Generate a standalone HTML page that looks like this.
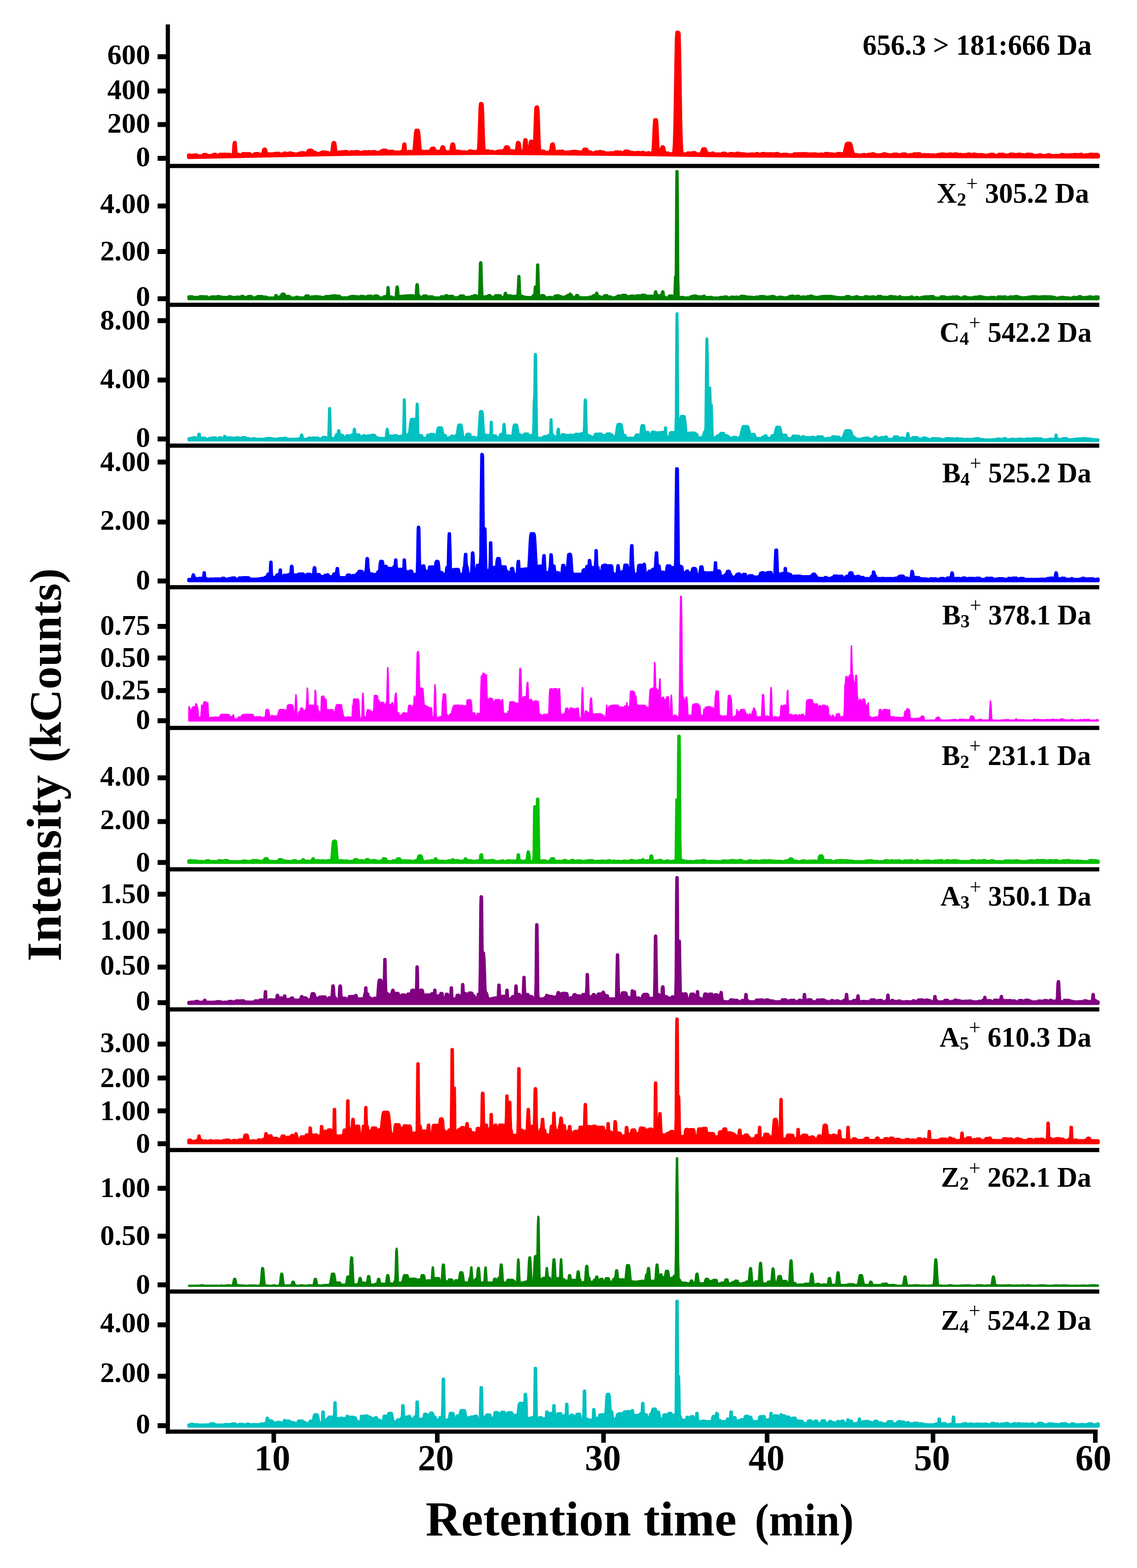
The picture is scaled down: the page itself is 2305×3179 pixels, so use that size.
<!DOCTYPE html><html><head><meta charset="utf-8"><title>Chromatograms</title>
<style>html,body{margin:0;padding:0;background:#fff;overflow:hidden;}svg{display:block;}svg{font-family:"Liberation Serif","Times New Roman",serif;font-weight:bold;}text{fill:#000;}</style></head><body>
<svg width="2305" height="3179" viewBox="0 0 2305 3179">
<rect x="0" y="0" width="2305" height="3179" fill="#fff"/>
<path d="M383.0,318.5L383,315.1L385,315.1L386,315.3L387,316.4L388,317L389,316.2L390,315.7L391,315.6L392,315.6L393,315.2L394,315.1L395,315.1L396,314.9L397,314.9L398,315L399,315L400,316.1L401,317.1L404,317.1L405,317L409,317L410,316.9L411,316.4L412,315.1L413,314.1L416,314.1L417,314L418,314L419,315.2L420,316L421,316L422,315.9L423,316.4L424,316.7L425,316.6L426,316.6L427,316.4L428,315.7L429,315.3L432,315.3L433,314.5L434,313.5L435,313.5L436,313.4L437,313.6L438,314.9L439,316.2L440,316L442,316L443,316.1L444,315.5L445,314.3L446,313.5L447,313.4L451,313.4L452,313.5L453,313.8L454,313.5L457,313.5L458,313.4L459,313.7L460,314.6L461,314.4L462,313.7L463,313.7L464,313.6L465,313.6L466,314.5L467,314.6L468,314.6L469,314.7L470,315.4L471,315.3L472,315.2L473,315.2L474,309.9L475,294.6L475.8,289.6L476,289.6L477,301L478,313.4L480,313.4L481,313.9L482,313.8L483,313.6L484,313.6L485,314.1L486,315L487,315.4L488,315.3L489,314.8L490,314.7L491,313.6L492,312.3L497,312.3L498,312.7L500,312.7L501,312.3L502,312.3L503,312.2L506,312.2L507,313.3L508,314.6L509,314.8L510,314.8L511,314.9L512,314.9L513,314.8L514,314.8L515,314L516,312.8L517,312.2L519,312.2L520,312.1L523,312.1L524,312.7L525,313.5L528,313.5L529,313.4L530,314L531,314.5L532,314.4L533,313.3L534,309.4L535,304.5L536,302.9L537,302.9L538,304.6L539,309.5L540,313.3L541,313.3L542,312.7L546,312.7L547,312.8L548,313.6L549,313.4L550,312.7L553,312.7L554,313.5L555,313L556,311.9L557,311.7L561,311.7L562,311.6L563,311.4L565,311.4L566,311.6L567,312.7L568,313.7L570,313.7L571,313.6L572,313.3L573,313.2L574,312.9L575,312L576,311L577,311L578,311.1L579,311.6L581,311.6L582,312.5L585,312.5L586,311.6L587,310.7L589,310.7L590,311.4L591,312L592,311.8L594,311.8L595,312.1L596,312.9L597,313.1L600,313.1L601,313L604,313L605,312.2L606,311.7L607,311.7L608,311.5L609,310.7L610,310.7L611,310.6L615,310.6L616,310.5L617,310.9L618,312L619,312.4L620,312.4L621,312.3L622,311.9L623,310.6L624,308.8L625,307L626,305.6L627,305.2L631,305.2L632,305.6L633,307L634,308.8L635,310.3L636,309.6L637,309.5L639,309.5L640,310.2L641,311.4L642,312.2L643,312.2L644,312.1L647,312.1L648,311.9L649,311.1L650,310.7L651,310.7L652,309.5L653,309.1L654,309L658,309L659,308.9L660,309.6L661,310.6L662,310.1L663,310.1L664,310L665,310.2L666,311.1L667,311.7L668,311.7L669,311.6L670,311.3L671,310.6L672,310.6L673,310.4L674,305L675,296L676,289.8L676.9,289.6L677,289.6L678,290.3L679,297.9L680,306.4L681,308.8L682,308.9L683,310.1L684,311L685,310.9L686,309.8L687,308.9L690,308.9L691,308.8L692,308.8L693,309L694,308.6L696,308.6L697,308.5L698,309.1L699,308.1L701,308.1L702,308L703,308L704,308.3L705,309.6L706,311L707,311L708,310.9L709,310.5L710,309.3L711,308.6L712,308.6L713,308.5L716,308.5L717,309.3L718,310.4L719,310.4L720,309.1L721,308L726,308L727,308.7L728,309.6L730,309.6L731,310.2L732,310.8L734,310.8L735,309.7L736,308.6L737,308.4L742,308.4L743,308.5L744,308.6L745,308.6L746,308.3L747,308.1L749,308.1L750,308.4L751,309.6L752,309.8L753,309.8L754,308.7L755,308.3L761,308.3L762,309.3L763,309.9L768,309.9L769,309.7L770,308.5L771,307.9L773,307.9L774,306.8L775,305.8L776,305.3L777,305.2L782,305.2L783,305.5L784,306.4L785,307.5L786,308.6L787,309.6L788,309.7L789,308.4L790,307.5L797,307.5L798,308.5L799,309.8L800,310.3L801,309.6L802,309.1L809,309.1L810,309.4L811,310.2L812,310.2L813,308.9L814,307.6L815,307.3L817,307.3L818,305.1L819,294.4L819.6,292.5L820,292.8L821,302.4L822,308.6L824,308.6L825,309.2L826,309.9L827,309.8L828,308.6L829,307.8L830,307.7L832,307.7L833,308.1L834,309.2L835,309.9L836,309.8L837,309.7L838,309.7L839,308.3L840,303.7L841,294.9L842,282.7L843,270.7L844,264.8L845,264.7L847,264.7L848,268.3L849,279.2L850,291.8L851,301.7L852,307.3L853,308.5L854,307.5L858,307.5L859,307.7L860,307.8L861,307.7L862,308.1L863,309.1L864,308.6L865,307.6L872,307.6L873,307L874,304.3L875,302L876,301.2L877.4,301.2L878,301.1L879,301.1L880,302.3L881,304.7L882,307.3L883,307.6L885,307.6L886,307.5L888,307.5L889,307.7L894,307.7L895,305.5L896,300.5L897,298.3L898,298.3L899,299.4L900,304.1L901,306.8L902,307L903,308.3L904,309.3L905,308.8L906,308.5L907,308.5L908,308.4L910,308.4L911,308.6L912,309L913,309L914,308.8L915,304.5L916,297.3L917,292.6L917.9,292.5L918,292.5L919,293.2L920,299.2L921,305.9L922,308.2L924,308.2L925,307.9L926,307.2L929,307.2L930,308L934,308L935,308.5L936,309.2L937,308.8L938,308.7L939,308.7L940,308.6L943,308.6L944,309.1L945,309.4L947,309.4L948,309.3L949,309.3L950,308.2L951,307L952,306.7L956,306.7L957,307.1L958,307.7L961,307.7L962,308.1L963,308.5L964,309.2L965,308.7L966,307.6L967,307.2L968,307.1L969,307.1L970,307.7L971,300.5L972,281L973,248.5L974,217.8L975,210.4L976,210.4L977,212.6L978,237.6L979,272L980,295.9L981,306.4L982,307.3L983,307.3L984,307.6L985,306.7L988,306.7L989,306.6L990,306.6L991,307.4L992,307.8L994,307.8L995,307.7L999,307.7L1000,308.4L1001,309L1003,309L1004,308.8L1005,308.6L1006,308.7L1007,308.7L1008,308.1L1009,307.2L1010,307.2L1011,307.1L1012,306.9L1016,306.9L1017,306.5L1019,306.5L1020,306.6L1021,307.8L1022,308.3L1023,306.1L1024,303L1025,299.9L1026,298.3L1029,298.3L1030,299.1L1031,301.9L1032,305.2L1033,307.1L1034,306.4L1040,306.4L1041,306.5L1042,307.6L1043,308.6L1044,308.6L1045,309.1L1046,309.4L1047,308.1L1048,302.7L1049,294.4L1050,289.6L1051,289.6L1052,290.8L1053,298.2L1054,305.7L1055,307.8L1056,307.5L1058,307.5L1059,307.7L1060,308.1L1062,308.1L1063,301.3L1064,288.7L1065,283.8L1065.2,283.8L1066,284.8L1067,295.8L1068,306.3L1069,309.3L1070,308.5L1071,308.2L1072,308.3L1073,308.1L1074,306.8L1075,297.5L1076,287.6L1076.8,286.7L1077,286.7L1078,291.1L1079,302.4L1080,307.8L1081,308.5L1082,308.5L1083,307.2L1084,297.3L1085,274.8L1086,242.6L1087,219.3L1088,217.4L1089,217.4L1090,224.4L1091,253.2L1092,283.6L1093,301.7L1094,308.7L1095,309.8L1096,308.5L1097,307.2L1098,307L1102,307L1103,307.7L1104,308.9L1105,309.9L1107,309.9L1108,309.7L1110,309.7L1111,309.5L1112,308.9L1113,308.8L1115,308.8L1116,308.9L1117,306.2L1118,299.3L1119,293.2L1120,292.5L1120.1,292.5L1121,292.6L1122,297.5L1123,304.9L1124,308.4L1125,308.5L1128,308.5L1129,309L1130,307.9L1131,307.6L1135,307.6L1136,307.7L1137,307.2L1141,307.2L1142,307.9L1143,309.2L1144,309.6L1147,309.6L1148,309.7L1149,309.3L1150,309.1L1152,309.1L1153,309.2L1155,309.2L1156,309.3L1157,308.1L1158,307.9L1162,307.9L1163,307.8L1168,307.8L1169,308.4L1171,308.4L1172,308.5L1173,308.6L1174,308.9L1176,308.9L1177,309L1178,308.9L1179,309L1181,309L1182,308.4L1183,306.1L1184,303.9L1185,302.9L1188,302.9L1189,303.7L1190,305.8L1191,308.1L1192,309.2L1193,309.1L1194,308.8L1197,308.8L1198,309.8L1199,310.7L1204,310.7L1205,310.4L1206,309.8L1207,309.9L1208,308.9L1209,308.8L1213,308.8L1214,308.5L1215,308L1219,308L1220,308.8L1221,309.1L1224,309.1L1225,309.8L1226,310.8L1227,310.9L1234,310.9L1235,311L1236,311L1237,310.7L1238,310.5L1242,310.5L1243,310.8L1244,311L1245,311L1246,310.2L1247,309.1L1248,308.8L1253,308.8L1254,309.4L1255,309.4L1256,309L1258,309L1259,309.6L1260,310.7L1261,311.2L1263,311.2L1264,310.7L1265,309.7L1266,308.5L1267,307.5L1268,306.9L1272,306.9L1273,307.1L1274,307.8L1275,308.9L1276,309.3L1278,309.3L1279,309.4L1280,310L1281,309.8L1282,309.8L1283,309.9L1284,310.4L1285,310.6L1288,310.6L1289,310.5L1290,310L1295,310L1296,310.1L1297,310.9L1298,311L1299,311L1300,310.9L1301,310L1302,309.7L1304,309.7L1305,309.9L1306,310.9L1307,311.6L1310,311.6L1311,311.7L1312,311.7L1313,311L1314,310.3L1316,310.3L1317,311L1318,311.8L1323,311.8L1324,309.2L1325,300.1L1326,281.2L1327,257.1L1328,243.5L1329,243.4L1330,243.4L1331,252.3L1332,275.5L1333,296.6L1334,308L1335,309.7L1336,310.8L1337,311.8L1338,311.6L1339,311.3L1340,310.2L1341,306.4L1342,300.5L1343,298.3L1344,298.3L1345,300L1346,305.7L1347,310.6L1348,312.2L1349,311.8L1350,311.1L1351,310.9L1354,310.9L1355,311.6L1356,312.3L1357,312.4L1362,312.4L1363,312.2L1364,312.2L1365,311.9L1366,310.7L1367,305.9L1368,290.3L1369,256.3L1370,199.9L1371,131.5L1372,78.4L1373,65.9L1374,66L1375,66L1376,68.5L1377,107.6L1378,173.9L1379,237.2L1380,280L1381,301.7L1382,310.3L1383,312L1384,312.6L1385,312.8L1389,312.8L1390,312.9L1392,312.9L1393,312L1394,311L1395,310.9L1396,311L1399,311L1400,311.1L1401,311.4L1402,311.4L1403,310.8L1404,310.2L1408,310.2L1409,310.3L1410,311.2L1411,312.6L1412,313.2L1414,313.2L1415,313L1416,312.8L1417,312.9L1419,312.9L1420,312.5L1421,312.2L1422,311.9L1423,309.3L1424,306L1425,303.2L1426,302.3L1428,302.3L1429,302.4L1430,303.9L1431,307.1L1432,310.3L1433,311.5L1434,311.5L1435,311.6L1437,311.6L1438,312.3L1439,313.3L1440,313.6L1441,313.6L1442,312.8L1443,311.5L1444,311L1446,311L1447,311.8L1448,313L1449,313.7L1450,313.8L1451,313.6L1452,313L1453,312.9L1455,312.9L1456,313L1459,313L1460,313.6L1461,313.9L1462,313.9L1463,313.4L1464,312.2L1465,311.4L1466,311.5L1470,311.5L1471,311.6L1472,312.8L1473,314L1474,314.1L1476,314.1L1477,313.9L1478,313.4L1479,312.4L1480,312L1485,312L1486,312.1L1487,313L1488,313.6L1489,313.6L1490,313.9L1491,313.6L1492,312.3L1493,311.6L1498,311.6L1499,311.7L1500,312.6L1501,313.3L1502,312.6L1509,312.6L1510,313L1511,313.4L1514,313.4L1515,314L1516,314.3L1517,313.6L1518,313.5L1519,313.5L1520,313.3L1521,313.3L1522,313L1528,313L1529,313.2L1530,313.6L1532,313.6L1533,312.8L1534,311.9L1536,311.9L1537,312.4L1538,313.6L1539,314.6L1542,314.6L1543,313.5L1544,312.3L1545,312L1549,312L1550,313.1L1551,312.4L1558,312.4L1559,312.5L1565,312.5L1566,312.7L1572,312.7L1573,311.9L1577,311.9L1578,313.1L1579,313.9L1582,313.9L1583,314.2L1584,314.7L1586,314.7L1587,314L1588,313.5L1593,313.5L1594,313.6L1595,314.1L1597,314.1L1598,314.5L1599,314.8L1606,314.8L1607,314.4L1608,313.7L1609,313.7L1610,312.8L1611,312.4L1612,312.4L1613,312.7L1614,313.8L1615,313L1616,312.4L1621,312.4L1622,312.6L1623,312.5L1624,312.3L1626,312.3L1627,312.4L1628,312.5L1629,312.3L1635,312.3L1636,313L1637,313.7L1638,313.7L1639,313L1645,313L1646,313.1L1647,314L1648,313L1649,312.8L1654,312.8L1655,313.2L1656,314.3L1657,314.3L1658,314.5L1659,313.7L1660,313.6L1663,313.6L1664,313.4L1665,313.2L1668,313.2L1669,314.1L1670,315L1671,314.3L1672,313L1673,312.1L1679,312.1L1680,313.1L1681,313.8L1682,312.8L1683,312.7L1687,312.7L1688,313.5L1693,313.5L1694,314L1695,314L1696,313.8L1697,312.5L1698,312.1L1705,312.1L1706,312.2L1707,313.5L1708,314.6L1709,313.5L1710,312.5L1711,312.5L1712,310.6L1713,307.2L1714,302.9L1715,298.3L1716,294.3L1717,291.8L1718,291.3L1723,291.3L1724,292.4L1725,295.5L1726,299.8L1727,304.4L1728,308.5L1729,311.6L1730,313.1L1731,313.1L1732,313.5L1733,314.3L1735,314.3L1736,314.4L1737,314.5L1738,314.5L1739,314.8L1740,315.2L1742,315.2L1743,315L1748,315L1749,314.6L1750,314.1L1753,314.1L1754,314.6L1755,314.7L1756,314.5L1760,314.5L1761,313.7L1762,313.4L1767,313.4L1768,312.7L1769,312.4L1771,312.4L1772,313.4L1773,313.4L1774,313.8L1775,314.7L1783,314.7L1784,315L1785,315.2L1786,314.4L1787,314.1L1789,314.1L1790,313.9L1791,312.7L1792,312.5L1795,312.5L1796,313.5L1797,314.8L1798,314.1L1800,314.1L1801,314.4L1802,315.2L1803,315.3L1804,315.3L1805,314.7L1806,314.4L1809,314.4L1810,314.6L1811,313.6L1812,313.2L1818,313.2L1819,313.7L1820,314.8L1821,315.1L1822,314.4L1825,314.4L1826,314.5L1827,314.8L1828,313.7L1829,313L1831,313L1832,312.8L1835,312.8L1836,313.4L1837,314.7L1838,314.8L1839,314.8L1840,315.2L1841,315.3L1843,315.3L1844,315L1845,314.3L1851,314.3L1852,313.2L1853,312.5L1854,312.5L1855,313L1856,314.4L1857,313.7L1858,312.6L1865,312.6L1866,313.4L1867,314.7L1868,315.5L1869,315.5L1870,315.1L1871,314.9L1872,314.9L1873,314.3L1876,314.3L1877,314.9L1878,314.4L1885,314.4L1886,314.6L1887,315.3L1888,315.5L1889,315L1890,314.7L1893,314.7L1894,314.9L1895,315.5L1896,315.6L1898,315.6L1899,314.9L1900,314.5L1901,314.5L1902,313.8L1903,313.8L1904,313.9L1905,313.9L1906,314L1907,313.2L1908,313.1L1914,313.1L1915,314.3L1915.7,314L1916,313.8L1921,313.8L1922,314.8L1923,313.8L1924,313.1L1929,313.1L1930,314.3L1931,315.5L1932,315.7L1933,314.5L1934,313.2L1935,312.8L1940,312.8L1941,313.5L1942,314.6L1943,314.4L1944,314L1945,314L1946,313.8L1948,313.8L1949,314L1950,314L1951,314.9L1952,315.7L1953,315.4L1954,314.5L1955,314.2L1961,314.2L1962,313.2L1963,313L1966,313L1967,314.1L1968,314.2L1971,314.2L1972,313.5L1973,313.3L1977,313.3L1978,313.6L1979,314.3L1982,314.3L1983,314.7L1984,314.7L1985,314.3L1992,314.3L1993,315L1994,315.1L1995,315.1L1996,315.3L1997,315.8L2000,315.8L2001,315.7L2002,315.3L2003,315.3L2004,314.5L2005,314.3L2008,314.3L2009,313.6L2010,313.5L2014,313.5L2015,314.3L2016,315.5L2017,315.9L2022,315.9L2023,315.5L2024,314.3L2025,313.4L2027,313.4L2028,313.6L2034,313.6L2035,313.7L2036,314.8L2037,315.7L2038,315.2L2042,315.2L2043,315.8L2044,315.9L2045,315.1L2046,314.6L2047,314.2L2048,313.3L2054,313.3L2055,313.4L2056,314L2057,314.8L2058,315.3L2059,314.3L2060,313.9L2063,313.9L2064,313.8L2065,313.3L2068,313.3L2069,313.5L2070,314.7L2071,315.9L2072,315L2073,314.3L2075,314.3L2076,315.2L2077,315.9L2078,315.7L2079,315.6L2080,314.4L2081,313.5L2088,313.5L2089,313.8L2091,313.8L2092,313.9L2093,314L2094,315.1L2095,316.1L2098,316.1L2099,316.2L2100,315.9L2104,315.9L2105,315.8L2106,314.9L2107,314.5L2109,314.5L2110,314.6L2111,315L2112,315.9L2113,316.2L2117,316.2L2118,316L2121,316L2122,315.9L2123,315L2124,314.4L2128,314.4L2129,315.1L2130,316L2131,316.2L2135,316.2L2136,316.3L2138,316.3L2139,316.1L2140,315.9L2144,315.9L2145,316.2L2146,316.3L2149,316.3L2150,315.5L2151,314.4L2152,314L2155,314L2156,314.3L2157,315.4L2158,314.7L2165,314.7L2166,314.9L2167,315.5L2168,314.8L2169,314.4L2170,314.5L2175,314.5L2176,314.2L2177,314L2183,314L2184,314.3L2185,315.4L2186,315.1L2187,314.2L2189,314.2L2190,313.9L2191,313.5L2193,313.5L2194,314.5L2195,315.8L2196,316.4L2198,316.4L2199,315.9L2200,314.9L2201,314.5L2206,314.5L2207,315.2L2208,314.9L2209,313.6L2210,313.5L2215,313.5L2216,313.7L2217,315L2218,314.7L2219,313.7L2222,313.7L2223,313.8L2225,313.8L2226,314.5L2226.0,317.5L1500.0,315.5L1300.0,312.5L1000.0,310.0L700.0,312.0Z" fill="#ff0000" stroke="#ff0000" stroke-width="8" stroke-linejoin="round" stroke-linecap="round"/>
<path d="M383.0,605.5L383,601.7L390,601.7L391,602L392,603.3L393,604.3L394,604.3L395,603.9L396,603.1L401,603.1L402,603.4L403,603.4L404,602.1L405,601.6L412,601.6L413,602.4L414,602.9L415,601.8L419,601.8L420,602.8L421,604L422,604.4L424,604.4L425,603.8L426,602.8L427,602.6L428,602.6L429,602.2L430,602.1L436,602.1L437,602.2L440,602.2L441,601.2L444,601.2L445,601.4L446,602.9L447,602.8L448,602.2L450,602.2L451,602.7L452,603.8L453,603.2L454,603.1L457,603.1L458,603.2L459,603.3L462,603.3L463,602.5L464,601.5L467,601.5L468,601.7L469,603.1L470,603.1L471,602.9L475,602.9L476,603.8L477,603.3L479,603.3L480,602.3L483,602.3L484,602.4L485,603.5L486,604.3L487,604.3L488,603L489,601.5L490,601L493,601L494,602.3L495,603.1L499,603.1L500,603.2L501,604L502,602.7L503,601.3L504,601.1L508,601.1L509,601.6L510,601.6L511,602L512,603.3L513,604.3L517,604.3L518,604L519,603L520,602.3L521,602.3L522,602.4L523,601.2L526,601.2L527,601.3L528,601.3L529,601.2L532,601.2L533,602.6L534,604.1L535,604L536,602.9L537,602.2L539,602.2L540,602.5L541,603.6L542,604.2L557,604.2L558,603.2L559,599.4L559.6,599.1L560,599.1L561,602.5L562,604.2L564,604.2L565,604.1L566,602.8L567,601.7L570,601.7L571,598.8L572,596.5L573,596.2L575,596.2L576,596.5L577,598.6L578,601.5L579,601.6L580,601.3L581,601L586,601L587,601.3L588,602.8L589,604.2L598,604.2L599,603.9L600,602.9L601,602.7L604,602.7L605,603.1L606,604L607,604.1L617,604.1L618,603.9L619,602.1L620,600.3L621,600.1L625,600.1L626,601.6L627,603.4L628,604.1L629,604.1L630,603.3L631,602.2L634,602.2L635,602.8L636,601.7L637,601.5L642,601.5L643,601.6L644,602L648,602L649,602.1L650,602.7L651,602.9L654,602.9L655,603.1L656,604L657,604.1L658,603.6L659,602.2L660,601.3L667,601.3L668,602.1L669,600.8L671,600.8L672,601.5L673,600.1L677,600.1L678,599.7L681,599.7L682,600.5L683,601.5L684,600.9L685,600.5L688,600.5L689,602L690,602.4L691,602.8L692,603.1L693,604L698,604L699,603.8L701,603.8L702,604L706,604L707,603.5L708,602.3L709,602.1L711,602.1L712,601.3L713,601L717,601L718,602.4L719,601.6L725,601.6L726,602.1L727,603.3L728,604L729,603.6L730,602.1L731,601.1L737,601.1L738,602.1L739,602.7L740,603.4L741,602.5L742,602L744.5,602L745,601.5L746,600.6L753,600.6L754,601.8L755,603.4L756,603.7L757,603.7L758,602.7L759,600.8L760,599.9L765,599.9L766,600.7L767,602.6L768,604L776,604L777,603.9L778,602.5L779,601.5L785,601.5L786,593.5L786.7,582.9L787,585.6L788,602.8L790,602.8L791,602.6L792,602.2L794,602.2L795,603.2L796,604L802,604L803,602.8L804,591L805,581.7L805.2,581.7L806,585.6L807,599.7L808,602.9L809,601.4L810,601.2L812,601.2L813,601L814,600.7L819,600.7L820,600.4L821,600L825,600L826,600.4L827,600L828,599.7L832,599.7L833,599.5L837,599.5L838,600.5L839,601.4L842,601.4L843,601.7L844,596L845,579.2L845.6,577.1L846,577.3L847,591.5L848,601.3L851,601.3L852,601.8L853,603.2L854,603.9L856,603.9L857,602.6L858,600.8L859,600L864,600L865,600.5L866,602.3L867,603.9L868,603.9L869,603.5L870,602.2L871,601.7L876,601.7L877,601.9L878,603.2L879,603.9L893,603.9L894,602.6L895,601.6L897,601.6L898,602.2L899,601.9L902,601.9L903,599.9L904,599.4L906,599.4L907,600.4L908,602.4L909,603.8L910,603.6L911,602L912,600.7L917,600.7L917.9,600.9L918,601.1L919,602.7L920,603.4L922,603.4L923,603.9L926,603.9L927,603.6L928,602.9L931,602.9L932,602L933,600.2L934,600L939,600L940,600.3L941,602.1L942,603.9L944,603.9L945,603.2L949,603.2L950,602.7L953,602.7L954,602.8L955,602.6L956,601.3L959,601.3L960,600.3L961,599.6L965,599.6L966,600.4L967,602.4L968,601.3L972,601.3L973,575.6L974,534.8L974.5,532.6L975,534.9L976,575.7L977,601.6L978,602.1L981,602.1L982,602.7L983,601.9L984,601.4L989,601.4L990,599.4L991,599.3L993,599.3L994,599.9L995,601.9L996,603L999,603L1000,603.3L1001,602.6L1002,602.6L1003,601.9L1004,599.9L1005,599.5L1008,599.5L1009,599.4L1014,599.4L1015,601L1016,603L1017,603.1L1021,603.1L1022,603.8L1023,602.6L1024,596L1024.8,594.4L1025,594.4L1026,599.1L1027,602.9L1029,602.9L1030,601.5L1031,599.7L1034,599.7L1035,599.8L1036,601.7L1037,601.8L1038,601L1042,601L1043,601.6L1044,601L1045,600.6L1050,600.6L1051,581.4L1051.9,560.4L1052,560.4L1053,585.9L1054,600.5L1058,600.5L1059,601.4L1061,601.4L1062,602.4L1063,602.9L1067,602.9L1068,603.2L1073,603.2L1074,603.5L1075,603.8L1078,603.8L1079,602.9L1080,600.8L1081,599.4L1084,599.4L1085,584.4L1085.5,581.7L1086,585.9L1087,601.8L1088,602.6L1089,576.2L1090,537.2L1090.1,537.2L1091,568.7L1092,600L1095,600L1096,601.3L1097,601.3L1098,600.4L1099,599.3L1102,599.3L1103,600.5L1104,602.6L1105,603.8L1112,603.8L1113,603L1117,603L1118,603.8L1123,603.8L1124,602.2L1125,600.5L1126,600.3L1127,600.3L1128,599.8L1132,599.8L1133,600L1134,601.4L1138,601.4L1139,602.7L1140,602.9L1143,602.9L1144,603.4L1145,602.9L1146,601.5L1149,601.5L1150,600.4L1151,598.8L1154,598.8L1155,598.4L1156,596.2L1156,596.2L1157,598.8L1158,598.8L1159,599.7L1160,601.9L1161,602.7L1162,603.1L1163,603.8L1166,603.8L1167,602.3L1168,600.2L1169,599.1L1171,599.1L1172,600.7L1173,602.8L1174,603.8L1194,603.8L1195,603.4L1196,602.3L1197,602.2L1199,602.2L1200,602.8L1201,602.1L1202,601.6L1203,599.5L1204,599.2L1206,599.2L1207,600.6L1208,602.1L1209,595.5L1209.7,594.4L1210,594.5L1211,599.7L1212,600.8L1214,600.8L1215,601.8L1216,602.1L1218,602.1L1219,602.7L1220,603.8L1223,603.8L1224,602L1225,600.1L1226,599.6L1231,599.6L1232,601.6L1233,602L1238,602L1239,603.1L1240,603.8L1247,603.8L1248,602.8L1249,602.5L1251,602.5L1252,600.8L1253,600L1256,600L1257,600.3L1258,602.1L1259,602.2L1260,602.2L1261,600.8L1262,598.7L1268,598.7L1269,599.7L1270,600.6L1271,600.6L1272,601.7L1273,602L1274,601.5L1276,601.5L1277,602.1L1278,601.4L1279,600.3L1284,600.3L1285,601.4L1286,603.1L1287,603.8L1288,603.5L1289,601.6L1290,599.7L1296,599.7L1297,599.8L1298,601.7L1299,601.7L1300,599.7L1301,598.7L1308,598.7L1309,600.5L1310,600.7L1316,600.7L1317,600.8L1318,600.6L1321,600.6L1322,600.7L1323,602.4L1324,603.8L1325,603.8L1326,601.9L1327,599.9L1328,596.4L1329,591.6L1329.1,591.6L1330,594.3L1331,599.7L1332,601.7L1333,602L1334,600L1335,599.5L1339,599.5L1340,600.6L1341,601L1342,600.3L1343,592.3L1343.6,591.6L1344,591.8L1345,599.2L1346,602.6L1347,602.6L1348,602.7L1349,603.7L1350,603.9L1353,603.9L1354,603.7L1355,603.6L1356,602.1L1357,600.3L1358,600.1L1362,600.1L1363,600.6L1364,601.4L1365,601.4L1366,601.6L1367,602.9L1368,603.6L1369,576.9L1369.6,561.5L1370,571.1L1371,554.9L1372,378L1372.5,347.7L1373,391.2L1374,564L1375,603.7L1376,603.7L1377,603.9L1378,604L1379,604L1380,603.7L1381,602.9L1385,602.9L1386,603.8L1387,604L1390,604L1391,604.1L1398,604.1L1399,602.9L1400,601.8L1403,601.8L1404,601L1405,600.4L1406,600.4L1407,600.3L1408,600.1L1410,600.1L1411,600.3L1412,601.8L1413,602.6L1414,601.6L1416,601.6L1417,601.7L1418,603L1419,603.1L1420,601.9L1421,601.7L1425,601.7L1426,602.1L1427,600.2L1427.4,600.2L1428,600.6L1429,603.8L1430,604.2L1431,604.1L1432,603.3L1433,603.2L1436,603.2L1437,603.6L1438,603.9L1439,603.1L1443,603.1L1444,603.6L1445,604.2L1450,604.2L1451,604.3L1458,604.3L1459,603.6L1460,602.9L1467,602.9L1468,602.3L1469,602L1473,602L1474,602.3L1475,603.5L1476,604.3L1480,604.3L1481,603.4L1482,602.4L1487,602.4L1488,603.3L1489,604.3L1490,604.3L1491,603.2L1492,602.2L1494,602.2L1495,602.8L1496,603.9L1497,604L1499,604L1500,603.1L1501,601.5L1502,600.8L1506,600.8L1507,601L1509,601L1510,601.9L1511,601.6L1512,601.6L1513,601.8L1514,602.4L1521,602.4L1522,602.6L1523,603L1527,603L1528,603.5L1529,603.8L1530,604.3L1531,604.3L1532,603.4L1533,602.3L1534,602.2L1535,602.2L1536,603.1L1537,604.2L1538,604.2L1539,602.8L1540,601.4L1541,601.3L1546,601.3L1547,601.6L1551,601.6L1552,602.7L1553,603.8L1554,604.3L1555,603.6L1556,602.6L1557,602.2L1562,602.2L1563,601.2L1569,601.2L1570,601.5L1571,603L1572,604.3L1573,604.3L1574,604.2L1575,603.5L1577,603.5L1578,603.9L1579,602.8L1580,602.4L1583,602.4L1584,603L1586,603L1587,603.1L1588,603.9L1589,604.2L1590,603.7L1594,603.7L1595,603.9L1596,603.6L1597,603L1599,603L1600,602.4L1601,600.9L1604,600.9L1605,600.2L1608,600.2L1609,600.9L1610,602.5L1611,604L1612,603.8L1613,602.4L1614,600.9L1615,600.8L1620,600.8L1621,602L1622,603.5L1623,603.8L1624,603.5L1625,603.5L1626,602.8L1627,601.9L1630,601.9L1631,603L1632,604.1L1633,603.1L1634,602.5L1635,602.4L1636,601.5L1639,601.5L1640,602.2L1641,601.7L1642,600.4L1643,600.2L1645,600.2L1646,600.4L1647,601.6L1648,602.1L1651,602.1L1652,602.7L1653,603.3L1656,603.3L1657,603.1L1658,603L1660,603L1661,602.4L1662,601.9L1665,601.9L1666,601.3L1670,601.3L1671,601.4L1672,601L1677,601L1678,601.1L1679,600.9L1685,600.9L1686,601.1L1687,601.9L1688,601.8L1691,601.8L1692,602.1L1693,602.4L1694,602.4L1695,603.2L1696,603.6L1697,603.2L1701,603.2L1702,604L1703,603.9L1704,603.6L1713,603.6L1714,603.1L1715,601.7L1716,601.3L1721,601.3L1722,601.4L1723,602.8L1724,603.6L1726,603.6L1727,603.9L1728,604.1L1729,603.2L1730,602.7L1733,602.7L1734,603L1735,601.9L1736,601.6L1738,601.6L1739,602.6L1740,602.7L1741,602.7L1742,603.4L1750,603.4L1751,603.9L1752,603.3L1753,601.9L1754,601.4L1758,601.4L1759,602.3L1760,602.8L1761,602.6L1767,602.6L1768,601.7L1771,601.7L1772,601.9L1773,603.2L1774,603.4L1775,603.4L1776,603.1L1777,602.9L1778,602.9L1779,601.7L1780,601L1786,601L1787,601.8L1788,602.8L1798,602.8L1799,603.4L1800,604.3L1801,604.2L1802,602.8L1803,601.4L1804,601.3L1809,601.3L1810,601.9L1814,601.9L1815,602L1816,602L1817,602.6L1818,603.7L1820,603.7L1821,604.3L1822,603L1823,601.7L1824,601.5L1825,601.5L1826,602.6L1827,603.4L1832,603.4L1833,604L1834,604.3L1835,603.6L1836,603.5L1842,603.5L1843,603.8L1844,604.4L1845,603.7L1846,602.5L1847,601.9L1848,601.9L1849,602L1850,603.2L1851,604.3L1852,604.2L1855,604.2L1856,604L1857,603.2L1858,602.9L1860,602.9L1861,603.7L1862,604.4L1866,604.4L1867,604.1L1868,603.1L1869,602.7L1873,602.7L1874,602.4L1875,601.7L1880,601.7L1881,602.1L1882,602.1L1883,602.6L1884,601.8L1885,601.2L1891,601.2L1892,601.3L1893,602.7L1894,603.9L1896,603.9L1897,604L1898,604.4L1905,604.4L1906,604.1L1907,602.9L1908,601.7L1914,601.7L1915,602.3L1916,602.3L1917,602.8L1918,603.9L1919,604.4L1920,603.8L1921,603.4L1923,603.4L1924,602.8L1926,602.8L1927,603.3L1928,604.2L1929,604.1L1930,602.9L1931,601.9L1933,601.9L1934,602.4L1935,603.6L1936,603.5L1937,602.2L1938,601.8L1941,601.8L1942,602.5L1943,603L1944,603.1L1945,603.9L1946,604.4L1951,604.4L1952,603.4L1953,602.3L1954,602.1L1958,602.1L1959,602.5L1960,603.7L1963,603.7L1964,603.8L1965,604.1L1971,604.1L1972,604L1973,603.7L1974,602.8L1975,602.7L1981,602.7L1982,602.8L1983,602.6L1984,601.6L1989,601.6L1990,602.4L1993,602.4L1994,602.8L1995,602.8L1996,603.7L1997,604.2L1998,604.2L1999,603.6L2000,603.5L2002,603.5L2003,603.8L2004,604.4L2005,604.4L2006,603.8L2007,603.1L2011,603.1L2012,603.6L2013,603.1L2016,603.1L2017,603.8L2018,604.4L2021,604.4L2022,603.3L2023,602.1L2024,602L2030,602L2031,602.3L2032,603.5L2033,602.7L2034,602L2039,602L2040,602.3L2041,603.5L2042,604.4L2044,604.4L2045,604.3L2046,603.1L2047,602.1L2052,602.1L2053,603.2L2054,603.5L2055,603.5L2056,602.3L2057,601.3L2063,601.3L2064,602.3L2065,603.1L2069,603.1L2070,603.4L2071,604.2L2072,604.5L2073,604.5L2074,604L2075,603.6L2076,603.6L2077,603.5L2078,603.4L2083,603.4L2084,603L2085,602.4L2090,602.4L2091,602.1L2092,601.4L2096,601.4L2097,602.7L2098,601.8L2103,601.8L2104,602.4L2108,602.4L2109,602.2L2110,602.2L2111,601.9L2112,601.8L2115,601.8L2116,601.4L2119,601.4L2120,601.9L2121,602.3L2122,601.8L2128,601.8L2129,602.1L2133,602.1L2134,602.6L2135,603.7L2136,602.9L2138,602.9L2139,603.7L2140,604.5L2145,604.5L2146,604.2L2147,604.2L2148,604L2149,603.1L2150,602.9L2157,602.9L2158,603.7L2165,603.7L2166,604.1L2167,604.5L2174,604.5L2175,603.6L2176,602.8L2179,602.8L2180,603.1L2181,603.8L2184,603.8L2185,603.1L2186,602.9L2187,601.5L2191,601.5L2192,602.6L2193,603.4L2194,603.6L2198,603.6L2199,603L2206,603L2207,602.1L2213,602.1L2214,602.9L2215,604.1L2216,604.5L2217,604.5L2218,604.1L2219,602.9L2220,601.9L2226,601.9L2226.0,605.5Z" fill="#008000" stroke="#008000" stroke-width="6.5" stroke-linejoin="round" stroke-linecap="round"/>
<path d="M383.0,892.0L383,889.3L386,889.3L387,888.9L388,888.9L389,888.1L390,887.8L392,887.8L393,887L395,887L396,887.2L397,888.9L398,889.6L401,889.6L402,887.5L403,880.6L403.6,880L404,880.2L405,886.6L406,890L407,890L408,888.8L409,888.3L413,888.3L414,888.2L416,888.2L417,889.4L418,890.5L423,890.5L424,889.6L425,888.4L429,888.4L430,888.6L431,888L432,887.4L437,887.4L438,887.9L439,889.5L440,889.8L442,889.8L443,890L444,888.4L445,887.2L448,887.2L449,888.8L450,890.4L451,890.5L453,890.5L454,889.3L455,885L455.6,884.6L456,884.7L457,888.7L458,888.1L459,887.5L463,887.5L464,887.7L465,887.8L471,887.8L472,888.7L473,890.1L474,890.5L475,890.5L476,889.1L477,887.6L478,887.5L484,887.5L485,887.8L486,889.3L487,890.6L488,890.6L489,889.4L490,887.7L491,887.1L497,887.1L498,888L499,888.2L500,889.1L501,889.9L502,889L504,889L505,889.8L506,890.4L509,890.4L510,890L511,889.5L518,889.5L519,890L520,890.6L528,890.6L529,890.5L535,890.5L536,890.2L538,890.2L539,889.8L540,888.9L545,888.9L546,889L550,889L551,889.8L552,889.9L556,889.9L557,890.2L558,890.6L562,890.6L563,890.3L564,889.4L565,889.4L566,889.3L567,889.2L568,889.2L569,888.9L573,888.9L574,889L575,889.6L576,888.6L580,888.6L581,889.7L582,890.6L591,890.6L592,890.5L594,890.5L595,890.3L600,890.3L601,890.2L603,890.2L604,890.3L605,890.2L606,889.3L608,889.3L609,890.1L610,888.4L611,882.3L611.6,881.7L612,881.8L613,887.2L614,890.6L623,890.6L624,889.9L625,888.5L626,888L629,888L630,888.8L631,890.2L632,889.6L633,888.1L634,887.7L639,887.7L640,888.9L641,889.5L642,888.1L643,887.8L645,887.8L646,888.8L647,890.2L648,890.3L649,890.2L651,890.2L652,890.1L653,889.1L654,887.2L655,886.4L660,886.4L661,887.8L662,889.7L663,889.6L664,889.3L665,889.2L666,889.2L667,871.5L668,829.2L668.2,828L669,849.6L670,886.6L671,888.4L672,888.4L673,888.7L674,889.1L675,889.1L676,889L678,889L679,888.9L680,886.8L681,883.2L682,881.3L685,881.3L686,875.2L686.7,873L687,873L688,881.3L689,881.9L693,881.9L694,882.9L695,882.9L696,885.2L697,888.3L698,888.8L700,888.8L701,888.4L702,885.4L703,883.1L706,883.1L707,884.4L710,884.4L711,884.1L712,882.1L717,882.1L718,870.8L718.5,870.2L719,870.8L720,883.1L721,884.7L723,884.7L724,881.6L728,881.6L729,883.5L730,887.1L731,888.8L733,888.8L734,887.3L735,884.3L736,883.3L740,883.3L741,885.7L742,886.1L743,887.6L744,886.7L745,883.7L746,883.2L748,883.2L749,885.5L750,888.4L751,885.3L752,882.8L753,882.8L754,882.3L759,882.3L760,883.6L761,886.8L765,886.8L766,888.1L767,888.7L780,888.7L781,888.6L782,888.6L783,888.1L784,875.5L785,870.2L785,870.2L786,876.7L787,885.4L790,885.4L791,883.8L792,883.8L793,883.9L796,883.9L797,886.3L798,884.8L799,883L804,883L805,884.9L809,884.9L810,886.4L811,886.7L812,884.4L813,884L816,884L817,885L818,885.9L819,844.1L819.6,810.6L820,824.2L821,885.5L822,887.2L824,887.2L825,885L826,881.3L827,881.1L829,881.1L830,878.6L831,870.5L832,861.5L833,854L834,850.1L835,849.9L839,849.9L840,850.2L841,854.4L842,862.1L843,871.1L844,879.1L845,836.3L845.6,819.3L846,824.4L847,874.6L848,883.4L851,883.4L852,883.2L853,882.9L854,882.9L855,883L856,886.1L857,888.6L865,888.6L866,885.2L867,882L869,882L870,883.2L871,885.7L872,881.8L873,880.6L879,880.6L880,883.3L881,887.2L882,886.5L883,883.6L884,883.5L885,883L886,878.9L887,873.6L888,869.3L889,867.3L894,867.3L895,867.6L896,870.3L897,875L898,880.3L899,883L902,883L903,883.1L904,886.2L905,887.4L906,888.3L907,888.6L908,888.6L909,888L910,887.2L914,887.2L915,884.3L916,883.7L918,883.7L919,886L920,888L921,885.8L924,885.8L925,882.6L926,881L927,880.1L928,872.5L929,865.3L930,861.6L931,861.5L934,861.5L935,862.4L936,867.7L937,875.4L938,882.6L939,886.7L940,887L941,888.5L943,888.5L944,888.3L945,886.3L946,882.3L947,880.2L952,880.2L953,881.6L954,885.7L955,887.1L956,887.1L957,888.4L958,888.5L959,886.9L960,886.2L961,886.2L962,887.3L963,888.1L964,887.7L966,887.7L967,888.5L969,888.5L970,887.2L971,878L972,862.1L973,844.2L974,834.5L975,834.3L977,834.3L978,839.9L979,856.4L980,873.7L981,881.8L985,881.8L986,883L987,883L988,883.6L989,883.6L990,882.8L993,882.8L994,884L995,879.2L995.9,855.7L996,856.4L997,885.4L998,887.1L999,884.2L1000,883.6L1005,883.6L1006,885L1007,887.9L1008,888.4L1012,888.4L1013,886.3L1014,882.4L1015,880.6L1020,880.6L1021,866.7L1021.9,860.3L1022,860.3L1023,871.4L1024,888.1L1025,888.3L1026,888.4L1027,886.8L1028,883.8L1029,883.5L1033,883.5L1034,884.7L1037,884.7L1038,885.1L1039,884.5L1040,877.8L1041,870L1042,863.6L1043,861.5L1047,861.5L1048,863.7L1049,870L1050,877.9L1051,880.4L1053,880.4L1054,881.1L1055,885.1L1056,887.4L1057,888L1058,888.4L1059,886.1L1060,882.5L1061,881.7L1063,881.7L1064,879.7L1070,879.7L1071,883.5L1072,887.3L1073,884.1L1074,882.9L1077,882.9L1078,884.4L1079,887.6L1080,888.4L1081,888.4L1082,866.6L1083,813.5L1083.7,803.7L1084,803.7L1085,721.4L1085.5,718.2L1086,726.1L1087,826.2L1088,884.3L1089,888.4L1096,888.4L1097,888.1L1098,888L1100,888L1101,888.4L1102,886.8L1103,885L1108,885L1109,886.7L1110,885.5L1111,882.8L1113,882.8L1114,885.2L1115,887.8L1116,884.5L1117,853.9L1117.2,851.1L1118,873.5L1119,882.5L1121,882.5L1122,882.9L1123,886.2L1124,887.3L1125,888.4L1126,887.4L1127,885.6L1129,885.6L1130,885.5L1131,872.2L1131.7,870.2L1132,870.2L1133,880.8L1134,885.1L1138,885.1L1139,883L1140,881L1143,881L1144,882.3L1145,882.6L1151,882.6L1152,884.8L1153,883.3L1154,882.3L1160,882.3L1161,885L1162,884.7L1163,884.7L1164,882.6L1165,881.8L1166,881.8L1167,880.3L1173,880.3L1174,883.5L1175,884.9L1176,884.9L1177,883.8L1178,879.3L1179,879.1L1183,879.1L1184,879.8L1185,862.6L1186,815L1186.6,810.6L1187,811.8L1188,855.2L1189,882.5L1193,882.5L1194,883.4L1196,883.4L1197,884.8L1198,886.1L1199,886.1L1200,887.2L1201,888.1L1202,886.3L1203,886.3L1204,886.4L1205,886.4L1206,882.9L1207,880.2L1213,880.2L1214,879.7L1219,879.7L1220,882.9L1224,882.9L1225,883.4L1226,884.2L1227,882.2L1230,882.2L1231,879.6L1237,879.6L1238,881.8L1239,882L1241,882L1242,883.5L1243,887L1244,888.3L1246,888.3L1247,888.1L1248,885.6L1249,881.9L1250,875.6L1251,868.8L1252,863.2L1253,860.4L1254,860.3L1258,860.3L1259,860.6L1260,863.9L1261,869.9L1262,876.7L1263,882.5L1267,882.5L1268,885.9L1269,888.3L1280,888.3L1281,888.2L1283,888.2L1284,888.1L1285,888.1L1286,888L1287,888L1288,886.8L1289,883.2L1290,881.6L1291,881.7L1293,881.7L1294,882.1L1295,885.7L1296,886.2L1297,887.5L1298,887.5L1299,881.1L1300,871.8L1301,864.2L1302,862.6L1304,862.6L1305,863.3L1306,869.7L1307,879.1L1308,885.1L1309,879.8L1310,876.6L1314,876.6L1315,879.9L1316,885.2L1317,887.4L1318,887.4L1319,887L1320,885L1321,879.5L1322,876L1327,876L1328,877.5L1329,883L1330,884L1331,878.9L1332,877.2L1337,877.2L1338,881.1L1339,883.7L1340,878.4L1341,876.5L1347,876.5L1348,877.4L1349,870.9L1349.3,867.3L1350,878.3L1351,887.4L1354,887.4L1355,887L1356,885.9L1357,885.9L1358,882.9L1359,877.6L1360,876.7L1365,876.7L1366,880.1L1367,880.1L1368,878L1369,876.8L1370,876.8L1371,842.2L1372,666.3L1372.5,636.1L1373,679.4L1374,851.3L1375,884.5L1376,884.2L1377,877.4L1378,868.2L1379,857.9L1380,849.1L1381,844.4L1382,844.1L1386,844.1L1387,844.4L1388,848.9L1389,857.6L1390,867.8L1391,877.1L1392,884.1L1393,882.7L1394,881L1395,881L1396,878.2L1399,878.2L1400,881.1L1401,878.4L1402,877.7L1408,877.7L1409,880.1L1412,880.1L1413,881.1L1414,885.2L1415,887.5L1424,887.5L1425,885.6L1426,882.6L1427,881.4L1428,876.1L1430,876.1L1431,866.2L1432,760.4L1433,687L1433.1,687L1434,725.8L1435,846.8L1436,883.5L1437,871L1438,809.4L1438.9,786.4L1439,786.4L1440,820.9L1441,832.1L1441.8,821L1442,821L1443,849.5L1444,884.6L1445,887.5L1451,887.5L1452,886.4L1453,884.8L1455,884.8L1456,882.4L1460,882.4L1461,878.5L1467,878.5L1468,880.8L1469,883.3L1474,883.3L1475,884.4L1476,884.4L1477,885.7L1478,888.2L1481,888.2L1482,888.3L1485,888.3L1486,886.9L1487,886.6L1492,886.6L1493,887.6L1494,888.6L1495,888.3L1496,888.1L1500,888.1L1501,885.4L1502,881.9L1503,877.6L1504,873.1L1505,869L1506,865.9L1507,864.4L1515,864.4L1516,865.3L1517,867.9L1518,871.8L1519,876.3L1520,880.7L1521,884L1522,880.5L1529,880.5L1530,883.4L1531,887.4L1532,887.4L1533,887.6L1534,888.8L1540,888.8L1541,888.9L1544,888.9L1545,887.3L1546,886.1L1549,886.1L1550,885.7L1551,883.3L1553,883.3L1554,886.4L1555,888.3L1558,888.3L1559,888.7L1560,888.9L1561,888.9L1562,888.2L1563,887.6L1564,885.6L1565,883.2L1567,883.2L1568,884.3L1569,885.6L1570,881.6L1571,880.6L1572,876.9L1573,871.5L1574,867.4L1575,866.1L1580,866.1L1581,866.9L1582,870.5L1583,875.8L1584,881.3L1585,882.3L1588,882.3L1589,881.9L1593,881.9L1594,885.1L1595,888.7L1596,889L1597,889L1598,889.1L1602,889.1L1603,889.2L1605,889.2L1606,887.8L1607,884.9L1608,884L1610,884L1611,885.4L1612,884.2L1619,884.2L1620,885.6L1621,888.4L1622,889.3L1624,889.3L1625,888.7L1626,886.2L1627,885.2L1629,885.2L1630,885.4L1631,887.9L1632,890L1633,890.1L1634,888.2L1635,886.9L1640,886.9L1641,888.1L1642,890L1643,888.2L1644,886.4L1650,886.4L1651,887.6L1652,888.3L1655,888.3L1656,888L1657,885.6L1658,885.5L1661,885.5L1662,885.4L1667,885.4L1668,886.9L1669,889.3L1670,889.4L1673,889.4L1674,890.3L1675,890.4L1676,890.4L1677,889.1L1678,888.4L1685,888.4L1686,889L1687,886.5L1688,885.3L1692,885.3L1693,887.2L1694,887.1L1695,886.3L1701,886.3L1702,887.5L1703,889.6L1704,890.4L1705,890.1L1706,889L1707,889L1708,888.7L1709,886.4L1710,885.3L1711,882.4L1712,879.2L1713,876.3L1714,874.1L1715,873.1L1716,873L1723,873L1724,873.6L1725,875.4L1726,878.1L1727,881.2L1728,884.3L1729,885.5L1731,885.5L1732,886.3L1733,888.7L1734,890.5L1735,889.8L1738,889.8L1739,890.1L1740,890.5L1746,890.5L1747,890.3L1748,888.9L1749,888.8L1750,888.8L1751,889.4L1752,890.5L1753,889.3L1754,888L1760,888L1761,888.3L1762,889.8L1763,890.5L1769,890.5L1770,890.2L1771,888.9L1772,888.7L1773,886.6L1774,885.7L1776,885.7L1777,886.2L1778,888.6L1779,890.6L1781,890.6L1782,889.7L1783,888.1L1784,888L1785,888L1786,887.2L1788,887.2L1789,886.8L1791,886.8L1792,887.2L1793,889.2L1794,888.1L1795,885.8L1797,885.8L1798,887.4L1799,889.7L1800,890.6L1810,890.6L1811,890.4L1812,888L1813,885.7L1814,885.6L1820,885.6L1821,886.5L1822,888.8L1823,890.2L1824,890.6L1825,890.6L1826,888.9L1827,887.8L1831,887.8L1832,888.5L1833,890.2L1834,890.7L1835,890.1L1836,888.8L1838,888.8L1839,887.3L1840,879.4L1840.5,878.8L1841,879.1L1842,886.8L1843,889.2L1844,889.7L1845,889.7L1846,890.2L1847,890.7L1848,890.7L1849,888.7L1850,886.9L1857,886.9L1858,887.2L1860,887.2L1861,887.9L1862,889.8L1863,890.3L1865,890.3L1866,890.4L1867,891.2L1868,891.2L1869,890.6L1870,889L1871,887.9L1877,887.9L1878,888.9L1879,889.4L1881,889.4L1882,890.3L1883,891L1884,891.1L1885,891.5L1887,891.5L1888,891L1889,889.7L1890,888.9L1895,888.9L1896,889.8L1897,889.5L1903,889.5L1904,889.9L1907,889.9L1908,890.5L1909,891.5L1910,891.6L1911,891.6L1912,891.5L1913,890.9L1916,890.9L1917,889.6L1918,888.9L1924,888.9L1925,889.2L1926,889.4L1929,889.4L1930,889.9L1931,889.4L1932,889.4L1933,889.7L1934,890.8L1935,891.4L1936,891L1937,889.8L1938,889.3L1942,889.3L1943,889.7L1944,890L1948,890L1949,890.2L1953,890.2L1954,890.6L1955,891.5L1956,891.7L1957,891.7L1958,891.1L1959,890.4L1963,890.4L1964,891.2L1965,890.7L1967,890.7L1968,891.3L1969,891.7L1970,891.4L1971,890.5L1972,889.9L1976,889.9L1977,890.1L1978,889.2L1984,889.2L1985,889.6L1986,890.8L1987,891.7L1988,891.2L1989,891L1992,891L1993,891.2L1994,891.7L2012,891.7L2013,891.2L2018,891.2L2019,891.1L2020,890.8L2021,890.1L2022,890.1L2023,890L2024,889.9L2027,889.9L2028,890.1L2029,890.5L2030,891.4L2031,891.7L2032,891.7L2033,891.1L2034,889.9L2035,889.3L2039,889.3L2040,890.5L2041,891.2L2044,891.2L2045,891.4L2046,891.7L2047,891.7L2048,891.6L2049,890.8L2050,890.3L2052,890.3L2053,890.8L2059,890.8L2060,891.3L2061,890.8L2063,890.8L2064,890.5L2065,890.3L2072,890.3L2073,891L2074,891.7L2075,891.1L2076,890.8L2078,890.8L2079,891.3L2080,890.4L2081,889.8L2084,889.8L2085,890.2L2086,891L2087,890.1L2088,890L2093,890L2094,889.4L2096,889.4L2097,889.2L2103,889.2L2104,889.6L2105,890.8L2106,890.5L2107,889.5L2111,889.5L2112,890.4L2113,891.4L2114,891.3L2115,891.3L2116,891.7L2120,891.7L2121,891.6L2122,891.6L2123,891.2L2126,891.2L2127,890.8L2128,890.1L2131,890.1L2132,890.5L2136,890.5L2137,890.7L2138,890.7L2139,890.4L2140,890.2L2141,881.7L2141,881.7L2142,889.8L2144,889.8L2145,889.9L2146,891L2147,891.8L2148,891.3L2149,890.6L2151,890.6L2152,890.4L2153,890.2L2154,890.2L2155,889.4L2156,889L2162,889L2163,890L2164,891L2167,891L2168,891.6L2169,891.8L2171,891.8L2172,891.2L2173,891.1L2179,891.1L2180,891.2L2181,890.1L2182,889.7L2186,889.7L2187,889.8L2188,890.8L2189,889.6L2190,889.4L2193,889.4L2194,890.6L2195,889.8L2196,889L2200,889L2201,889.2L2202,890.5L2203,890.9L2204,890L2208,890L2209,890.1L2210,890.1L2211,890.7L2217,890.7L2218,891.2L2219,891.8L2221,891.8L2222,891.6L2223,891.4L2225,891.4L2226,891.6L2226.0,893.0Z" fill="#00c0c0" stroke="#00c0c0" stroke-width="6" stroke-linejoin="round" stroke-linecap="round"/>
<path d="M383.0,1177.0L383,1175L389,1175L390,1174.3L391,1168.6L392,1165.5L392,1165.5L393,1168.5L394,1173L398,1173L399,1173.6L400,1174.3L401,1174.9L402,1174.5L403,1173.1L404,1172.7L410,1172.7L411,1173L412,1174.3L413,1172.5L414,1161.4L414,1161.5L415,1173.2L418,1173.2L419,1173.7L420,1174.9L423,1174.9L424,1174.5L425,1174.3L430,1174.3L431,1174.9L432,1174.9L433,1174.8L434,1174.1L437,1174.1L438,1173.9L444,1173.9L445,1174.2L449,1174.2L450,1173.3L451,1172.5L454,1172.5L455,1173.5L456,1174.5L457,1174.4L461,1174.4L462,1174.8L463,1174.5L464,1173.5L466,1173.5L467,1173.2L468,1172.8L470,1172.8L471,1171.9L476,1171.9L477,1173.2L478,1174.7L482,1174.7L483,1174.4L484,1173.7L485,1172L486,1171.9L491,1171.9L492,1171.4L498,1171.4L499,1172.8L500,1171.5L504,1171.5L505,1172.8L506,1174.6L520,1174.6L521,1174.5L522,1174.3L523,1174.1L524,1174L525,1173.9L526,1173.8L527,1173.6L528,1173.5L529,1173.3L530,1173.2L531,1173.1L532,1172.9L533,1172.8L534,1172.6L535,1172.5L536,1172.4L537,1171.3L538,1170.6L540,1170.6L541,1171.8L542,1169.2L543,1165L544,1164.1L547,1164.1L548,1165.7L549,1141.7L549.2,1140L550,1161.6L551,1171.6L552,1171.8L555,1171.8L556,1170.9L557,1170.5L560,1170.5L561,1167.1L562,1165.6L563,1165.6L564,1165.3L565,1164.8L566,1164.8L567,1167.1L568,1157.5L568.3,1155.7L569,1166.7L570,1171.7L573,1171.7L574,1171.6L575,1168.1L576,1166.6L581,1166.6L582,1168.7L583,1170L584,1166L585,1165.1L589,1165.1L590,1162.9L591,1148.3L591.4,1148.1L592,1150.2L593,1167.3L594,1168.3L595,1168.7L596,1169.2L597,1166.1L602,1166.1L603,1167.2L604,1167.8L605,1164.2L607,1164.2L608,1164.1L615,1164.1L616,1168L621,1168L622,1165.9L623,1164.5L628,1164.5L629,1165.3L630,1169.5L631,1171.6L632,1171.2L633,1167.3L634,1165.1L636,1165.1L637,1152.7L637.6,1151L638,1151.3L639,1164.7L640,1165.1L641,1168.2L642,1171.5L643,1167.5L644,1164.9L647,1164.9L648,1166.4L649,1170.4L650,1169.8L651,1169.8L652,1168.9L653,1168.9L654,1169.3L655,1171.4L656,1169L657,1168.7L658,1168.7L659,1166.5L662,1166.5L663,1166.6L664,1165.5L665,1165.5L666,1167.6L667,1171.4L668,1171.5L669,1170.9L670,1169.5L672,1169.5L673,1171.5L674,1171.5L675,1170.9L676,1166.4L677,1163.7L681,1163.7L682,1165.8L683,1156.9L683.8,1152.8L684,1152.8L685,1162L686,1171L690,1171L691,1171.5L697,1171.5L698,1171.4L702,1171.4L703,1171.1L704,1167.3L705,1165.9L708,1165.9L709,1166.2L710,1169.9L711,1171.4L713,1171.4L714,1169.3L715,1167.1L722,1167.1L723,1165.6L724,1163.2L726,1163.2L727,1160.5L728,1158.6L733,1158.6L734,1159.1L735,1163.6L738,1163.6L739,1165.7L740,1165.7L741,1165.2L742,1157L743,1152.3L744,1134L744.5,1132.5L745,1133.8L746,1152.3L747,1157.3L748,1165L749,1163.7L754,1163.7L755,1165L764,1165L765,1164L766,1159.7L769,1159.7L770,1153.7L771,1142.5L772,1138.3L774,1138.3L775,1138.4L776,1144.3L777,1156.2L778,1165L779,1165L780,1156.9L781,1148.4L783,1148.4L784,1157.8L785,1164.9L786,1161.1L787,1153L788,1152.7L793,1152.7L794,1153.9L795,1159.4L796,1159.4L797,1160.8L798,1151.4L799,1148.7L801,1148.7L802,1139.9L802.3,1135.4L803,1148.7L804,1151.2L805,1160.7L806,1164.9L807,1164.9L808,1164.6L809,1157.1L810,1154.5L815,1154.5L816,1159L817,1164.9L818,1164.9L819,1152.5L819.6,1135.4L820,1142.3L821,1159.3L822,1158.9L825,1158.9L826,1161.8L827,1164.9L829,1164.9L830,1162.5L831,1158L834,1158L835,1160.1L836,1164.9L846,1164.9L847,1134.3L848,1073L848.5,1069L849,1071.7L850,1131.3L851,1158.3L854,1158.3L855,1158.1L856,1157.8L857,1148L858,1147.4L859,1147.4L860,1152.7L861,1158.1L862,1158.2L863,1164.5L864,1158.6L869,1158.6L870,1155.9L871,1149.8L878,1149.8L879,1156.7L880,1164.8L881,1164.8L882,1161.9L883,1149.8L884,1140.1L885,1138.3L887,1138.3L888,1139.2L889,1147.8L890,1159.9L891,1160.3L892,1160.3L893,1161L896,1161L897,1164.3L898,1164.8L904,1164.8L905,1160.1L906,1151L907,1149.8L909,1149.8L910,1103.9L910.9,1082.3L911,1082.3L912,1111.9L913,1157L918,1157L919,1155L923,1155L924,1154.8L929,1154.8L930,1159.5L931,1164.7L939,1164.7L940,1159.3L941,1150.5L942,1150.5L943,1134.1L943.9,1123.9L944,1123.9L945,1142.6L946,1150.5L947,1150.5L948,1158.6L949,1164.2L950,1164.7L956,1164.7L957,1147.7L958,1121.1L958.3,1121L959,1126.3L960,1159.7L961,1164.7L963,1164.7L964,1159.2L965,1154.9L966,1154.9L967,1151.5L968,1146.3L974,1146.3L975,1125.6L976,1000.5L977,921.6L977.4,921.6L978,924L979,1032.7L980,1142.4L981,1139.3L982,1078L982.6,1071.9L983,1073.1L984,1128.3L985,1159.7L986,1164.7L987,1164.7L988,1159.9L989,1157L992,1157L993,1161.9L994,1139L994.7,1100.8L995,1108.1L996,1164.6L998,1164.6L999,1160L1000,1151.2L1001,1150.5L1003,1150.5L1004,1153.9L1005,1152.9L1006,1149.3L1007,1149.2L1008,1136.6L1009,1132.5L1011,1132.5L1012,1132.7L1013,1140.3L1014,1151.2L1015,1155.1L1016,1158.5L1017,1149.6L1024,1149.6L1025,1155.8L1026,1158.3L1028,1158.3L1029,1161.7L1030,1161.5L1035,1161.5L1036,1161.1L1037,1153L1038,1152.7L1039,1152.7L1040,1157.1L1041,1164.6L1049,1164.6L1050,1143.8L1050.8,1138.3L1051,1138.3L1052,1154.4L1053,1157.6L1057,1157.6L1058,1154.2L1059,1154.2L1060,1156.5L1061,1164.1L1062,1164.5L1063,1158L1064,1153.7L1070,1153.7L1071,1154.5L1072,1156.7L1073,1141.6L1074,1122.4L1075,1102.6L1076,1087.7L1077,1082.3L1082,1082.3L1083,1084.6L1084,1096.7L1085,1115.4L1086,1135.3L1087,1150.1L1088,1150.1L1089,1152.4L1091,1152.4L1092,1154.1L1093,1147.9L1099,1147.9L1100,1148.2L1101,1157.9L1102,1134L1102.8,1126.8L1103,1126.8L1104,1147.3L1105,1164.5L1106,1162.4L1107,1161L1109,1161L1110,1162.1L1111,1164.5L1113,1164.5L1114,1161L1115,1153.2L1116,1146.9L1117,1125L1117.2,1125L1118,1132.1L1119,1156.3L1120,1147.7L1123,1147.7L1124,1156.1L1125,1162.5L1126,1161.3L1132,1161.3L1133,1163.6L1134,1164.4L1139,1164.4L1140,1156.2L1141,1146.5L1143,1146.5L1144,1150.1L1145,1156.2L1149,1156.2L1150,1157.3L1151,1150.4L1152,1135L1153,1124.5L1154,1123.9L1156,1123.9L1157,1127.5L1158,1141.7L1159,1158L1160,1164.4L1181,1164.4L1182,1159.2L1183,1155.4L1188,1155.4L1189,1152.5L1190,1148.4L1191,1148.4L1192,1150.7L1193,1160.2L1194,1153.9L1195,1136.6L1195.2,1136.6L1196,1141.8L1197,1150.3L1200,1150.3L1201,1150.8L1202,1159.7L1203,1159.9L1204,1159.9L1205,1156.4L1206,1150.5L1207,1150.5L1208,1135.5L1208.5,1116.4L1209,1131.5L1210,1150.5L1212,1150.5L1213,1158.1L1214,1162.2L1215,1158.8L1217,1158.8L1218,1158.9L1219,1164.3L1220,1160.5L1221,1150.5L1222,1147L1224,1147L1225,1145.9L1228,1145.9L1229,1152.2L1229.9,1147L1230,1147L1231,1156.7L1232,1162L1233,1152.1L1234,1147.2L1239,1147.2L1240,1148.4L1241,1158.3L1242,1164.3L1251,1164.3L1252,1155.7L1253,1147L1253,1147L1254,1154.5L1255,1164.3L1257,1164.3L1258,1163.7L1259,1163.7L1260,1160.3L1261,1159.2L1263,1159.2L1264,1159.5L1265,1163L1266,1152.7L1267,1146L1271,1146L1272,1150.7L1273,1157.4L1274,1157.4L1275,1161.5L1276,1156.1L1277,1153.9L1278,1153.9L1279,1151.5L1280,1116.2L1280.8,1106.5L1281,1106.5L1282,1136.2L1283,1151.5L1284,1159.8L1285,1164.2L1293,1164.2L1294,1157.3L1295,1147.1L1296,1146.3L1300,1146.3L1301,1153.1L1302,1163.3L1303,1164.2L1304,1164.2L1305,1153.1L1306,1144.1L1307,1152.9L1308,1164.3L1312,1164.3L1313,1162.1L1314,1162.1L1315,1160.4L1316,1158.2L1321,1158.2L1322,1156.8L1323,1154.7L1325,1154.7L1326,1161L1327,1153.7L1328,1151.4L1329,1151.4L1330,1131.1L1330.8,1121L1331,1121L1332,1141.4L1333,1154L1334,1147.7L1336,1147.7L1337,1156.2L1338,1164.6L1339,1163.4L1340,1160.2L1345,1160.2L1346,1164.7L1348,1164.7L1349,1163.5L1350,1162.5L1351,1162.5L1352,1153.8L1353,1147.6L1358,1147.6L1359,1149.9L1360,1159.6L1361,1151.8L1362,1151.1L1366,1151.1L1367,1157.5L1368,1163.9L1369,1155.9L1370,1136.6L1371,1029.4L1372,950.5L1372.5,950.5L1373,951.1L1374,1039.9L1375,1142.1L1376,1148.3L1380,1148.3L1381,1149.6L1382,1149.6L1383,1154.8L1384,1164L1385,1165.1L1387,1165.1L1388,1161.6L1391,1161.6L1392,1158.1L1394,1158.1L1395,1161.1L1396,1165.2L1397,1163.5L1398,1162L1402,1162L1403,1160.3L1404,1155L1405,1152.8L1409,1152.8L1410,1154L1411,1158.7L1412,1164.8L1413,1165.4L1417,1165.4L1418,1165.5L1419,1164.5L1420,1155.3L1421,1149.5L1423,1149.5L1424,1158.1L1425,1161.3L1430,1161.3L1431,1165.6L1432,1165.6L1433,1163.5L1434,1161.7L1438,1161.7L1439,1164.4L1440,1165.7L1441,1161.6L1446,1161.6L1447,1162.2L1448,1165.8L1449,1165.8L1450,1150.3L1450.5,1141.2L1451,1152.3L1452,1162.1L1453,1157.8L1458,1157.8L1459,1159.1L1460,1165.6L1461,1168.2L1462,1168.4L1463,1168.7L1464,1168.9L1465,1169.1L1466,1169.3L1467,1167.9L1469,1167.9L1470,1165.8L1471,1165.7L1473,1165.7L1474,1160.8L1475,1158.5L1478,1158.5L1479,1161.1L1480,1163.5L1481,1164.5L1482,1169L1483,1170.2L1486,1170.2L1487,1170.3L1492,1170.3L1493,1166.6L1494,1164.7L1496,1164.7L1497,1163.7L1499,1163.7L1500,1166.2L1501,1170.3L1504,1170.3L1505,1170.2L1506,1166.1L1507,1164.7L1510,1164.7L1511,1164.8L1512,1168.9L1513,1170.3L1517,1170.3L1518,1169.7L1519,1167.5L1525,1167.5L1526,1169.8L1530,1169.8L1531,1170.3L1532,1170.4L1535,1170.4L1536,1169.9L1537,1169.5L1538,1169.5L1539,1169.6L1540,1170.4L1541,1166.7L1542,1162.5L1543,1162.1L1544,1161.4L1548,1161.4L1549,1162.4L1551,1162.4L1552,1165L1553,1169.8L1554,1170.5L1555,1166.6L1556,1161.2L1557,1161L1563,1161L1564,1164.6L1565,1169.9L1567,1169.9L1568,1167.6L1571,1167.6L1572,1140.1L1573,1115.4L1573.6,1115.2L1574,1115.2L1575,1136.2L1576,1165.5L1577,1162.8L1578,1162.8L1579,1163.8L1580,1168.6L1581,1170.5L1583,1170.5L1584,1165.9L1585,1162.9L1589,1162.9L1590,1165.2L1591,1169.9L1592,1152.8L1592,1152.8L1593,1169.7L1594,1166L1595,1163.1L1597,1163.1L1598,1164.8L1602,1164.8L1603,1165.2L1604,1169.3L1605,1171.2L1606,1171.3L1607,1171.4L1608,1171.6L1609,1169.2L1610,1168.3L1614,1168.3L1615,1169.1L1616,1168.8L1617,1168.2L1622,1168.2L1623,1168.6L1624,1169.6L1626,1169.6L1627,1169.5L1631,1169.5L1632,1169.8L1633,1169.6L1640,1169.6L1641,1170.8L1642,1171.5L1643,1168.7L1644,1168.4L1646,1168.4L1647,1167.1L1648,1164.5L1649,1164.3L1651,1164.3L1652,1165.1L1653,1168.4L1654,1168.9L1655,1168.9L1656,1170.5L1657,1173.1L1660,1173.1L1661,1172.7L1663,1172.7L1664,1173.1L1671,1173.1L1672,1172.1L1673,1171L1674,1171L1675,1171.1L1676,1173.1L1684,1173.1L1685,1172.9L1686,1171.4L1689,1171.4L1690,1170.2L1691,1168.1L1696,1168.1L1697,1168.3L1698,1168.7L1700,1168.7L1701,1169.5L1702,1168.5L1707,1168.5L1708,1169.7L1709,1172.5L1710,1173.2L1714,1173.2L1715,1171.3L1716,1168.6L1721,1168.6L1722,1165.4L1723,1161.9L1724,1161.4L1726,1161.4L1727,1162.1L1728,1165.8L1729,1169.2L1732,1169.2L1733,1171.1L1734,1173.2L1735,1173.2L1736,1171.9L1737,1169.2L1738,1168.8L1741,1168.8L1742,1169.1L1743,1171.9L1744,1173.2L1745,1173.2L1746,1172.2L1747,1171L1750,1171L1751,1172.8L1752,1173.2L1763,1173.2L1764,1173.3L1765,1173.3L1766,1171.9L1767,1168.9L1768,1168L1769,1168L1770,1166.5L1771,1159.7L1771.2,1159.7L1772,1162.5L1773,1168L1774,1168L1775,1168.3L1776,1171.3L1777,1171.9L1778,1173.3L1787,1173.3L1788,1172.7L1790,1172.7L1791,1173.3L1813,1173.3L1814,1172.8L1815,1172.5L1817,1172.5L1818,1173.3L1819,1173.3L1820,1171.8L1821,1170.5L1822,1170.5L1823,1169.8L1824,1168.2L1831,1168.2L1832,1169.9L1833,1172.9L1834,1173.4L1835,1173.4L1836,1172.3L1839,1172.3L1840,1172.5L1841,1173.4L1847,1173.4L1848,1165.9L1849,1158.5L1849.2,1158.5L1850,1161.4L1851,1170.2L1854,1170.2L1855,1171.2L1856,1173.2L1857,1171.3L1862,1171.3L1863,1171.4L1864,1173.3L1865,1173.8L1871,1173.8L1872,1174L1877,1174L1878,1174.5L1879,1174.5L1880,1174.6L1881,1175L1885,1175L1886,1173.9L1887,1173.7L1891,1173.7L1892,1174.8L1893,1174.8L1894,1174.9L1895,1173.8L1896,1173.6L1897,1173.6L1898,1174.3L1899,1175L1903,1175L1904,1174.5L1905,1174.5L1906,1174.2L1907,1173.1L1913,1173.1L1914,1173.8L1915,1175L1918,1175L1919,1173.8L1920,1172.2L1921,1172.1L1924,1172.1L1925,1172.2L1926,1172.4L1928,1172.4L1929,1166.6L1930,1161.4L1930.1,1161.4L1931,1164.7L1932,1172.4L1933,1173L1934,1173L1935,1174L1936,1175L1937,1174.1L1938,1173.1L1939,1173.1L1940,1172.9L1946,1172.9L1947,1174.1L1948,1175L1950,1175L1951,1173.7L1952,1172.1L1957,1172.1L1958,1173.7L1959,1175L1961,1175L1962,1173.9L1963,1173.1L1967,1173.1L1968,1172.9L1975,1172.9L1976,1174.3L1977,1175L1978,1174.7L1979,1173.1L1980,1172.4L1985,1172.4L1986,1172.7L1987,1174.2L1988,1175L1997,1175L1998,1174.8L1999,1173.3L2000,1172.5L2003,1172.5L2004,1173.1L2006,1173.1L2007,1172.6L2011,1172.6L2012,1173.4L2013,1174.4L2016,1174.4L2017,1174.7L2018,1174.5L2019,1174.4L2022,1174.4L2023,1174L2024,1173.5L2032,1173.5L2033,1173.7L2034,1174.3L2037,1174.3L2038,1174.6L2039,1175L2042,1175L2043,1174.6L2044,1173.2L2045,1172.8L2048,1172.8L2049,1173.4L2050,1174L2051,1174L2052,1173.9L2053,1172.3L2061,1172.3L2062,1173.9L2063,1175L2066,1175L2067,1174.3L2068,1173L2075,1173L2076,1174L2077,1175L2106,1175L2107,1174.7L2110,1174.7L2111,1174.6L2116,1174.6L2117,1174.8L2118,1175L2119,1175L2120,1174.3L2122,1174.3L2123,1173.5L2124,1172.9L2128,1172.9L2129,1172.3L2134,1172.3L2135,1173.8L2136,1174.8L2138,1174.8L2139,1174.5L2140,1165.9L2141,1161.4L2141,1161.4L2142,1165.4L2143,1174.2L2144,1175L2145,1174.5L2146,1173.7L2148,1173.7L2149,1174.1L2150,1175L2151,1174.3L2152,1172.7L2153,1172.4L2158,1172.4L2159,1173.3L2160,1174.9L2161,1175L2162,1175L2163,1174.8L2166,1174.8L2167,1175L2170,1175L2171,1173.8L2172,1173.3L2173,1173.3L2174,1173.5L2175,1174.8L2176,1175L2189,1175L2190,1174.3L2191,1173.8L2193,1173.8L2194,1173.7L2195,1172.5L2197,1172.5L2198,1172.9L2199,1174.3L2200,1174L2207,1174L2208,1173.8L2209,1173.7L2216,1173.7L2217,1174.7L2218,1175L2223,1175L2224,1174.5L2225,1174.2L2226,1174.2L2226.0,1177.0Z" fill="#0000ff" stroke="#0000ff" stroke-width="7" stroke-linejoin="round" stroke-linecap="round"/>
<path d="M383.0,1461.5L383,1435.8L383.3,1432.9L384,1435.8L385,1437.2L386,1444.5L388,1444.5L389,1436.4L390,1436.4L391,1434L392,1432.9L392,1432.9L393,1433.9L394,1433.2L395,1433.2L396,1433L397,1427.3L397.8,1427.1L398,1427.1L399,1430.4L400,1434.5L401,1437.5L402,1451.8L403,1454.3L407,1454.3L408,1448.9L409,1429.7L410,1436.5L411,1431.7L412,1431.7L413,1425.6L414,1423L416,1423L417,1423.1L418,1433.2L419,1425.3L420,1425.3L421,1424.9L422,1444.2L423,1458.3L424,1458.3L425,1457.5L426,1455.1L427,1454.5L434,1454.5L435,1454.2L436,1453.9L438,1453.9L439,1455.6L440,1455.6L441,1454.3L444,1454.3L445,1454.1L446,1452.5L447,1450.2L448,1448.5L461,1448.5L462,1448.8L463,1449.6L464,1450.8L465,1449.5L466,1452.8L467,1453.4L470,1453.4L471,1452.2L472,1452.2L473,1449.1L474,1454.6L475,1456.8L476,1458.2L477,1458.2L478,1457.7L479,1457.9L480,1457.9L481,1457.8L482,1456.9L483,1454.3L484,1453.8L488,1453.8L489,1453.3L490,1450.1L491,1449.9L492,1449.9L493,1449.1L494,1448.6L495,1448.5L509,1448.5L510,1448.7L512,1448.7L513,1449.1L514,1452.5L515,1453.3L516,1453.3L517,1456.2L519,1456.2L520,1453.1L521,1453.1L522,1456.3L523,1454.7L524,1453.3L529,1453.3L530,1454.2L531,1455.3L534,1455.3L535,1453.8L536,1453.8L537,1455.3L538,1454.2L539,1442.8L540,1438.7L543,1438.7L544,1439L545,1443.7L546,1448.4L547,1453.6L550,1453.6L551,1450.4L552,1452.9L553,1451.7L556,1451.7L557,1451.5L559,1451.5L560,1452.5L561,1453.2L562,1453.2L563,1450.2L564,1446.5L565,1442.9L566,1440.2L567,1438.8L568,1438.7L575,1438.7L576,1439.6L577,1441.1L578,1441.1L579,1439.5L582,1439.5L583,1430.3L584,1430.3L585,1429.2L586,1428.8L591,1428.8L592,1429.3L593,1430.7L594,1430.7L595,1440.9L596,1450.4L597,1455L598,1453.2L599,1424.2L600,1408.6L600,1408.6L601,1421.5L602,1451.7L603,1455.6L604,1455.6L605,1449.7L606,1443L608,1443L609,1440.4L610,1435.9L611,1435.8L613,1435.8L614,1439L615,1442.1L616,1447.4L617,1440.6L618,1443.3L619,1443.3L620,1437.4L621,1437.4L622,1419.8L623,1395.3L623.2,1395.3L624,1407L625,1439.1L626,1434.5L627,1431.2L628,1430L635,1430L636,1430.2L637,1431.1L638,1430L639,1400.1L639.3,1399.9L640,1405.3L641,1431.4L644,1431.4L645,1442.9L646,1442.9L647,1442.2L648,1455.7L649,1455.7L650,1453.3L651,1437.7L652,1412.7L653,1413.3L654,1411.5L656,1411.5L657,1414.3L658,1417.6L660,1417.6L661,1418.6L662,1443.6L663,1445.6L664,1438.8L665,1438.8L666,1438.7L667,1439.7L670,1439.7L671,1438.7L672,1438.7L673,1439.8L674,1439.8L675,1439L676,1446L678,1446L679,1443.1L680,1437.8L681,1433.1L682,1429.9L683,1428.8L690,1428.8L691,1429.1L692,1429.2L693,1435.6L694,1440.7L695,1446L696,1450.8L697,1454L698,1454L699,1454.5L700,1454.5L701,1455.7L703,1455.7L704,1453.4L705,1453.8L707,1453.8L708,1453.9L709,1453.9L710,1453.8L711,1454.4L712,1454.4L713,1455.2L714,1453L715,1430.8L716,1430.1L717,1417.6L719,1417.6L720,1417.5L723,1417.5L724,1417.3L725,1417.3L726,1417.9L727,1420.5L728,1435.6L729,1454.5L730,1456L733,1456L734,1448.5L735,1415.4L735.8,1405.7L736,1405.7L737,1426.6L738,1453.2L741,1453.2L742,1453.8L743,1453.8L744,1442.3L745,1439.8L746,1438.5L747,1440.3L750,1440.3L751,1440.5L752,1443.4L755,1443.4L756,1442.4L757,1447.8L758,1434.4L759,1410.4L760,1410.4L761,1410.3L761.8,1409.8L762,1409.8L763,1410.6L764,1410.6L765,1411.7L766,1430.6L767,1430.6L768,1419.5L769,1424.7L770,1424.2L777,1424.2L778,1425.1L779,1428.5L780,1433.7L781,1429.1L782,1428.3L783,1424.3L784,1428.9L785,1390.7L786,1353.7L786.1,1353.7L787,1375.3L788,1438.4L789,1456.2L790,1437.9L791,1428.6L792,1428.6L793,1428.7L794,1428.7L795,1424.7L796,1424.7L797,1433.4L798,1433.4L799,1433.5L800,1431.4L801,1412.7L802,1405.7L802.3,1405.7L803,1405.8L804,1422.7L805,1447.6L806,1456.2L807,1453.6L808,1445.1L809,1450.5L811,1450.5L812,1449.9L815,1449.9L816,1445.9L817,1445.9L818,1449.4L819,1449.4L820,1444.5L821,1446.6L824,1446.6L825,1446L826,1449.5L827,1450.4L828,1434.7L829,1430.7L830,1430L832,1430L833,1430.6L834,1437.6L835,1441.5L836,1440.2L837,1430.5L838,1446.3L839,1428.6L840,1411.5L841,1414.6L842,1414.6L843,1419.6L844,1416.8L845,1364.6L846,1324.3L847,1321.3L848,1321.3L849,1331.1L850,1379.2L851,1401.4L852,1395.3L856,1395.3L857,1396.6L858,1406.3L859,1421.7L860,1428.3L861,1430.4L862,1430.7L863,1430.7L864,1432.4L867,1432.4L868,1435.1L874,1435.1L875,1437.4L876,1453.2L877,1456L878,1454.5L879,1454.5L880,1450L881,1410L882,1388.4L882,1388.4L883,1406.3L884,1448L885,1455.1L886,1457.1L887,1458L888,1457.2L889,1453.9L892,1453.9L893,1453.1L894,1453.1L895,1454.1L896,1451.7L897,1424.4L898,1415.4L899,1406.9L900,1406.9L901,1407.5L903,1407.5L904,1422.7L905,1450L906,1449.5L907,1449.3L908,1452L910,1452L911,1451.2L912,1447.9L914,1447.9L915,1447.3L916,1443.5L917,1439.6L918,1436L919,1433L920,1430.9L921,1430L932,1430L933,1430.8L934,1431.6L935,1435.8L936,1430.1L938,1430.1L939,1431.2L943,1431.2L944,1432L945,1447.8L946,1434.8L947,1419.7L949,1419.7L950,1419.4L951,1418.4L952,1418.4L953,1419L954,1419L955,1421.8L956,1430.7L957,1452.3L958,1447.1L959,1445.2L961,1445.2L962,1446.5L963,1446.5L964,1451.8L967,1451.8L968,1446.4L970,1446.4L971,1452L972,1452L973,1446.4L974,1444.9L975,1396.8L976,1370.5L977,1378.2L978,1374.7L979,1365.3L981,1365.3L982,1366.4L983,1369.4L984,1369.4L985,1407.2L986,1368.2L987,1410.7L988,1416.9L989,1416.9L990,1434.8L991,1434.8L992,1417.2L993,1415.5L993,1415.5L994,1415.7L995,1415.7L996,1416.3L998,1416.3L999,1420.8L1000,1443.8L1001,1432.6L1002,1422.6L1003,1422.6L1004,1418.7L1005,1418.7L1006,1424.5L1007,1422.6L1008,1418.5L1009,1418.4L1012,1418.4L1013,1419.2L1014,1425.4L1015,1427.7L1016,1427.7L1017,1420L1018,1426.5L1019,1418.5L1020,1440.1L1021,1450.4L1022,1449L1023,1446.5L1026,1446.5L1027,1450.1L1029,1450.1L1030,1442.3L1031,1446L1032,1446.6L1033,1431.5L1034,1423.1L1035,1426L1036,1423.1L1037,1423L1042,1423L1043,1424.3L1044,1425.3L1045,1425.3L1046,1426L1050,1426L1051,1427.3L1052,1438.9L1053,1393.4L1054,1355.8L1054.8,1354.9L1055,1354.9L1056,1363.9L1057,1411.9L1058,1447.9L1059,1423.5L1060,1415.8L1061,1413.1L1062,1412.7L1067,1412.7L1068,1392.8L1069,1383.8L1069.3,1383.8L1070,1383.9L1071,1408.4L1072,1432.3L1073,1432.3L1074,1419.5L1075,1418.4L1076,1418.4L1077,1418L1078,1442.4L1079,1434.8L1080,1421.4L1081,1425.8L1082,1433.8L1083,1426.3L1084,1421.3L1087,1421.3L1088,1421.4L1089,1421.4L1090,1422.5L1091,1422.5L1092,1436.8L1093,1450.2L1094,1450.2L1095,1448.2L1097,1448.2L1098,1451.2L1101,1451.2L1102,1448.4L1103,1448.4L1104,1448.2L1105,1448.9L1108,1448.9L1109,1448L1110,1448L1111,1448.8L1112,1448.8L1113,1440.1L1114,1407.6L1115,1397L1117,1397L1118,1396.5L1119,1396.5L1120,1400.4L1121,1399.2L1122,1399.2L1123,1396.5L1129,1396.5L1130,1400.5L1131,1410.1L1132,1422.5L1133,1396.6L1134,1396.6L1135,1410.5L1136,1443L1137,1450.6L1138,1447.9L1140,1447.9L1141,1452.5L1142,1452.5L1143,1447.7L1145,1447.7L1146,1443.7L1147,1437L1148,1435.8L1150,1435.8L1151,1436.9L1152,1443.4L1153,1445.9L1154,1445.9L1155,1438.4L1156,1435.8L1160,1435.8L1161,1437.5L1164,1437.5L1165,1436.8L1166,1437.6L1167,1437.7L1168,1437.7L1169,1435.9L1172,1435.9L1173,1447L1174,1454.3L1175,1456.3L1176,1457.8L1178,1457.8L1179,1444.5L1180,1404.4L1180.8,1394.2L1181,1394.2L1182,1421.2L1183,1454.1L1184,1457.8L1185,1457.3L1186,1447.3L1187,1441.6L1188,1441.6L1189,1442.9L1190,1442.9L1191,1444.5L1192,1444.5L1193,1448.3L1195,1448.3L1196,1439.1L1197,1418.8L1198,1415.5L1198.1,1415.5L1199,1416.2L1200,1433.2L1201,1452.4L1202,1453.1L1203,1453.1L1204,1447.3L1205,1448.3L1206,1448.3L1207,1447.6L1210,1447.6L1211,1447.4L1218,1447.4L1219,1449.5L1220,1448L1221,1450.2L1224,1450.2L1225,1453.4L1226,1456.3L1228,1456.3L1229,1444.4L1230,1430L1231,1443.6L1233,1443.6L1234,1434.2L1235,1431.8L1238,1431.8L1239,1430.2L1240,1432.3L1241,1430.4L1242,1430L1252,1430L1253,1430.1L1254,1431.3L1255,1433.6L1256,1436.7L1257,1440.4L1258,1433.8L1261,1433.8L1262,1442L1263,1442L1264,1434.2L1265,1434.2L1266,1431.6L1268,1431.6L1269,1431.9L1270,1431L1271,1425L1272,1439.3L1273,1439.3L1274,1433L1276,1433L1277,1429.3L1278,1403.8L1279,1401.1L1279,1401.1L1280,1402.9L1281,1402.2L1282,1402.1L1282.9,1401.1L1283,1401.1L1284,1403.4L1286,1403.4L1287,1412.1L1288,1412.1L1289,1411.1L1290,1424.2L1291,1430L1292,1430.1L1295,1430.1L1296,1437.5L1297,1430.3L1298,1430.3L1299,1430.1L1300,1430L1307,1430L1308,1430.4L1309,1434.7L1310,1439.4L1311,1433.5L1312,1433.5L1313,1440.7L1315,1440.7L1316,1431.4L1317,1413.9L1318,1398.3L1319,1398.3L1320,1396.5L1321,1396.5L1322,1395.8L1323,1395.3L1326,1395.3L1326.2,1387.1L1327,1344.2L1327.4,1343.3L1328,1351.3L1329,1395.3L1330,1395.3L1331,1396.4L1332,1400.7L1334,1400.7L1335,1398.7L1336,1431.8L1337,1389.2L1337.8,1376.8L1338,1376.8L1339,1411.4L1340,1429.2L1341,1416.3L1342,1416.3L1343,1413.7L1345,1413.7L1346,1420.3L1348,1420.3L1349,1417.7L1351,1417.7L1352,1412.8L1353,1412.8L1354,1412.9L1355,1412.9L1356,1434.1L1357,1453.7L1358,1454.3L1359,1450.8L1360,1420.6L1360.9,1409.8L1361,1409.8L1362,1427L1363,1454.3L1364,1457.7L1365,1457.7L1366,1452.1L1367,1450.3L1370,1450.3L1371,1450.8L1372,1453.6L1375,1453.6L1376,1451.9L1377,1445.7L1378,1384.4L1379,1267.5L1380,1209.2L1381,1209.2L1382,1256.6L1383,1374.6L1384,1412.6L1385,1412.6L1386,1414.7L1387,1419.3L1390,1419.3L1391,1413.6L1392,1413.6L1393,1420.4L1394,1444.8L1395,1451.4L1396,1450.2L1397,1450.8L1398,1450.8L1399,1451.2L1400,1450L1402,1450L1403,1448.5L1404,1431.2L1405,1428.2L1407,1428.2L1408,1428.1L1409,1427.1L1414,1427.1L1415,1427.2L1416,1429.8L1417,1430.5L1418,1430.5L1419,1432.5L1420,1449.7L1421,1451.4L1422,1450.4L1425,1450.4L1426,1451.7L1427,1438L1428,1441.7L1429,1441.7L1430,1434L1431,1434L1432,1439.3L1433,1434.9L1434,1432.9L1440,1432.9L1441,1433.9L1442,1437.5L1443,1439.2L1444,1435.4L1446,1435.4L1447,1444.1L1448,1438.9L1449,1444.3L1450,1415.3L1451,1408.2L1452,1401.1L1454,1401.1L1455,1401.4L1456,1401.4L1457,1423.8L1458,1448.2L1459,1451L1460,1450.3L1461,1451.5L1463,1451.5L1464,1452.2L1465,1454.5L1466,1452.6L1467,1452.6L1468,1452L1469,1451.2L1470,1452L1473,1452L1474,1452.5L1475,1447.9L1476,1422L1477,1410.6L1478,1410.6L1479,1409.8L1480,1409.8L1481,1415.5L1482,1415.5L1483,1429.1L1484,1454.9L1485,1453.7L1486,1456L1487,1456.1L1488,1453L1489,1452.1L1492,1452.1L1493,1447.9L1494,1438.7L1495,1445.4L1496,1445.4L1497,1443L1500,1443L1501,1440.8L1502,1438.8L1503,1438.7L1508,1438.7L1509,1439.1L1510,1441.7L1511,1443.8L1512,1448.4L1513,1454.2L1514,1447.6L1515,1448.5L1516,1449.5L1517,1452.7L1518,1452.7L1519,1449.7L1520,1447.4L1521,1449.7L1522,1449.7L1523,1449.4L1524,1452.4L1525,1443.4L1526,1441.4L1527,1440.9L1528,1435.8L1529,1435.8L1530,1438.3L1531,1440.5L1532,1443.8L1533,1452L1534,1452L1535,1452.7L1536,1455.6L1537,1456.7L1538,1456.7L1539,1453.2L1541,1453.2L1542,1453.3L1543,1453.4L1544,1452.5L1545,1431.4L1546,1409.8L1547,1408L1547,1408L1548,1410.3L1549,1432.7L1550,1453.2L1551,1455.1L1552,1452L1553,1451.9L1556,1451.9L1557,1452L1558,1453.5L1559,1453.9L1560,1453.9L1561,1453.2L1562,1419.1L1563,1394.2L1563.2,1394.2L1564,1406.1L1565,1445.9L1566,1457.5L1567,1457.5L1568,1455.9L1569,1454.2L1570,1453.2L1571,1453.6L1574,1453.6L1575,1454.8L1578,1454.8L1579,1453.7L1580,1453.6L1581,1453.6L1582,1451.7L1583,1436L1584,1430.3L1585,1432.4L1586,1432.4L1587,1436.5L1588,1431.1L1589,1430L1593,1430L1594,1432L1595,1431L1596,1405.5L1596.7,1399.9L1597,1400.1L1598,1429.7L1599,1456L1600,1453.1L1601,1448.6L1602,1448.5L1604,1448.5L1605,1453.8L1606,1452.2L1607,1450.2L1609,1450.2L1610,1451.7L1611,1451.7L1612,1449.2L1615,1449.2L1616,1452.2L1617,1453.2L1618,1453.2L1619,1450.1L1620,1450.1L1621,1448.9L1622,1455.4L1623,1453.9L1624,1450.2L1625,1448.6L1626,1448.5L1628,1448.5L1629,1449.8L1630,1452.3L1631,1454.2L1632,1453.7L1633,1451.7L1634,1448.3L1635,1426.8L1636,1419.6L1638,1419.6L1639,1421.7L1640,1418.4L1642,1418.4L1643,1419.4L1644,1418.5L1645,1418.5L1646,1421.9L1647,1419.6L1648,1427.1L1651,1427.1L1652,1427.7L1653,1427.7L1654,1427.5L1657,1427.5L1658,1433L1661,1433L1662,1430.4L1663,1430.4L1664,1433L1666,1433L1667,1431.8L1668,1430L1672,1430L1673,1431.3L1674,1431.4L1677,1431.4L1678,1439.9L1679,1434.3L1680,1450L1681,1453.7L1682,1452.5L1683,1450.4L1684,1454L1687,1454L1688,1450.2L1689,1450.2L1690,1454.8L1691,1454.8L1692,1454L1693,1455.2L1694,1455.2L1695,1453.6L1696,1447.8L1697,1448.5L1698,1447.7L1699,1447.3L1699,1447.3L1700,1448L1701,1447.4L1702,1448.4L1703,1455.5L1704,1456.2L1705,1454.6L1706,1453.3L1707,1453.3L1708,1453.1L1710,1453.1L1711,1453.2L1712,1433.9L1713,1387.8L1714,1387.3L1715,1371.8L1717,1371.8L1718,1394.5L1719,1374.6L1720,1374.6L1721,1373.7L1722,1369.3L1724,1369.3L1725,1365.8L1725,1361.9L1726,1309.8L1726.1,1309.8L1727,1340.2L1728,1369.3L1729,1369.5L1730,1378.9L1731,1385.4L1734,1385.4L1735,1369.5L1736.5,1369.5L1737,1391.6L1738,1412.7L1739,1419.9L1740,1429.4L1741,1429.4L1742,1423.4L1743,1418.2L1745,1418.2L1746,1426.4L1748,1426.4L1749,1419L1750,1417.3L1752,1417.3L1753,1419.5L1754,1428.6L1755,1428.6L1756,1430.2L1759,1430.2L1760,1425.4L1761,1447.6L1762,1455.3L1763,1453.1L1765,1453.1L1766,1455.3L1767,1455.8L1769,1455.8L1770,1454.5L1771,1454.5L1772,1456.8L1773,1455.6L1774,1453.8L1780,1453.8L1781,1453.1L1782,1447.2L1783,1438.7L1786,1438.7L1787,1446.7L1788,1446.7L1789,1444.3L1790,1440.6L1791,1438.8L1792,1438.7L1797,1438.7L1798,1439.2L1799,1439.5L1800,1439.5L1801,1442L1802,1442L1803,1439L1804,1450.4L1805,1456.7L1806,1453.1L1807,1453.5L1810,1453.5L1811,1453.1L1812,1453.8L1814,1453.8L1815,1455.7L1817,1455.7L1818,1454.3L1820,1454.3L1821,1454.8L1823,1454.8L1824,1454.9L1827,1454.9L1828,1455.4L1829,1454.6L1832,1454.6L1833,1454L1834,1446.2L1835,1441.7L1837,1441.7L1838,1440.8L1839,1436.9L1840,1436.9L1841,1440.5L1842,1440.5L1843,1438.1L1844,1444L1845,1456.3L1846,1456.8L1847,1456.7L1849,1456.7L1850,1457.4L1853,1457.4L1854,1457L1855,1457.4L1856,1456.5L1857,1456.5L1858,1458L1859,1456.7L1860,1456.7L1861,1456.5L1863,1456.5L1864,1457L1865,1459.3L1866,1454.5L1867,1454L1868,1453.6L1869,1451.9L1870,1451.9L1871,1452L1872,1452L1873,1455.2L1874,1459.7L1875,1460.3L1887,1460.3L1888,1460.2L1889,1460L1895,1460L1896,1460.3L1897,1459L1898,1455.4L1899,1455.2L1900,1454.9L1901,1454.3L1902,1454.3L1903,1454.6L1904,1454.3L1905,1457.5L1906,1459.6L1908,1459.6L1909,1460.2L1910,1460.3L1912,1460.3L1913,1460.2L1919,1460.2L1920,1460.3L1921,1460.1L1922,1459.9L1926,1459.9L1927,1460.1L1928,1459.5L1931,1459.5L1932,1459L1938,1459L1939,1459.3L1940,1460.1L1941,1460.3L1942,1460.3L1943,1460L1944,1459L1945,1458.6L1950,1458.6L1951,1459L1954,1459L1955,1458.6L1956,1458.6L1957,1458.9L1958,1459.6L1959,1459.3L1966,1459.3L1967,1455.1L1968,1451.9L1969,1452L1970,1451.9L1971,1451.9L1972,1452.5L1973,1452.5L1974,1454.6L1975,1458.9L1976,1459.9L1977,1460.3L1978,1460L1983,1460L1984,1459.5L1985,1458.7L1989,1458.7L1990,1458.8L1991,1459.8L1992,1460.3L1996,1460.3L1997,1460.1L1998,1459.9L2003,1459.9L2004,1459.8L2005,1459.8L2006,1456.1L2007,1435.1L2008,1421.3L2008.1,1421.3L2009,1429.4L2010,1452.9L2011,1460.3L2028,1460.3L2029,1460.1L2032,1460.1L2033,1459.9L2034,1459.8L2036,1459.8L2037,1459.7L2038,1459.3L2040,1459.3L2041,1459.2L2045,1459.2L2046,1459.4L2047,1460.2L2048,1460.3L2057,1460.3L2058,1459.6L2059,1458L2060,1457.7L2060.1,1457.7L2061,1457.8L2062,1459.2L2063,1459.6L2065,1459.6L2066,1459.9L2067,1459.5L2068,1459.4L2070,1459.4L2071,1460L2072,1460.3L2073,1459.7L2074,1459.3L2075,1459.3L2076,1459.5L2077,1460.2L2078,1460.3L2080,1460.3L2081,1460L2086,1460L2087,1460.1L2088,1460.3L2093,1460.3L2094,1459.7L2095,1458.7L2096,1458.6L2099,1458.6L2100,1458.9L2101,1459.2L2102,1459.2L2103,1459.1L2104,1458.7L2105,1458.7L2106,1459.2L2107,1459.5L2118,1459.5L2119,1460L2120,1459.4L2121,1459.1L2126,1459.1L2127,1459.9L2128,1459.9L2129,1459.1L2130,1459L2133,1459L2134,1458.6L2137,1458.6L2138,1459.4L2139,1460L2140,1459.2L2141,1459L2143,1459L2144,1459.3L2145,1459.8L2146,1459.6L2149,1459.6L2150,1458.4L2151,1457.7L2154,1457.7L2155,1458.2L2156,1459.3L2159,1459.3L2160,1459.7L2161,1460.3L2163,1460.3L2164,1459.7L2168,1459.7L2169,1460L2170,1459.4L2171,1459.4L2172,1459.1L2173,1459L2175,1459L2176,1459.2L2177,1460.1L2178,1460.3L2180,1460.3L2181,1460.1L2183,1460.1L2184,1460.3L2185,1460.1L2188,1460.1L2189,1459.5L2190,1459.1L2191,1459.1L2192,1459.4L2193,1460.2L2194,1460.1L2195,1459.3L2196,1459L2200,1459L2201,1458.9L2205,1458.9L2206,1458.8L2207,1458.8L2208,1459.2L2209,1460L2210,1460.3L2221,1460.3L2222,1459.9L2223,1459.3L2226,1459.3L2226.0,1461.5Z" fill="#ff00ff" stroke="#ff00ff" stroke-width="3" stroke-linejoin="round" stroke-linecap="round"/>
<path d="M383.0,1748.0L383,1745.5L389,1745.5L390,1745.7L391,1746.6L392,1746.3L393,1745.7L397,1745.7L398,1746.1L399,1746.8L400,1747.2L401,1747.2L402,1747L403,1746.8L409,1746.8L410,1747.2L416,1747.2L417,1746.4L418,1745.5L424,1745.5L425,1746.1L426,1746.9L427,1747.2L430,1747.2L431,1747.1L436,1747.1L437,1747.2L440,1747.2L441,1746.9L442,1746L443,1745.2L447,1745.2L448,1746.2L449,1746.3L450,1746.1L453,1746.1L454,1745.9L455,1745.1L461,1745.1L462,1745.4L463,1746.4L464,1747.2L488,1747.2L489,1747L491,1747L492,1746.5L493,1746L494,1745.9L498,1745.9L499,1746L500,1746.5L501,1747L502,1747.2L505,1747.2L506,1746.8L507,1746.7L508,1746.7L509,1746.9L510,1747L511,1746L512,1745.1L516,1745.1L517,1745.3L523,1745.3L524,1746.1L525,1746.7L526,1746.7L527,1746.4L533,1746.4L534,1746.7L535,1745.9L536,1743.9L537,1741.9L538,1741.3L541,1741.3L542,1742.4L543,1744.4L544,1746.3L545,1746.6L547,1746.6L548,1746.9L549,1747.2L550,1747L551,1746.8L554,1746.8L555,1747.2L563,1747.2L564,1746.3L565,1744.8L566,1743.4L567,1743L570,1743L571,1744L572,1745.1L574,1745.1L575,1745.3L576,1746.2L579,1746.2L580,1746.4L581,1746.5L583,1746.5L584,1746.8L585,1747.1L592,1747.1L593,1746.8L594,1745.9L595,1745.2L598,1745.2L599,1745.3L600,1746.2L601,1747.1L602,1747.2L606,1747.2L607,1747.1L608,1746.7L612,1746.7L613,1745.9L614,1743.1L614.5,1743L615,1743.2L616,1746L617,1746.5L620,1746.5L621,1746.2L626,1746.2L627,1746.5L628,1746.6L631,1746.6L632,1746.2L633,1745.9L634,1742L634.7,1741.3L635,1741.3L636,1744.3L637,1745.9L638,1745.9L639,1746.4L640,1745.5L641,1745.3L647,1745.3L648,1745.6L649,1745.9L651,1745.9L652,1745.8L653,1745.2L655,1745.2L656,1745.7L657,1746.6L658,1746.6L659,1745.8L660,1745.7L663,1745.7L664,1745.8L665,1745.8L666,1745.1L672,1745.1L673,1740.8L674,1730.9L675,1717.6L676,1707.2L677,1705.4L679,1705.4L680,1706.6L681,1716.3L682,1729.6L683,1740L684,1745.3L685,1746.1L689,1746.1L690,1745.6L691,1745L692,1745L693,1745.2L694,1746.1L695,1746.9L696,1746.2L697,1745.9L700,1745.9L701,1745.8L702,1745.8L703,1745.9L704,1745.9L705,1746.5L706,1746.6L708,1746.6L709,1747.1L710,1747.2L711,1746.8L712,1746.4L713,1746.4L714,1746.5L715,1747L716,1747.2L717,1746.5L718,1745L719,1743.5L720,1743L723,1743L724,1743.8L725,1745.3L727,1745.3L728,1745.4L729,1746.2L730,1745.6L735,1745.6L736,1746.3L737,1747L738,1747L739,1746.8L740,1746.6L741,1745.2L742,1743.7L743,1743L746,1743L747,1743.6L748,1745.1L749,1746L750,1746L751,1745.6L754,1745.6L755,1745.1L760,1745.1L761,1745.2L762,1745.7L763,1746.3L764,1747L765,1747.2L766,1746.6L767,1746.4L768,1746.4L769,1746.6L770,1747.1L771,1747.1L772,1746.5L773,1746.3L774,1746.3L775,1745.5L776,1743.5L777,1741.7L778,1741.3L780,1741.3L781,1741.4L782,1742.7L783,1744.8L784,1746.6L785,1747.2L794,1747.2L795,1746.9L796,1746L797,1745.2L799,1745.2L800,1746L801,1746.9L802,1746.2L803,1745.8L804,1745.3L805,1743.2L806,1741.6L807,1741.3L809,1741.3L810,1741.4L811,1742.9L812,1745L813,1745.7L818,1745.7L819,1746.2L820,1745.8L826,1745.8L827,1745.9L833,1745.9L834,1746.2L835,1746.2L836,1746.5L837,1747.1L838,1747.2L839,1747.2L840,1746.9L841,1746L842,1745.2L844,1745.2L845,1746.1L846,1746.5L847,1744.2L848,1740.5L849,1736.9L850,1735.5L853,1735.5L854,1737.4L855,1741.2L856,1744.7L857,1746.8L858,1747.2L863,1747.2L864,1746.9L865,1746.3L866,1746.2L869,1746.2L870,1746.5L871,1746.6L872,1746.5L873,1745.6L874,1745.3L876,1745.3L877,1745.6L881,1745.6L882,1743.9L883,1741.3L883.2,1741.3L884,1742.3L885,1745.6L888,1745.6L889,1745.7L890,1746.5L891,1746.4L897,1746.4L898,1746.6L902,1746.6L903,1746.8L904,1747.2L906,1747.2L907,1746.6L908,1745.8L909,1745.4L915,1745.4L916,1745.8L917,1743.9L917.9,1743L918,1743L919,1744.8L920,1746.9L921,1746.9L922,1746.2L923,1745.3L924,1745.2L929,1745.2L930,1745.5L931,1746.4L932,1746.5L933,1746.4L937,1746.4L938,1746.3L939,1745.7L942,1745.7L943,1742.6L943.9,1741.3L944,1741.3L945,1743.6L946,1745L947,1745L948,1745.5L949,1745.8L950,1745.4L955,1745.4L956,1746.2L957,1746.4L958,1746.2L960,1746.2L961,1746.8L962,1747L963,1746.5L964,1746.5L965,1746.1L966,1745.7L971,1745.7L972,1745.9L973,1746L974,1743.2L975,1734.4L975.6,1733.2L976,1733.2L977,1740.5L978,1746.4L979,1745.6L980,1745.4L984,1745.4L985,1745.5L986,1746.3L987,1747.2L988,1747.2L989,1746.3L990,1745.6L994,1745.6L995,1745.1L1001,1745.1L1002,1745.9L1003,1746.8L1004,1747.2L1011,1747.2L1012,1747L1013,1746.8L1015,1746.8L1016,1746.7L1017,1745.8L1018,1745.5L1020,1745.5L1021,1746.3L1022,1747.2L1025,1747.2L1026,1747L1027,1746.8L1028,1746.1L1029,1745.5L1033,1745.5L1034,1745.6L1035,1746.4L1036,1747.2L1037,1746.8L1038,1746.1L1039,1746L1046,1746L1047,1746.1L1048,1745.1L1049,1745L1050,1741.3L1050.8,1733.2L1051,1734.1L1052,1745L1054,1745L1055,1745.1L1056,1746.1L1057,1747.1L1058,1747L1059,1746.4L1063,1746.4L1064,1746.6L1065,1745.6L1066,1745.1L1068,1745.1L1069,1744.5L1070,1733L1071,1727.4L1072,1732.9L1073,1744.5L1074,1746.2L1075,1746.9L1076,1747.2L1081,1747.2L1082,1746.8L1083,1735.9L1084,1648.2L1084.3,1636.1L1085,1690.3L1086,1745.7L1087,1746.4L1088,1743.7L1089,1693.2L1090,1620.5L1090.1,1620.5L1091,1679.3L1092,1741.1L1093,1745.9L1097,1745.9L1098,1745.8L1100,1745.8L1101,1746L1102,1745.7L1103,1745.4L1105,1745.4L1106,1746.3L1107,1747.2L1112,1747.2L1113,1746.8L1115,1746.8L1116,1745.4L1117,1743.3L1118,1741.6L1119,1741.3L1121,1741.3L1122,1741.4L1123,1742.8L1124,1744.9L1125,1746.5L1126,1747.1L1127,1747.2L1129,1747.2L1130,1746.7L1131,1746.6L1138,1746.6L1139,1747L1140,1747.1L1141,1747L1142,1746L1143,1745L1147,1745L1148,1745.8L1149,1746.8L1150,1747.2L1151,1747.1L1152,1747L1156,1747L1157,1746.2L1158,1745.2L1159,1744.7L1162,1744.7L1163,1745.1L1164,1746.1L1165,1746.9L1166,1746.8L1168,1746.8L1169,1746.7L1170,1745.9L1171,1745.8L1177,1745.8L1178,1746.4L1179,1746.5L1180,1746.7L1181,1747.2L1182,1747.2L1183,1746.7L1184,1746.5L1186,1746.5L1187,1747L1188,1747.1L1189,1746.4L1190,1745.6L1192,1745.6L1193,1745.8L1194,1746.3L1195,1745.4L1196,1745.3L1202,1745.3L1203,1745.9L1204,1746.5L1205,1746.7L1206,1747.2L1207,1747.2L1208,1746.9L1209,1746.7L1212,1746.7L1213,1746.9L1214,1746.5L1219,1746.5L1220,1746.2L1221,1746L1223,1746L1224,1746.7L1225,1746.9L1226,1746.9L1227,1746.7L1228,1746.2L1231,1746.2L1232,1746L1233,1745.3L1236,1745.3L1237,1746.2L1238,1747L1239,1746.8L1242,1746.8L1243,1746.3L1244,1746.1L1246,1746.1L1247,1746.6L1248,1747.2L1249,1747L1250,1746.5L1254,1746.5L1255,1746.9L1262,1746.9L1263,1746.5L1264,1746.2L1268,1746.2L1269,1746.6L1272,1746.6L1273,1746.8L1274,1746.8L1275,1746.6L1276,1746.6L1277,1746.1L1278,1745.1L1279,1745L1282,1745L1283,1745.2L1284,1746.2L1285,1746.1L1290,1746.1L1291,1746.5L1293,1746.5L1294,1745.7L1295,1745.3L1298,1745.3L1299,1745.6L1300,1746.2L1301,1746.2L1302,1744.7L1303,1743L1303.1,1743L1304,1744L1305,1746L1306,1745.9L1307,1745.5L1311,1745.5L1312,1745.6L1318,1745.6L1319,1742.5L1320,1735.7L1320.5,1735.5L1321,1736L1322,1743.2L1323,1746.7L1327,1746.7L1328,1746.5L1329,1746.1L1331,1746.1L1332,1746.6L1333,1745.7L1334,1745.2L1337,1745.2L1337.8,1744.7L1338,1744.7L1339,1745L1341,1745L1342,1745.9L1343,1746.9L1344,1747.2L1346,1747.2L1347,1747.1L1348,1746.9L1349,1746.9L1350,1746.6L1351,1745.9L1352,1745.7L1355,1745.7L1356,1746.2L1357,1746.9L1358,1747.2L1361,1747.2L1362,1746.7L1363,1746.5L1365,1746.5L1366,1746.4L1370,1746.4L1371,1740.5L1372,1652.5L1372.5,1621.6L1373,1662.4L1374,1742.6L1375,1703L1376,1529.7L1376.5,1492.8L1377,1528.5L1378,1702.2L1379,1745.4L1381,1745.4L1382,1745L1385,1745L1386,1746L1387,1746.6L1390,1746.6L1391,1746.7L1394,1746.7L1395,1747.1L1396,1747.2L1397,1747.2L1398,1747.1L1402,1747.1L1403,1747.2L1409,1747.2L1410,1746.8L1411,1746.1L1412,1746L1416,1746L1417,1746.2L1418,1746.7L1420,1746.7L1421,1746.6L1422,1745.7L1423,1745.3L1429,1745.3L1430,1745.6L1431,1746.5L1432,1747.2L1434,1747.2L1435,1747.1L1437,1747.1L1438,1747L1439,1746.7L1445,1746.7L1446,1747.1L1447,1747.2L1448,1747.1L1452,1747.1L1453,1747L1454,1746.9L1457,1746.9L1458,1747.1L1459,1747.2L1462,1747.2L1463,1746.7L1464,1746L1469,1746L1470,1746.1L1474,1746.1L1475,1746.7L1476,1747.2L1477,1747.1L1478,1746.2L1479,1745.5L1483,1745.5L1484,1745L1487,1745L1488,1745.5L1489,1746.5L1490,1745.9L1491,1745.7L1494,1745.7L1495,1746.4L1496,1747.2L1497,1746.2L1498,1745.2L1499,1745L1503,1745L1504,1745.2L1505,1746.2L1506,1747.2L1514,1747.2L1515,1747L1516,1746.9L1517,1746.9L1518,1746.1L1519,1745.4L1521,1745.4L1522,1745.5L1523,1746.3L1524,1746.6L1525,1746.3L1528,1746.3L1529,1746.4L1530,1746.5L1531,1746L1533,1746L1534,1746.7L1535,1747.2L1536,1746.9L1537,1746.4L1543,1746.4L1544,1745.7L1546,1745.7L1547,1745.6L1549,1745.6L1550,1746L1551,1745.6L1553,1745.6L1554,1745.8L1555,1746.6L1556,1746.8L1557,1746L1558,1745.2L1561,1745.2L1562,1745.9L1563,1746.1L1566,1746.1L1567,1746.2L1572,1746.2L1573,1746.8L1574,1747.2L1575,1747.2L1576,1746.7L1577,1746.5L1581,1746.5L1582,1747L1584,1747L1585,1747.2L1589,1747.2L1590,1747.1L1591,1746.3L1592,1745.7L1593,1745.7L1594,1745.5L1595,1745.5L1596,1745.4L1597,1745.3L1598,1745.3L1599,1745.5L1600,1744.7L1601,1742.8L1602,1741.8L1605,1741.8L1606,1742.5L1607,1744.3L1608,1745.9L1609,1746L1614,1746L1615,1746.3L1616,1746.9L1617,1747.2L1624,1747.2L1625,1746.4L1626,1745.7L1631,1745.7L1632,1745.9L1633,1746.7L1634,1746.8L1635,1746.8L1636,1747.1L1637,1747.2L1638,1746.9L1639,1746.4L1641,1746.4L1642,1746.1L1645,1746.1L1646,1746.7L1647,1746.9L1648,1746.6L1649,1746.1L1653,1746.1L1654,1746.6L1655,1747.2L1658,1747.2L1659,1746.3L1660,1743.8L1661,1740L1662,1736.5L1663,1735.5L1665,1735.5L1666,1735.6L1667,1737.8L1668,1741.7L1669,1745.1L1670,1745.9L1672,1745.9L1673,1745.4L1674,1745.1L1676,1745.1L1677,1745.2L1683,1745.2L1684,1745.3L1685,1746.3L1686,1747L1691,1747L1692,1747.2L1693,1746.9L1694,1746.1L1695,1745.5L1701,1745.5L1702,1745.1L1708,1745.1L1709,1745.2L1710,1746.1L1711,1745.9L1712,1745.6L1718,1745.6L1719,1745.7L1721,1745.7L1722,1746L1723,1746.2L1729,1746.2L1730,1746.8L1731,1747.2L1750,1747.2L1751,1747.1L1752,1747L1753,1747L1754,1746.9L1755,1746.1L1756,1745.8L1759,1745.8L1760,1746.2L1761,1746.6L1762,1745.8L1763,1745.2L1766,1745.2L1767,1745.7L1768,1746.2L1769,1746L1770,1746L1771,1746.3L1772,1747L1773,1747.2L1774,1746.9L1775,1746.7L1778,1746.7L1779,1747L1780,1747.2L1791,1747.2L1792,1746.5L1793,1745.7L1794,1745.6L1801,1745.6L1802,1746.4L1803,1746.8L1805,1746.8L1806,1746.2L1807,1745.4L1810,1745.4L1811,1746.1L1812,1746.9L1813,1746.6L1814,1746.1L1818,1746.1L1819,1745.8L1820,1745.6L1824,1745.6L1825,1746.4L1826,1747.2L1830,1747.2L1831,1746.9L1832,1746.3L1833,1746L1834,1746L1835,1745.8L1841,1745.8L1842,1746L1843,1746.8L1844,1746.6L1845,1745.7L1846,1745.2L1848,1745.2L1849,1745.9L1850,1746.3L1851,1746.3L1852,1746.6L1853,1747.2L1856,1747.2L1857,1746.5L1858,1745.5L1859,1745.1L1860,1745.1L1861,1745.6L1862,1746.6L1863,1747.2L1868,1747.2L1869,1747L1870,1746.5L1872,1746.5L1873,1746.4L1874,1746.2L1877,1746.2L1878,1746.1L1884,1746.1L1885,1746.3L1886,1746.9L1891,1746.9L1892,1747.2L1893,1746.7L1894,1746.1L1895,1745.9L1899,1745.9L1900,1745.8L1905,1745.8L1906,1745.5L1907,1745.3L1909,1745.3L1910,1745.5L1911,1746.4L1912,1747.2L1915,1747.2L1916,1746.9L1917,1746.1L1918,1745.5L1924,1745.5L1925,1745.6L1926,1746.1L1931,1746.1L1932,1745.7L1933,1745.3L1934,1745.3L1935,1745.2L1936,1745.2L1937,1745.3L1938,1745.3L1939,1745.4L1940,1746.1L1944,1746.1L1945,1746.6L1946,1746.8L1948,1746.8L1949,1747.2L1950,1747.2L1951,1747.1L1952,1746.9L1956,1746.9L1957,1747L1962,1747L1963,1746.9L1966,1746.9L1967,1746.8L1968,1745.9L1969,1745.3L1974,1745.3L1975,1745.5L1976,1745.6L1977,1745.6L1978,1745.9L1979,1746.7L1980,1747.2L1981,1747.2L1982,1747L1983,1746.2L1984,1745.4L1985,1745.4L1986,1745.5L1987,1746.3L1988,1747L1989,1746.4L1990,1746.2L1991,1746.2L1992,1745.4L1993,1745L1997,1745L1998,1745.8L1999,1746.7L2003,1746.7L2004,1746.9L2006,1746.9L2007,1746.7L2008,1745.8L2009,1745.5L2014,1745.5L2015,1746.2L2016,1746.5L2017,1746.7L2018,1747.2L2036,1747.2L2037,1746.6L2038,1745.8L2045,1745.8L2046,1745.9L2047,1746L2052,1746L2053,1746.2L2057,1746.2L2058,1745.5L2063,1745.5L2064,1746.2L2065,1746.2L2066,1746.7L2067,1747.2L2068,1747.1L2069,1746.7L2073,1746.7L2074,1747L2075,1747.2L2077,1747.2L2078,1746.9L2079,1746.6L2081,1746.6L2082,1747L2083,1746.6L2086,1746.6L2087,1745.8L2088,1745.4L2094,1745.4L2095,1746.1L2096,1746.9L2097,1747L2098,1746.5L2099,1746.3L2100,1746.1L2101,1745.1L2102,1745L2106,1745L2107,1745.4L2108,1746.4L2109,1746L2110,1745.1L2117,1745.1L2118,1745.5L2119,1745.5L2120,1745.6L2121,1746L2124,1746L2125,1745.9L2126,1745.3L2129,1745.3L2130,1745.2L2132,1745.2L2133,1745.6L2134,1745.9L2137,1745.9L2138,1745.3L2139,1745.2L2144,1745.2L2145,1746L2146,1746.4L2147,1746.9L2148,1747.2L2149,1747.2L2150,1746.8L2151,1746.7L2153,1746.7L2154,1746.4L2155,1745.6L2161,1745.6L2162,1745.7L2163,1745.1L2168,1745.1L2169,1745.8L2170,1746.6L2171,1746.9L2172,1746.3L2173,1746L2175,1746L2176,1746.4L2177,1746.7L2178,1746.5L2179,1746.5L2180,1746.7L2181,1746.8L2182,1746.2L2183,1746.1L2186,1746.1L2187,1746.2L2188,1746.8L2189,1746.6L2190,1746.5L2194,1746.5L2195,1746.7L2196,1747.2L2207,1747.2L2208,1746.2L2209,1745.2L2210,1745.1L2216,1745.1L2217,1745.3L2221,1745.3L2222,1746.1L2223,1746L2224,1745.9L2226,1745.9L2226.0,1748.0Z" fill="#00c000" stroke="#00c000" stroke-width="7" stroke-linejoin="round" stroke-linecap="round"/>
<path d="M383.0,2034.0L383,2032.4L387,2032.4L388,2032L389,2031.8L390,2031.8L391,2032.1L392,2032L393,2031.9L394,2031.9L395,2032.3L396,2031.4L397,2030.6L401,2030.6L402,2031.4L403,2031.7L404,2032.3L411,2032.3L412,2031.5L413,2030.4L414,2030.1L415,2028L415.1,2028L416,2029.2L417,2032.3L432,2032.3L433,2032.1L436,2032.1L437,2032L438,2032L439,2031.6L440,2030.9L446,2030.9L447,2031.5L448,2031.7L449,2032.2L456,2032.2L457,2032.1L458,2032.1L459,2032.2L461,2032.2L462,2031.8L463,2031.8L464,2030.7L465,2030.5L470,2030.5L471,2031.4L472,2032.1L473,2032.1L474,2031.8L475,2031.3L477,2031.3L478,2030.7L479,2029.6L485,2029.6L486,2029.8L487,2031.3L488,2030.3L489,2029.3L494,2029.3L495,2030L496,2031.5L497,2032.1L499,2032.1L500,2031.9L501,2031.8L502,2031.8L503,2032L515,2032L516,2031.1L517,2029.6L522,2029.6L523,2030.6L524,2031.4L525,2031.3L526,2030L527,2027.8L528,2027.4L531,2027.4L532,2028.8L533,2030.2L534,2030L535,2029.9L536,2029.8L537,2028.9L538,2012.8L538.2,2010.7L539,2028.3L540,2028.7L541,2029.2L545,2029.2L546,2027.6L547,2027.2L550,2027.2L551,2028.6L552,2029.2L553,2027.8L559,2027.8L560,2029.1L561,2027.3L562,2018.6L562.5,2018.2L563,2018.7L564,2025.2L565,2023.4L571,2023.4L572,2026.2L573,2029.1L575,2029.1L576,2022.6L576.9,2019.3L577,2019.3L578,2024L579,2029.1L582,2029.1L583,2028.9L584,2026.5L589,2026.5L590,2025.3L591,2023.5L593,2023.5L594,2026.1L595,2029.1L596,2029.1L597,2029L598,2028L602,2028L603,2029L604,2029L605,2028.2L606,2027.4L610,2027.4L611,2021.3L611.6,2020.5L612,2020.6L613,2023.2L620,2023.2L621,2024.7L622,2027.3L627,2027.3L628,2028L629,2029L630,2029L631,2024.3L632,2018.3L633,2014.8L634,2014.7L636,2014.7L637,2016.3L638,2021.7L639,2023.2L640,2023.2L641,2023.6L642,2024.6L645,2024.6L646,2024.8L647,2024.3L648,2021.8L651,2021.8L652,2021.4L659,2021.4L660,2023.7L661,2027.9L662,2028.9L665,2028.9L666,2026.3L667,2023.2L673,2023.2L674,2012.2L675,1999.1L675.2,1999.1L676,2005.1L677,2022.3L679,2022.3L680,2023.6L681,2027.5L682,2027.8L686,2027.8L687,2028.8L688,2021.9L689,2001.4L689.6,1999.1L690,1999.4L691,2017.4L692,2025.6L693,2023.9L700,2023.9L701,2026.6L702,2026.9L703,2026.7L704,2026.6L705,2026.4L706,2026.2L707,2025.2L708,2020.8L709,2020.7L713,2020.7L714,2020.4L720,2020.4L721,2018.3L721.4,2018.2L722,2019.2L723,2024.9L726,2024.9L727,2025.6L732,2025.6L733,2025.2L736,2025.2L737,2025.6L738,2025.6L739,2021.1L740,2015L741,2015L741.6,2003.1L742,2011.8L743,2015L745,2015L746,2018.4L747,2023.5L751,2023.5L752,2025L753,2025.6L758,2025.6L759,2024.1L761,2024.1L762,2024.2L763,2025.6L765,2025.6L766,2021L767,2007.7L768,1993.7L769,1987.5L772,1987.5L773,1993.5L774,2007.3L775,2020.4L776,2023.3L778,2023.3L779,2020.3L780,1957.6L780.3,1945.4L781,1984.7L782,2014.8L786,2014.8L787,2018.5L788,2023.4L789,2023.4L790,2024.3L791,2024.5L792,2022.8L793,2016.2L794,2014.2L795,2014.2L796,2008.7L796.5,2007.8L797,2008.5L798,2014.2L807,2014.2L808,2017.8L809,2024.4L810,2025.6L813,2025.6L814,2022.3L815,2017.5L820,2017.5L821,2018.1L822,2019L824,2019L825,2022.5L826,2019.5L827,2015.5L829,2015.5L830,2018.4L831,2024.6L832,2024L833,2017.3L834,2014L835,2008.5L836,2007.8L838,2007.8L839,2008.8L840,2013.2L842,2013.2L843,2017.3L844,2024.2L845,1990.9L845.6,1960.4L846,1972.4L847,2025.6L849,2025.6L850,2025.3L851,2017.4L852,2010L853,2007.8L855,2007.8L856,2007.9L857,2012.5L858,2020.7L859,2025.6L860,2024.1L861,2023.2L862,2020.6L863,2017.4L870,2017.4L871,2020.3L872,2025.6L873,2023L874,2016.6L875,2014.9L878,2014.9L879,2016.1L880,2022.5L881,2014.2L881.5,2007.8L882,2016.1L883,2025.6L885,2025.6L886,2024L887,2019.3L892,2019.3L893,2017.9L894,2014.3L895,2014.3L896,2014.5L897,2021L898,2025.6L903,2025.6L904,2021.9L905,2015.9L907,2015.9L908,2019.5L909,2023.4L910,2022.4L913,2022.4L914,2025.1L915,2003.1L915,2003.2L916,2025.6L925,2025.6L926,2022.8L927,2018.1L930,2018.1L931,2019.5L932,2024.8L933,2025.6L935,2025.6L936,2023L937,2022.4L938,1996.6L938.1,1996.2L939,2015.1L940,2014.4L943,2014.4L944,2014.7L945,2021.2L946,2024.9L948,2024.9L949,2024.7L950,2017.8L951,2013.4L956,2013.4L957,2014.9L958,2019.2L961,2019.2L962,2022.4L963,2025.6L968,2025.6L969,2021.4L970,2015.7L973,2015.7L974,1964.4L975,1836.3L975.6,1818.2L976,1818.9L977,1925L978,1932.6L980,1932.6L981,1944.8L982,1974.8L983,2004.3L984,2013.8L986,2013.8L987,2016.7L988,2023.5L989,2025.6L998,2025.6L999,2024L1002,2024L1003,2024.1L1004,2023.4L1006,2023.4L1007,2025.5L1008,2025.6L1010,2025.6L1011,2007.1L1011.5,1997.4L1012,2008.3L1013,2021.7L1016,2021.7L1017,2022L1018,2020.2L1023,2020.2L1024,2020.7L1025,2025.3L1026,2025.6L1027,2019.4L1027.7,2007.8L1028,2011.4L1029,2025.6L1037,2025.6L1038,2022.6L1039,2020.8L1045,2020.8L1046,2000.2L1046.2,1999.1L1047,2020.5L1048,2020.5L1049,2016.5L1053,2016.5L1054,2018.2L1055,2021.7L1060,2021.7L1061,2020.3L1062,1989L1062.3,1981.8L1063,2005L1064,2019.4L1067,2019.4L1068,2017.2L1069,2016.4L1070,2016.4L1071,2017.9L1072,2023.7L1073,2020.8L1078,2020.8L1079,2022.2L1080,2025.6L1083,2025.6L1084,2024.5L1085,2023.4L1086,2023.4L1087,1993L1088,1884L1088.3,1874.9L1089,1915.2L1090,2015.3L1091,2024.2L1092,2025.6L1103,2025.6L1104,2023.6L1106,2023.6L1107,2022.6L1108,2019.6L1108.6,2018.2L1109,2019.6L1112,2019.6L1113,2022.1L1114,2020.5L1119,2020.5L1120,2024.4L1121,2024.2L1122,2022.1L1125,2022.1L1126,2024.6L1127,2025.6L1128,2024.4L1129,2019.8L1130,2019.8L1131,2014.4L1131.7,2012.4L1132,2012.4L1133,2019.8L1135,2019.8L1136,2020L1137,2015.2L1139,2015.2L1140,2014.3L1147,2014.3L1148,2016.8L1149,2014.7L1149,2014.7L1150,2019.7L1151,2025.6L1155,2025.6L1156,2025.3L1157,2023L1159,2023L1160,2024.9L1161,2025.6L1162,2024.8L1163,2019.1L1164,2016.8L1166,2016.8L1167,2021.4L1168,2019.2L1175,2019.2L1176,2022.9L1177,2023.8L1178,2023.8L1179,2025.5L1180,2023.4L1181,2017.5L1182,2016.4L1189,2016.4L1190,1999.2L1190.6,1976L1191,1986L1192,2019L1193,2019L1194,2022.2L1195,2025.6L1196,2022.8L1197,2021.6L1201,2021.6L1202,2018.4L1203,2016.5L1204,2016.5L1205,2016.9L1206,2022.7L1207,2025.6L1211,2025.6L1212,2021.3L1213,2015.4L1218,2015.4L1219,2014.9L1220,2014.8L1222,2014.8L1223,2011.8L1223,2011.8L1224,2014.8L1225,2016.1L1226,2018.9L1231,2018.9L1232,2023.9L1233,2024.5L1234,2024.5L1235,2025.6L1250,2025.6L1251,1977.2L1251.9,1936.1L1252,1936.3L1253,1995.6L1254,2022.3L1255,2022.3L1256,2025.6L1257,2025.6L1258,2024.7L1259,2023.6L1260,2022.9L1261,2016L1262,2013.1L1268,2013.1L1269,2014.1L1270,2021.1L1271,2023.3L1272,2022L1274,2022L1275,2022.6L1276,2025.6L1277,2025.6L1278,2025.3L1281,2025.3L1281.9,2008.9L1282,2009.1L1283,2025.3L1284,2025.3L1285,2014L1285.8,2010.7L1286,2010.7L1287,2020.3L1288,2025.6L1291,2025.6L1292,2024.7L1293,2023.4L1295,2023.4L1296,2025.6L1301,2025.6L1302,2024.4L1303,2019.3L1303.1,2019.3L1304,2022.3L1305,2016.7L1306,2016.2L1312,2016.2L1313,2017.4L1314,2023.3L1315,2025.7L1316,2025.7L1317,2024.2L1324,2024.2L1325,2025.7L1326,2025.7L1327,2025.5L1328,1980.1L1329,1898.2L1329.1,1898L1330,1955.7L1331,2016.4L1335,2016.4L1336,2019.2L1337,2025.1L1338,2020.9L1339,2020L1342,2020L1343,2002.5L1343.6,2000.8L1344,2001.4L1345,2019.1L1346,2020.8L1351,2020.8L1352,2022.8L1355,2022.8L1356,2024.8L1357,2025.9L1361,2025.9L1362,2021.9L1363,2021.2L1365,2021.2L1366,2022.6L1367,2026L1370,2026L1371,1984L1372,1809.5L1372.5,1779.5L1373,1822.4L1374,1993.1L1375,2026L1376,1980.9L1377,1908.4L1377.1,1908.4L1378,1965.4L1379,2014.9L1383,2014.9L1384,2017L1385,2023.4L1386,2023.2L1387,2016.9L1388,2014.9L1390,2014.9L1391,2016.3L1392,2022.7L1393,2026.1L1397,2026.1L1398,2025.7L1399,2025.5L1400,2019.5L1401,2015.8L1406,2015.8L1407,2018.2L1408,2024.3L1409,2026.2L1413,2026.2L1414,2010.8L1414.1,2010.7L1415,2024.2L1420,2024.2L1421,2026.2L1422,2026.3L1427,2026.3L1428,2020.2L1429,2015.6L1432,2015.6L1433,2018.6L1434,2024.7L1435,2026.3L1436,2023.8L1437,2017.7L1438,2015.8L1443,2015.8L1444,2020L1445,2026.1L1446,2026.4L1447,2026.4L1448,2023.9L1449,2018.2L1450,2016.9L1453,2016.9L1454,2019.3L1455,2021.7L1456,2018.4L1461,2018.4L1462,2012.4L1462,2012.4L1463,2023.4L1464,2028.6L1465,2030L1466,2030.2L1467,2030.5L1468,2030.7L1469,2031L1470,2031.2L1479,2031.2L1480,2030.3L1481,2028.1L1482,2027.3L1485,2027.3L1486,2028.5L1487,2029.7L1488,2028.3L1494,2028.3L1495,2028.9L1496,2030.8L1497,2031.2L1502,2031.2L1503,2029.8L1504,2028.7L1510,2028.7L1511,2029.5L1512,2018.4L1512.3,2016.4L1513,2024.8L1514,2028.8L1516,2028.8L1517,2030.5L1518,2031.2L1531,2031.2L1532,2030.5L1533,2028.4L1534,2027.7L1539,2027.7L1540,2027.9L1541,2028.9L1542,2027.4L1546,2027.4L1547,2028.4L1548,2030.6L1549,2031.2L1550,2031.2L1551,2031L1552,2028.9L1553,2027.6L1557,2027.6L1558,2028.5L1559,2028.9L1562,2028.9L1563,2029.8L1568,2029.8L1569,2030.8L1570,2031.3L1584,2031.3L1585,2029.5L1586,2027.3L1587,2027.2L1593,2027.2L1594,2028.8L1595,2030.9L1596,2030.9L1597,2029.8L1601,2029.8L1602,2028.9L1603,2028.2L1608,2028.2L1609,2028.3L1610,2028.3L1611,2029.4L1612,2031.3L1618,2031.3L1619,2030.2L1620,2028.2L1621,2028L1623,2028L1624,2030L1625,2031.3L1629,2031.3L1630,2025.9L1630.8,2016.4L1631,2017.7L1632,2031.3L1636,2031.3L1637,2029.5L1638,2027.3L1643,2027.3L1644,2027.5L1645,2028.5L1646,2029.7L1647,2031.3L1655,2031.3L1656,2029.9L1657,2027.8L1658,2027.7L1662,2027.7L1663,2028.7L1664,2028L1665,2027.6L1670,2027.6L1671,2027.9L1672,2029.8L1673,2030L1676,2030L1677,2030.8L1678,2031.3L1683,2031.3L1684,2030.9L1685,2029.2L1686,2028.7L1688,2028.7L1689,2029.5L1690,2031.3L1692,2031.3L1693,2031.1L1694,2029.7L1696,2029.7L1697,2029.3L1699,2029.3L1700,2030.2L1701,2031.3L1706,2031.3L1707,2030.5L1708,2030.2L1710,2030.2L1711,2028.3L1712,2028.2L1715,2028.2L1716,2018.3L1716.3,2016.4L1717,2025L1718,2031.3L1728,2031.3L1729,2030.7L1730,2028.9L1731,2028.5L1734,2028.5L1735,2029L1736,2030.9L1737,2030.4L1738,2030.3L1739,2022.2L1739.4,2019.3L1740,2024.8L1741,2030.9L1742,2031.3L1746,2031.3L1747,2031L1748,2030.7L1749,2030.7L1750,2030.6L1751,2030.5L1753,2030.5L1754,2030.8L1755,2031.4L1756,2031.4L1757,2030.8L1759,2030.8L1760,2031.4L1763,2031.4L1764,2030.5L1765,2028.3L1766,2027.6L1773,2027.6L1774,2029.7L1775,2029.9L1779,2029.9L1780,2028.8L1782,2028.8L1783,2028.4L1787,2028.4L1788,2029.6L1789,2031.4L1794,2031.4L1795,2030.4L1796,2029.2L1799,2029.2L1800,2017.7L1800.1,2017.6L1801,2028.7L1802,2030.5L1803,2030.3L1804,2030.3L1805,2031L1806,2031.4L1807,2030.3L1808,2028.5L1810,2028.5L1811,2030L1812,2030.4L1816,2030.4L1817,2031.3L1819,2031.3L1820,2030.6L1821,2029.7L1825,2029.7L1826,2030.9L1827,2031.4L1835,2031.4L1836,2031L1842,2031L1843,2031.4L1849,2031.4L1850,2030.3L1851,2029.2L1853,2029.2L1854,2030.5L1855,2031.4L1859,2031.4L1860,2030.1L1861,2028L1862,2027.8L1863,2027.8L1864,2027.5L1870,2027.5L1871,2027.7L1872,2029.9L1873,2031.4L1874,2031.4L1875,2030.6L1876,2028.5L1877,2027.8L1881,2027.8L1882,2029.3L1883,2028.9L1885,2028.9L1886,2029L1887,2030.7L1888,2031.4L1893,2031.4L1894,2030.9L1895,2023.4L1895.4,2020.5L1896,2025.2L1897,2028.2L1898,2028.2L1899,2029.5L1900,2031.4L1913,2031.4L1914,2031L1915,2029.1L1916,2028.3L1921,2028.3L1922,2029.2L1923,2031.1L1924,2031.4L1928,2031.4L1929,2030.7L1930,2030.3L1934,2030.3L1935,2029.2L1936,2027.7L1938,2027.7L1939,2029.1L1940,2030.4L1941,2028.9L1945,2028.9L1946,2030.2L1947,2030.3L1952,2030.3L1953,2031.2L1954,2031.2L1955,2031.5L1956,2031.2L1957,2029.9L1960,2029.9L1961,2030.6L1962,2031.5L1963,2031L1964,2029.8L1969,2029.8L1970,2030.6L1971,2031.3L1975,2031.3L1976,2031.4L1977,2031.5L1982,2031.5L1983,2031.2L1984,2030.3L1987,2030.3L1988,2030.9L1989,2030.1L1992,2030.1L1993,2028.1L1995,2028.1L1996,2026.2L1996.6,2022.2L1997,2024.9L1998,2031.5L1999,2031.5L2000,2031.4L2001,2029.8L2002,2029.1L2008,2029.1L2009,2029.7L2010,2031.3L2011,2031.5L2014,2031.5L2015,2029.8L2016,2028.1L2020,2028.1L2021,2029L2022,2028.3L2025,2028.3L2026,2030.1L2027,2029.1L2028,2029.1L2029,2028.1L2030,2020.6L2030.1,2020.5L2031,2028.1L2034,2028.1L2035,2029.4L2036,2029.4L2037,2028.9L2042,2028.9L2043,2029.1L2046,2029.1L2047,2028.7L2049,2028.7L2050,2030.5L2051,2031.5L2052,2030.4L2053,2029.4L2057,2029.4L2058,2030.2L2059,2031.5L2064,2031.5L2065,2030.2L2066,2028.7L2072,2028.7L2073,2030.5L2074,2030.6L2075,2030.6L2076,2030.8L2077,2030.8L2078,2029.9L2079,2028L2084,2028L2085,2028.5L2086,2029.4L2088,2029.4L2089,2029.8L2090,2031.4L2091,2031.5L2103,2031.5L2104,2031.1L2105,2029.7L2110,2029.7L2111,2030.1L2112,2031.1L2115,2031.1L2116,2029.6L2117,2028.7L2122,2028.7L2123,2029.3L2124,2030.5L2125,2030.2L2127,2030.2L2128,2029.7L2129,2028.3L2131,2028.3L2132,2029.5L2133,2031.4L2134,2031L2135,2030.1L2140,2030.1L2141,2030.3L2142,2031.6L2143,2031.6L2144,2019.7L2145,1993.9L2145.7,1990.4L2146,1990.6L2147,2012.2L2148,2029L2149,2029L2150,2030.2L2151,2031.6L2155,2031.6L2156,2031.2L2157,2029.3L2158,2028.2L2165,2028.2L2166,2029.1L2169,2029.1L2170,2030.1L2171,2030.2L2174,2030.2L2175,2031L2176,2031.6L2187,2031.6L2188,2031L2195,2031L2196,2031.4L2197,2031.1L2198,2029.5L2199,2029.3L2202,2029.3L2203,2029.8L2204,2030.8L2208,2030.8L2209,2031.6L2212,2031.6L2213,2030.2L2214,2028.2L2215,2028.1L2216,2016.9L2216.2,2016.4L2217,2027.3L2218,2028.1L2220,2028.1L2221,2028.9L2222,2030.8L2223,2031L2225,2031L2226,2031.6L2226.0,2034.0Z" fill="#800080" stroke="#800080" stroke-width="7" stroke-linejoin="round" stroke-linecap="round"/>
<path d="M383.0,2316.5L383,2311.7L386,2311.7L387,2312.7L388,2314.3L389,2314.5L393,2314.5L394,2314.3L395,2314.2L397,2314.2L398,2313L399,2312.3L401,2312.3L402,2312.7L403,2307.8L403.6,2303.2L404,2306.1L405,2311.8L408,2311.8L409,2312.2L410,2313.7L411,2314.4L414,2314.4L415,2313.5L416,2313.3L417,2313.3L418,2313.7L419,2314.4L423,2314.4L424,2313.7L425,2313.1L429,2313.1L430,2313.6L431,2314.4L432,2314.4L433,2314.2L434,2313.9L435,2313.9L436,2313.7L437,2313.4L444,2313.4L445,2314.3L450,2314.3L451,2313.4L452,2312.7L454,2312.7L455,2313.8L456,2313.5L457,2312L458,2311.8L464,2311.8L465,2312.2L466,2313.7L467,2314.3L468,2314.3L469,2314.2L471,2314.2L472,2313.5L473,2312.5L477,2312.5L478,2312.8L479,2314.1L481,2314.1L482,2313.9L483,2312.2L484,2311.4L490,2311.4L491,2312.3L492,2314L493,2314.2L494,2313.6L495,2309.8L496,2305.1L497,2301.8L498,2301.4L500,2301.4L501,2302.1L502,2305.9L503,2310.6L504,2314L505,2314.1L510,2314.1L511,2313.8L512,2313L516,2313L517,2313.9L518,2314.1L520,2314.1L521,2313.9L522,2313.8L523,2312.5L524,2311.2L528,2311.2L529,2311.6L530,2312.5L531,2312.3L532,2312.2L533,2310.7L534,2310L537,2310L538,2307.6L539,2298.6L539.4,2298.5L540,2299.9L541,2303.4L543,2303.4L544,2307L545,2310.9L546,2309.4L547,2304.9L548,2302.8L549,2302.8L550,2304.5L551,2309L552,2310.8L553,2308.9L554,2308.2L561,2308.2L562,2309.4L564,2309.4L565,2310.7L570,2310.7L571,2306.9L572,2303.7L573,2303.2L575,2303.2L576,2303.6L577,2306L578,2306L579,2308.2L580,2309.9L581,2309.6L582,2306.1L583,2306L588,2306L589,2308.1L590,2308.1L591,2303.2L592,2302L593,2302L594,2302.8L595,2307.7L596,2309.5L597,2306L598,2305.8L599,2303.8L600,2298.5L600,2298.5L601,2302.9L602,2305.8L603,2308.5L604,2310.1L605,2310.4L608,2310.4L609,2310.3L610,2308.2L611,2305L618,2305L619,2307.8L620,2306.1L621,2301.2L626,2301.2L627,2303.2L628,2303.2L628.9,2287L629,2287.2L630,2301.4L635,2301.4L636,2303L637,2303L638,2302.6L639,2301.2L642,2301.2L643,2303.8L644,2308.9L645,2308.7L646,2308.4L647,2308.1L648,2307.9L649,2303.9L650,2301L651,2301L652,2284.2L652,2284.1L653,2301L655,2301L656,2295.9L657,2294L662,2294L663,2296.9L664,2303.6L665,2297.1L666,2290.9L670,2290.9L671,2291.7L672,2297.7L673,2304L674,2303.9L676,2303.9L677,2301.1L678,2249.7L678,2249.4L679,2296.1L680,2303.7L681,2303.7L682,2303.6L683,2303.6L684,2303.5L686,2303.5L687,2303.4L688,2303.4L689,2303.3L691,2303.3L692,2303.2L693,2303.2L694,2303.1L696,2303.1L697,2298.5L698,2291.2L704,2291.2L705,2237L705.2,2232.1L706,2279.5L707,2291.7L708,2289.4L711,2289.4L712,2294.2L713,2295.1L714,2293.4L715,2272.8L715.6,2269.6L716,2270L717,2293.4L718,2295.9L719,2284.9L720,2283.4L727,2283.4L728,2293.5L729,2302.1L730,2302.1L731,2299.8L733,2299.8L734,2302.1L735,2302.1L736,2292.4L737,2283.2L741,2283.2L741.6,2245.4L742,2265.2L743,2283.2L744,2283.2L745,2286L746,2296.4L747,2302.1L749,2302.1L750,2302L751,2294.2L752,2293L754,2293L755,2287.2L761,2287.2L762,2287.6L763,2297.4L764,2302.1L767,2302.1L768,2296.5L769,2290.5L771,2290.5L772,2295.9L773,2292.5L774,2283.2L775,2273.4L776,2264.5L777,2258.1L778,2255.3L779,2255.2L786,2255.2L787,2257.4L788,2263.5L789,2272.1L790,2281.8L791,2291.3L792,2299.4L793,2302.1L796,2302.1L797,2299.3L799,2299.3L800,2296.9L801,2285L802,2280.6L808,2280.6L809,2280.8L810,2292.8L811,2298.8L812,2289.6L813,2289.1L814,2289.1L815,2287.5L816,2287L819,2287L819.6,2282.8L823,2282.8L824,2283.6L825,2283.3L831,2283.3L832,2286.5L833,2297.6L834,2297.5L840,2297.5L841,2298.5L845,2298.5L846,2290.2L847,2183.2L847.4,2157L848,2222.7L849,2282.8L851,2282.8L852,2284.3L853,2295.6L854,2301.3L855,2300.5L856,2293.2L862,2293.2L863,2294L864,2301.8L865,2302.1L867,2302.1L868,2285.7L868.8,2281.2L869,2281.2L870,2296.5L871,2302.1L876,2302.1L877,2296.3L878,2284.7L879,2281.8L881,2281.8L882,2286.2L883,2281.8L888,2281.8L889,2291.4L890,2281L891,2281L892,2278L893,2268.9L894,2268.5L896,2268.5L897,2272.1L898,2285.2L899,2293.1L901,2293.1L902,2297.8L903,2302.1L906,2302.1L907,2301.2L908,2293.9L909,2293.9L910,2292.3L911,2290.9L913,2290.9L914,2299.4L915,2302.1L916,2220.4L916.7,2128.1L917,2147.7L918,2295.7L919,2302.1L920,2264.9L920.8,2206.1L921,2214.4L922,2302.1L923,2302.1L924,2297.8L925,2293.2L928,2293.2L929,2297.9L930,2294.4L931,2289.8L935,2289.8L936,2286.2L939,2286.2L940,2296.3L941,2300.4L943,2300.4L944,2293.2L945,2293L946,2283.4L946.8,2278.3L947,2278.3L948,2290L953,2290L954,2297L955,2300.1L956,2296.8L960,2296.8L961,2302.1L966,2302.1L967,2293.2L968,2287.9L970,2287.9L971,2296.6L972,2302.1L973,2296.3L974,2293.6L976,2293.6L977,2278.1L978,2220.8L978.5,2216.5L979,2218.5L980,2272.9L981,2290.6L982,2284.3L983,2281.3L986,2281.3L987,2291.4L988,2295.8L992,2295.8L993,2288.6L994,2287.2L995,2287.2L995.9,2259.8L996,2261.6L997,2301.6L1001,2301.6L1002,2297L1003,2285.2L1004,2281.2L1005,2281.2L1006,2288.9L1007,2299.2L1010,2299.2L1011,2299.8L1012,2290L1013,2281.2L1019,2281.2L1020,2292.3L1021,2293.8L1022,2282.4L1023,2282.3L1026,2282.3L1027,2263.9L1027.7,2222.3L1028,2235.5L1029,2290.6L1030,2295L1031,2295L1032,2296.7L1033,2253.6L1033.4,2235L1034,2262.7L1035,2291.5L1036,2291.5L1037,2298.7L1038,2302.1L1048,2302.1L1049,2301.9L1050,2301.9L1051,2269.4L1051.9,2166.8L1052,2167.7L1053,2283.5L1054,2291.3L1057,2291.3L1058,2292.5L1059,2292.9L1061,2292.9L1062,2297L1063,2298.7L1065,2298.7L1066,2297.3L1067,2293L1069,2293L1070,2267.6L1071,2249.4L1072,2267.4L1073,2298.3L1074,2298.9L1075,2288L1076,2283.8L1081,2283.8L1082,2289.3L1083,2294.3L1084,2268.4L1085,2209.3L1085.5,2207.2L1086,2212.2L1087,2275L1088,2294.3L1089,2294.3L1090,2297.5L1091,2302.1L1094,2302.1L1095,2299.2L1096,2290.5L1098,2290.5L1099,2279.3L1099.9,2269.6L1100,2269.6L1101,2285.4L1102,2291.7L1104,2291.7L1105,2298.4L1106,2300.5L1109,2300.5L1110,2302.1L1116,2302.1L1117,2291.5L1118,2283.3L1122,2283.3L1123,2256.9L1123,2256.9L1124,2283.3L1125,2285.8L1126,2292.6L1132,2292.6L1133,2294.1L1134,2288.8L1135,2281.4L1136,2281.4L1137,2267.8L1137.5,2266.8L1138,2268.9L1139,2281.4L1141,2281.4L1142,2282.1L1143,2282.5L1144,2282.5L1145,2291.9L1146,2302.1L1147,2295.2L1148,2294.5L1152,2294.5L1153,2297.6L1154,2288.9L1154.8,2284.1L1155,2284.1L1156,2293.8L1157,2293.8L1158,2296.9L1159,2302.2L1163,2302.2L1164,2300L1165,2294.1L1171,2294.1L1172,2297.3L1173,2299.6L1174,2299.6L1175,2295.6L1176,2285.4L1182,2285.4L1183,2290L1184,2292.2L1185,2292.2L1186,2254.4L1186.6,2239.6L1187,2247.2L1188,2300.1L1189,2293.2L1190,2288.4L1191,2288.4L1192,2287.5L1193,2284.3L1195,2284.3L1196,2293.7L1197,2284.7L1202,2284.7L1203,2283.6L1207,2283.6L1208,2284.3L1209,2295.3L1210,2290.3L1211,2285.7L1217,2285.7L1218,2293.2L1219,2288.2L1220,2285.4L1222,2285.4L1223,2286.2L1224,2293.3L1225,2293.1L1230,2293.1L1231,2298.4L1232,2300.4L1232.8,2278.3L1233,2280.2L1234,2295.2L1238,2295.2L1239,2296.1L1240,2300.2L1242,2300.2L1243,2303.1L1244,2301.8L1245,2301.8L1246,2292.6L1247,2274.3L1247.2,2274.3L1248,2279.6L1249,2301.8L1250,2301.8L1251,2303.2L1252,2299.5L1253,2297.5L1257,2297.5L1258,2301.1L1259,2303.3L1267,2303.3L1268,2303.4L1269,2301.4L1270,2286L1270.4,2285.8L1271,2288.1L1272,2303.4L1275,2303.4L1276,2299.5L1279,2299.5L1280,2300.8L1281,2292.9L1282,2291L1286,2291L1287,2292.7L1288,2301.2L1289,2303L1291,2303L1292,2301L1293,2298.4L1296,2298.4L1297,2297.1L1298,2289.1L1299,2287L1301,2287L1302,2287.3L1303,2293L1304,2293.4L1305,2288.1L1306,2288.1L1307,2292.3L1308,2301.7L1309,2303.8L1310,2303.6L1311,2295.2L1312,2291.2L1315,2291.2L1316,2289.4L1321,2289.4L1322,2295L1323,2303.9L1327,2303.9L1328,2293.6L1329,2197.9L1329.1,2195.7L1330,2273.4L1331,2288.2L1334,2288.2L1335,2288.8L1336,2287.5L1337,2266.6L1337.8,2258.1L1338,2258.1L1339,2282L1340,2298.5L1341,2303.3L1342,2301.1L1346,2301.1L1347,2304.1L1350,2304.1L1351,2304.2L1352,2298.7L1353,2298.6L1354,2298.6L1355,2297.4L1359,2297.4L1360,2294.3L1364,2294.3L1365,2299.3L1366,2304.3L1370,2304.3L1371,2267.4L1372,2095.7L1372.5,2066.2L1373,2108.5L1374,2269.1L1375,2222.6L1375.3,2222.3L1376,2230L1377,2286L1378,2301.9L1379,2304.4L1384,2304.4L1385,2304.5L1388,2304.5L1389,2301.3L1390,2292.5L1391,2290L1394,2290L1395,2294.8L1396,2303.7L1397,2304.6L1398,2296.6L1399,2290.5L1406,2290.5L1407,2294.4L1408,2303L1409,2304.7L1414,2304.7L1415,2301.2L1416,2292.1L1417,2289L1424,2289L1425,2293.5L1426,2288L1431,2288L1432,2294.7L1433,2298.2L1439,2298.2L1440,2301.6L1441,2299.7L1442,2298.5L1446,2298.5L1447,2302.3L1448,2305L1451,2305L1452,2305.1L1457,2305.1L1458,2303L1459,2295.7L1460,2294.8L1465,2294.8L1466,2298.8L1467,2290.3L1468,2289.1L1471,2289.1L1472,2296.3L1473,2305.2L1474,2303L1475,2297L1482,2297L1483,2297.8L1484,2299.2L1488,2299.2L1489,2303.1L1492,2303.1L1493,2305.8L1494,2308.1L1495,2308.3L1496,2308.5L1497,2306.5L1498,2303.2L1499,2293.1L1499.6,2291.6L1500,2291.9L1501,2303.2L1503,2303.2L1504,2306.6L1505,2305.3L1509,2305.3L1510,2302L1511,2301.3L1515,2301.3L1516,2304.7L1517,2305.3L1518,2305.3L1519,2307.6L1520,2309.4L1528,2309.4L1529,2309.2L1530,2308.5L1531,2308.5L1532,2306.1L1533,2302.5L1539,2302.5L1540,2285.9L1540,2285.8L1541,2307.5L1542,2307.8L1544,2307.8L1545,2308.2L1546,2309.5L1547,2307.9L1548,2307.8L1549,2307.8L1550,2304.9L1551,2299.8L1556,2299.8L1557,2300.3L1558,2304.9L1563,2304.9L1564,2305.3L1565,2309.2L1566,2309.6L1567,2306.6L1568,2294.5L1569,2279.9L1570,2270.3L1571,2269.6L1573,2269.6L1574,2272.6L1575,2284.9L1576,2299.4L1577,2303.8L1578,2301.7L1582,2301.7L1583,2244.5L1583.4,2229.2L1584,2264.1L1585,2309.6L1587,2309.6L1588,2309.7L1594,2309.7L1595,2309.3L1596,2304.2L1597,2301.4L1601,2301.4L1602,2301.7L1603,2306.7L1604,2305.1L1605,2302L1607,2302L1608,2306.3L1609,2309.7L1612,2309.7L1613,2309.8L1615,2309.8L1616,2306.8L1617,2306.7L1618,2290L1618,2289.9L1619,2307.7L1620,2309.8L1623,2309.8L1624,2307.3L1625,2304.3L1626,2304.3L1627,2303.8L1628,2301.7L1635,2301.7L1636,2305.9L1639,2305.9L1640,2307.5L1641,2309.8L1643,2309.8L1644,2307.5L1645,2305.3L1648,2305.3L1649,2306.3L1650,2309.7L1655,2309.7L1656,2309.8L1657,2309.8L1658,2309.7L1659,2305.2L1660,2303L1662,2303L1663,2303.4L1664,2307.9L1665,2310L1667,2310L1668,2309.9L1669,2301.3L1670,2290.2L1671,2282.2L1672,2281.2L1674,2281.2L1675,2282.7L1676,2291.3L1677,2302.3L1678,2304.9L1679,2302.5L1683,2302.5L1684,2306.4L1685,2310L1687,2310L1688,2305.5L1689,2301.5L1691,2301.5L1692,2302.7L1695,2302.7L1696,2305.5L1697,2310.1L1698,2305.9L1699,2302.9L1701,2302.9L1701.8,2292.8L1702,2293.5L1703,2305.2L1704,2309.7L1705,2310.7L1706,2310.8L1707,2310.9L1708,2311.1L1709,2311.2L1710,2311.3L1711,2311.4L1712,2311.5L1713,2311.4L1716,2311.4L1717,2312.1L1718,2311.3L1719,2287.1L1719.2,2285.8L1720,2304L1721,2311.3L1722,2311.3L1723,2312.5L1726,2312.5L1727,2312.3L1728,2312.3L1729,2311.1L1730,2309.1L1734,2309.1L1735,2310.4L1736,2312.5L1747,2312.5L1748,2312.3L1749,2311.7L1752,2311.7L1753,2312.5L1754,2310.1L1755,2308.1L1759,2308.1L1760,2309.8L1761,2312.5L1775,2312.5L1776,2311.3L1777,2308.3L1778,2307.4L1779,2307.4L1780,2307.7L1781,2310.7L1782,2312.5L1783,2312.5L1784,2312.6L1791,2312.6L1792,2312.4L1793,2310.7L1794,2308.8L1799,2308.8L1800,2310.4L1801,2312.6L1802,2312.6L1803,2312.5L1804,2309.6L1805,2307.8L1810,2307.8L1811,2309.4L1812,2312.3L1813,2312.6L1815,2312.6L1816,2311.3L1817,2310.3L1823,2310.3L1824,2310.6L1825,2312.6L1835,2312.6L1836,2311.4L1837,2310.4L1841,2310.4L1842,2310.5L1843,2312.5L1846,2312.5L1847,2311.8L1848,2311.5L1853,2311.5L1854,2312.3L1855,2312.4L1858,2312.4L1859,2312.6L1860,2311.3L1861,2309.1L1866,2309.1L1867,2310.1L1868,2312.6L1871,2312.6L1872,2311.6L1873,2309.8L1875,2309.8L1876,2310.5L1877,2312.6L1878,2312.6L1879,2311.9L1880,2311L1882,2311L1883,2308.3L1883.9,2293.9L1884,2294.4L1885,2311L1886,2311L1887,2312.6L1902,2312.6L1903,2312.1L1904,2311.4L1906,2311.4L1907,2309.8L1917,2309.8L1918,2311.2L1919,2312.7L1920,2311.4L1923,2311.4L1924,2310.3L1925,2307.5L1927,2307.5L1928,2310.1L1929,2312.7L1930,2312.7L1931,2311L1932,2309.7L1934,2309.7L1935,2310.7L1936,2312.7L1945,2312.7L1946,2312.2L1947,2311.5L1949,2311.5L1950,2299.9L1950.3,2297.4L1951,2306L1952,2310.2L1953,2309.8L1955,2309.8L1956,2312L1957,2312.7L1959,2312.7L1960,2310.6L1961,2307.4L1962,2307L1967,2307L1968,2309L1969,2312.1L1970,2312.7L1973,2312.7L1974,2311.6L1975,2310.4L1977,2310.4L1978,2311.4L1979,2312.7L1980,2311.5L1981,2309.5L1986,2309.5L1987,2311.3L1988,2312.7L1996,2312.7L1997,2312.6L1998,2310L1999,2308.6L2005,2308.6L2006,2307.5L2007,2307.5L2008,2308.5L2009,2311.5L2010,2312.6L2012,2312.6L2013,2312.7L2014,2312.6L2018,2312.6L2019,2312.7L2033,2312.7L2034,2310.3L2035,2309L2041,2309L2042,2309.4L2043,2311.9L2044,2312.8L2045,2311.4L2046,2309.6L2050,2309.6L2051,2309.8L2052,2311.5L2056,2311.5L2057,2312.7L2058,2312.8L2059,2312.4L2060,2309.9L2061,2309.1L2065,2309.1L2066,2310.2L2067,2310.8L2071,2310.8L2072,2312.2L2073,2312.8L2082,2312.8L2083,2312.7L2084,2311.4L2085,2310.2L2091,2310.2L2092,2311.5L2093,2312.8L2096,2312.8L2097,2312.5L2098,2312.3L2099,2310.3L2106,2310.3L2107,2310.8L2108,2311.5L2109,2310L2114,2310L2115,2310.5L2116,2311.2L2117,2311.7L2118,2312.8L2122,2312.8L2123,2312.3L2124,2301.2L2124.8,2277.2L2125,2278.4L2126,2309.9L2127,2311.2L2128,2308.5L2130,2308.5L2131,2309.5L2132,2312.1L2133,2312.8L2134,2312.8L2135,2311.9L2136,2310L2140,2310L2141,2309.9L2142,2308.7L2148,2308.7L2149,2310.5L2150,2311.1L2151,2309.8L2155,2309.8L2156,2310.5L2157,2312.8L2162,2312.8L2163,2312.9L2164,2312.9L2165,2312L2166,2310.5L2170,2310.5L2171,2299L2171.7,2285.8L2172,2290.4L2173,2312.9L2177,2312.9L2178,2311.7L2183,2311.7L2184,2312.6L2185,2312.9L2200,2312.9L2201,2311.3L2202,2311L2204,2311L2205,2308.4L2206,2307.7L2208,2307.7L2209,2309.9L2210,2312.8L2211,2312.9L2226,2312.9L2226.0,2316.5Z" fill="#ff0000" stroke="#ff0000" stroke-width="7" stroke-linejoin="round" stroke-linecap="round"/>
<path d="M383.0,2607.0L383,2606.4L398,2606.4L399,2606.3L405,2606.3L406,2606.1L407,2605.6L412,2605.6L413,2606L414,2606.4L447,2606.4L448,2606.2L449,2606.1L451,2606.1L452,2606.4L458,2606.4L459,2605.9L460,2605.6L464,2605.6L465,2605.8L466,2606L468,2606L469,2606.3L470,2606.4L471,2606.4L472,2604.3L473,2599.7L474,2594.3L475,2592.4L476,2592.4L477,2592.5L478,2596.3L479,2601.9L480,2605.4L481,2605.5L487,2605.5L488,2605.6L489,2605.9L490,2606.1L495,2606.1L496,2606.4L501,2606.4L502,2606.3L504,2606.3L505,2606.2L506,2606.1L513,2606.1L514,2606.3L515,2606.1L517,2606.1L518,2606.2L519,2606.4L523,2606.4L524,2606.3L527,2606.3L528,2604.1L529,2596.8L530,2583.4L531,2571.8L532,2570.5L533,2570.5L534,2572.8L535,2585.4L536,2598.2L537,2604.7L538,2605.7L541,2605.7L542,2605.9L543,2606.4L552,2606.4L553,2606.1L554,2605.7L555,2605.6L557,2605.6L558,2606L559,2606.4L566,2606.4L567,2604.1L568,2597.7L569,2588.1L570,2582.1L571,2582L572,2582L573,2585.6L574,2595.1L575,2602.7L576,2605.9L580,2605.9L581,2606L582,2605.7L586,2605.7L587,2605.8L590,2605.8L591,2604.1L592,2600.7L593,2598.3L594,2598.2L595,2598.2L596,2599.2L597,2602.4L598,2605.3L599,2605.8L600,2605.8L601,2605.9L602,2606.3L603,2606.4L607,2606.4L608,2605.9L609,2605.6L613,2605.6L614,2605.8L615,2606.3L616,2606.4L619,2606.4L620,2606.3L621,2606.2L623,2606.2L624,2606.1L625,2605.6L630,2605.6L631,2605.9L634,2605.9L635,2605.7L636,2602.5L637,2597L638,2592.8L639,2592.4L640,2592.4L641,2593.7L642,2599L643,2603.9L644,2605.7L647,2605.7L648,2605.9L652,2605.9L653,2606L654,2606L655,2605.6L656,2604.9L661,2604.9L662,2605.1L663,2605L664,2604.9L665,2604.8L666,2604.6L667,2604.5L668,2604.4L669,2602.5L670,2597.7L671,2591.3L672,2585.2L673,2582.1L674,2582L677,2582L678,2583.8L679,2589.2L680,2595.7L681,2601.1L682,2600.1L689,2600.1L690,2600.8L691,2603.1L692,2604.2L701,2604.2L702,2600.3L703,2593L704,2588L705,2587.8L706,2587.8L707,2590.1L708,2597.3L709,2595.4L710,2576.4L711,2555.1L712,2549.1L713,2549.1L714,2549.9L715,2566L716,2588L717,2601.3L718,2604.2L722,2604.2L723,2603.8L724,2602.8L726,2602.8L727,2600.5L728,2594.2L729,2590.7L731,2590.7L732,2593.5L733,2599.7L734,2600.2L737,2600.2L738,2600.5L742,2600.5L743,2600.2L744,2600.2L745,2593.6L746,2587.3L747,2586.7L748,2586.7L749,2588.1L750,2595.3L751,2602.1L752,2604.2L758,2604.2L759,2603.8L760,2602.7L764,2602.7L765,2598.7L766,2593.6L767,2592.4L768,2592.4L769,2592.8L770,2597.3L771,2602.7L772,2604.2L773,2602.5L774,2602L776,2602L777,2603L778,2603.5L779,2602.6L781,2602.6L782,2603.2L783,2598.6L784,2590L785,2585L786,2584.9L787,2584.9L788,2588.3L789,2596.7L790,2601.9L795,2601.9L796,2602.9L797,2602.8L798,2602.4L799,2599.1L800,2597.2L801,2597.2L802,2575L803,2537.9L804,2531.2L804,2531.2L805,2536.5L806,2572.9L807,2597.8L808,2600.6L809,2600.4L810,2600.2L814,2600.2L815,2600L816,2596.1L817,2591.7L818,2587.8L819,2585.3L820,2584.9L825,2584.9L826,2585.3L827,2587.6L828,2591.5L829,2595.9L830,2598.9L831,2594.2L832,2592.2L837,2592.2L838,2594L839,2592.2L843,2592.2L844,2594.1L851,2594.1L852,2597.6L853,2593.3L854,2587.9L855,2585L856,2584.9L859,2584.9L860,2586.4L861,2591.1L862,2596.7L863,2599L864,2600.2L865,2599L866,2595.5L872,2595.5L873,2597.1L874,2600.1L875,2597.5L876,2579.1L877,2569.3L877.4,2569.3L878,2569.4L879,2582.3L880,2599.6L881,2598.2L882,2592.9L883,2590.9L890,2590.9L891,2594.4L892,2599.8L893,2600.1L894,2599L895,2599L896,2585.3L897,2568.9L898,2563.5L899,2563.5L900,2563.9L901,2575L902,2591.7L903,2597.4L906,2597.4L907,2597.7L908,2600.1L909,2596L910,2593.8L916,2593.8L917,2594.5L918,2597.9L919,2597.9L920,2599.5L921,2600.1L922,2599.3L923,2595.5L924,2595.4L928,2595.4L929,2598.3L930,2596.9L931,2589.8L932,2582.9L933,2579.3L934,2579.2L937,2579.2L938,2580.9L939,2586.8L940,2594.1L941,2600.1L945,2600.1L946,2600L948,2600L949,2600.1L950,2599.8L951,2594.2L952,2590.3L953,2590.3L954,2579.3L955,2569.3L956,2569.3L957,2582.1L958,2598.5L959,2595.4L961,2595.4L962,2595.5L963,2594.3L964,2592.4L966,2592.4L967,2589.8L968,2575.9L969,2570.5L970,2570.5L971,2570.6L972,2579L973,2593.2L974,2600.1L981,2600.1L982,2596.1L983,2577.3L984,2569.3L984.3,2569.3L985,2569.6L986,2584.2L987,2600L999,2600L1000,2599.6L1001,2594.7L1002,2592.2L1005,2592.2L1006,2595.2L1007,2599.9L1008,2600L1009,2596.4L1010,2591L1011,2590.7L1012,2590.7L1013,2590.2L1014,2573.4L1015,2563.6L1016,2563.5L1017,2563.5L1018,2570.3L1019,2586.9L1020,2599.9L1021,2600L1026,2600L1027,2599.9L1028,2595.8L1029,2594.6L1040,2594.6L1041,2595.9L1042,2597L1043,2597L1044,2598.6L1045,2600L1047,2600L1048,2599.3L1049,2577.3L1050,2554.3L1050.8,2553.1L1051,2553.1L1052,2562.1L1053,2589.1L1054,2600L1062,2600L1063,2599L1065,2599L1066,2597.7L1069,2597.7L1070,2597.5L1071,2580.1L1072,2558L1073,2549.1L1074,2549.1L1075,2549.2L1076,2562.3L1077,2584.7L1078,2599.8L1079,2600L1081,2600L1082,2590.3L1083,2568.2L1084,2548.6L1085,2546.2L1086,2546.2L1087,2549.9L1088,2570.6L1089,2560.7L1090,2490.1L1091,2466.5L1091.2,2466.5L1092,2469.4L1093,2529.2L1094,2586.8L1095,2592.9L1096,2592.9L1097,2594.8L1098,2599.5L1099,2596.6L1100,2591L1101,2590.4L1104,2590.4L1105,2593.3L1106,2595.4L1107,2582.7L1108,2570.5L1109,2570.5L1110,2580.3L1111,2589.7L1114,2589.7L1115,2591.3L1116,2597L1117,2599.9L1118,2599.9L1119,2599.4L1120,2584.4L1121,2563.6L1122,2553.1L1124,2553.1L1125,2563.2L1126,2584L1127,2593.3L1128,2591.3L1133,2591.3L1134,2592.1L1135,2594.1L1136,2568.2L1137,2553.1L1138,2553.1L1139,2570.6L1140,2593.3L1144,2593.3L1145,2595.8L1148,2595.8L1149,2598.9L1150,2599.9L1151,2599.9L1152,2595.9L1153,2587.6L1154,2584.9L1155,2584.9L1156,2585.1L1157,2590.8L1158,2597.5L1159,2597.5L1160,2594.8L1161,2594.6L1165,2594.6L1166,2594.9L1167,2594.5L1169,2594.5L1170,2584.4L1171,2577.5L1172,2577.4L1173,2577.4L1174,2581.8L1175,2593L1176,2594.6L1177,2594.7L1178,2598.8L1179,2599.9L1181,2599.9L1182,2599.1L1185,2599.1L1186,2595.9L1187,2581L1188,2567.6L1189,2565.9L1190,2565.9L1191,2568.2L1192,2582.1L1193,2589.5L1194,2589.5L1195,2590.7L1196,2596.5L1197,2599.4L1198,2598.5L1201,2598.5L1202,2599.9L1203,2597.5L1204,2594.5L1207,2594.5L1208,2589.6L1209,2587.8L1210,2587.8L1211,2588.2L1212,2593.7L1213,2599.9L1214,2599.9L1215,2598.5L1216,2593.7L1217,2592.6L1221,2592.6L1222,2593.1L1223,2597.9L1224,2599.8L1226,2599.8L1227,2594.9L1228,2591.2L1234,2591.2L1235,2592.8L1236,2597.5L1237,2599.8L1238,2599.8L1239,2598.4L1241,2598.4L1242,2595.4L1243,2593.8L1244,2593.8L1245,2591.5L1246,2590.7L1247,2590.7L1248,2582.8L1249,2575.2L1250,2575.1L1251,2575.1L1252,2579.7L1253,2591.8L1254,2592.4L1255,2596.3L1256,2595.5L1257,2593.6L1264,2593.6L1265,2596.9L1266,2599.7L1267,2599.8L1268,2592.1L1269,2581.5L1270,2570.9L1271,2565L1272,2564.7L1275,2564.7L1276,2567L1277,2575.8L1278,2586.9L1279,2596.4L1280,2599.8L1281,2599.6L1282,2599.3L1283,2597.5L1285,2597.5L1286,2598.8L1287,2598.7L1288,2598.5L1289,2598.4L1290,2598.2L1291,2598L1292,2597.9L1293,2597.7L1294,2597.6L1295,2597.4L1296,2597.2L1297,2597.1L1298,2596.9L1299,2596.8L1300,2596.6L1307,2596.6L1308,2595.8L1309,2588L1310,2583.8L1312,2583.8L1313,2573.7L1314,2570.5L1315,2570.5L1316,2571.2L1317,2581.9L1318,2595.6L1319,2596.6L1328,2596.6L1329,2588.7L1330,2571.9L1331,2563.5L1333,2563.5L1334,2571.7L1335,2588.5L1336,2589.3L1338,2589.3L1339,2583.4L1341,2583.4L1342,2588.7L1343,2589.1L1347,2589.1L1348,2588.3L1349,2580.6L1350,2576.5L1351,2576.3L1354,2576.3L1355,2578.1L1356,2584.5L1357,2592.6L1358,2596.6L1359,2596.6L1360,2594.2L1361,2590.2L1365,2590.2L1366,2586.6L1367,2586.6L1368,2586.9L1369,2593.7L1370,2545.3L1371,2420.6L1372,2348L1373,2348L1374,2431.8L1375,2552.6L1376,2594.1L1378,2594.1L1379,2595L1380,2599L1381,2599.2L1382,2599.5L1383,2599.7L1384,2600L1385,2600.2L1386,2600.4L1387,2600.7L1388,2600.9L1389,2599.9L1390,2599.9L1391,2600.8L1392,2601.4L1398,2601.4L1399,2601.2L1400,2597.5L1401,2595.8L1403,2595.8L1404,2597.3L1405,2601.1L1406,2601L1409,2601L1410,2595.6L1411,2586L1412,2582L1413,2582L1414,2582.1L1415,2587.6L1416,2595.3L1417,2599.4L1418,2601.5L1428,2601.5L1429,2597.7L1430,2594.2L1431,2592.5L1432,2592.4L1435,2592.4L1436,2593.5L1437,2596.7L1438,2600.5L1439,2599.3L1440,2596.7L1444,2596.7L1445,2595.6L1446,2594.5L1452,2594.5L1453,2595.2L1454,2599.3L1455,2601.6L1456,2601.7L1461,2601.7L1462,2600.5L1463,2599.9L1468,2599.9L1469,2599.6L1470,2595.2L1471,2593.8L1472,2593.8L1473,2593.6L1474,2593.6L1475,2594L1476,2598.2L1477,2601.7L1478,2601.7L1479,2601.4L1483,2601.4L1484,2600.2L1485,2598.8L1488,2598.8L1489,2599.3L1490,2596.3L1492,2596.3L1493,2596.2L1495,2596.2L1496,2597.1L1497,2600.7L1498,2601.6L1499,2601.8L1506,2601.8L1507,2600.4L1511,2600.4L1512,2599.3L1513,2597.7L1514,2597.7L1515,2598.3L1516,2600.9L1517,2596.9L1518,2595L1519,2585.1L1520,2572.7L1521,2570.5L1522,2570.5L1523,2571.9L1524,2583.7L1525,2597L1526,2601.9L1529,2601.9L1530,2600L1531,2597.6L1536,2597.6L1537,2598.3L1538,2598.1L1539,2583.1L1540,2565.6L1541,2560.1L1542,2560.1L1543,2560.5L1544,2572.9L1545,2590.9L1546,2601.7L1549,2601.7L1550,2602L1552,2602L1553,2601.7L1555,2601.7L1556,2599.7L1557,2597.9L1561,2597.9L1562,2598.2L1563,2598.2L1564,2594.5L1565,2580.9L1566,2571.9L1567,2571.6L1568,2571.6L1569,2576.1L1570,2589.3L1571,2600.5L1572,2599.6L1573,2599.2L1575,2599.2L1576,2596L1577,2590.7L1578,2587.2L1579,2586.7L1582,2586.7L1583,2587.2L1584,2590.8L1585,2596.1L1586,2598.3L1587,2596.8L1594,2596.8L1595,2598.9L1596,2602.2L1597,2601.4L1599,2601.4L1600,2595L1601,2577L1602,2558.7L1603,2554.9L1604,2554.9L1605,2556.5L1606,2572.5L1607,2591.9L1608,2601.6L1609,2601.8L1610,2601L1611,2600.7L1612,2600.7L1613,2601.6L1614,2603.7L1615,2604.3L1616,2604.4L1617,2604.6L1618,2604.7L1619,2603.9L1624,2603.9L1625,2604.3L1626,2604.1L1629,2604.1L1630,2603.2L1631,2602.4L1635,2602.4L1636,2602.2L1642,2602.2L1643,2594.4L1644,2585.1L1645,2582L1646,2582L1647,2582.2L1648,2588.7L1649,2598.3L1650,2603L1651,2604.5L1652,2605L1653,2605L1654,2603.7L1655,2602.7L1661,2602.7L1662,2603.7L1663,2605L1666,2605L1667,2604.4L1668,2603.8L1673,2603.8L1674,2604.3L1675,2605L1677,2605L1678,2603.3L1679,2597.7L1680,2591.9L1681,2590.7L1682,2590.7L1683,2591.2L1684,2596.2L1685,2602.2L1686,2605L1688,2605L1689,2604.4L1692,2604.4L1693,2604.9L1694,2604.3L1695,2602.8L1696,2594.7L1697,2584L1698,2579.2L1700,2579.2L1701,2584.9L1702,2595.7L1703,2603.3L1704,2605L1716,2605L1717,2604.1L1718,2604L1719,2604L1720,2603.5L1721,2603.3L1725,2603.3L1726,2603.4L1730,2603.4L1731,2603.6L1732,2604.8L1733,2605L1738,2605L1739,2603.1L1740,2598.9L1741,2593.2L1742,2587.8L1743,2585L1744,2584.9L1747,2584.9L1748,2586.4L1749,2591.1L1750,2596.9L1751,2601.7L1752,2604L1753,2604L1754,2604.5L1755,2605L1761,2605L1762,2604.5L1763,2601.2L1764,2598.5L1765,2598.2L1766,2598.2L1767,2598.8L1768,2601.9L1769,2604.9L1770,2605L1786,2605L1787,2604.6L1788,2603.2L1789,2602.6L1794,2602.6L1795,2602.2L1796,2602L1797,2602L1798,2602.6L1799,2604.2L1800,2605L1801,2605.1L1802,2605.1L1803,2605.2L1804,2605.3L1805,2605.1L1809,2605.1L1810,2605L1814,2605L1815,2605.4L1816,2606.1L1817,2606.2L1818,2606.2L1819,2606.3L1820,2606.4L1829,2606.4L1830,2606.1L1831,2603.3L1832,2597.1L1833,2590L1834,2587.8L1835,2587.8L1836,2588L1837,2593.2L1838,2600.5L1839,2605L1840,2606.4L1841,2606.4L1842,2606.3L1843,2606.1L1845,2606.1L1846,2605.9L1851,2605.9L1852,2605.6L1857,2605.6L1858,2605.5L1862,2605.5L1863,2605.9L1864,2606.2L1869,2606.2L1870,2606.3L1871,2606.3L1872,2606.2L1873,2606L1875,2606L1876,2606.1L1877,2606.4L1882,2606.4L1883,2606.3L1884,2606L1886,2606L1887,2605.9L1891,2605.9L1892,2605.7L1893,2600.8L1894,2587.3L1895,2566.6L1896,2553.4L1897,2553.1L1898,2553.1L1899,2560.5L1900,2580.9L1901,2597.5L1902,2604.8L1903,2605.8L1904,2606L1906,2606L1907,2605.9L1908,2605.9L1909,2606.1L1910,2606.4L1921,2606.4L1922,2605.9L1923,2605.5L1929,2605.5L1930,2605.7L1931,2606.2L1932,2606.4L1946,2606.4L1947,2606.2L1948,2606L1954,2606L1955,2606.1L1956,2605.8L1957,2605.7L1960,2605.7L1961,2605.5L1965,2605.5L1966,2606L1967,2606.4L1968,2606.2L1973,2606.2L1974,2606.4L1977,2606.4L1978,2606.2L1979,2605.7L1980,2605.5L1984,2605.5L1985,2605.6L1991,2605.6L1992,2605.7L1993,2606.2L1994,2606.4L1995,2606.4L1996,2606.3L1998,2606.3L1999,2606.4L2000,2606L2001,2605.7L2005,2605.7L2006,2605.9L2009,2605.9L2010,2603.9L2011,2598.1L2012,2590.8L2013,2587.8L2014,2587.8L2015,2587.9L2016,2592.2L2017,2599.6L2018,2604.6L2019,2605.5L2021,2605.5L2022,2605.6L2023,2606.1L2024,2606.1L2025,2606L2033,2606L2034,2606.1L2037,2606.1L2038,2605.9L2039,2605.7L2042,2605.7L2043,2605.6L2048,2605.6L2049,2605.8L2050,2606L2052,2606L2053,2606.2L2055,2606.2L2056,2606.4L2057,2606.1L2065,2606.1L2066,2606.3L2067,2606.1L2069,2606.1L2070,2606.3L2071,2606.3L2072,2605.8L2073,2605.6L2075,2605.6L2076,2605.7L2077,2606.2L2079,2606.2L2080,2606.1L2081,2605.6L2087,2605.6L2088,2606.1L2089,2606.3L2090,2606.2L2091,2606.2L2092,2606.3L2095,2606.3L2096,2606.4L2101,2606.4L2102,2606.1L2103,2606L2107,2606L2108,2606.1L2109,2605.7L2110,2605.6L2115,2605.6L2116,2606L2117,2606.1L2121,2606.1L2122,2606.2L2123,2606.4L2135,2606.4L2136,2606.2L2137,2605.8L2138,2605.7L2143,2605.7L2144,2606.1L2145,2606L2148,2606L2149,2606.2L2150,2606.3L2151,2606.2L2152,2606.2L2153,2606L2154,2605.7L2160,2605.7L2161,2605.9L2162,2606.1L2166,2606.1L2167,2606.4L2177,2606.4L2178,2606.3L2181,2606.3L2182,2606.4L2191,2606.4L2192,2606.3L2193,2606.1L2197,2606.1L2198,2606.2L2201,2606.2L2202,2606.4L2205,2606.4L2206,2606.3L2207,2606L2208,2605.9L2210,2605.9L2211,2606.1L2212,2606.1L2213,2605.6L2214,2605.5L2220,2605.5L2221,2605.7L2222,2606.1L2223,2605.9L2226,2605.9L2226.0,2607.0Z" fill="#008200" stroke="#008200" stroke-width="4" stroke-linejoin="round" stroke-linecap="round"/>
<path d="M383.0,2891.0L383,2889.3L386,2889.3L387,2888.7L388,2887.7L391,2887.7L392,2888.7L393,2889.4L394,2889.3L395,2888.9L396,2888.8L400,2888.8L401,2889L402,2889.4L414,2889.4L415,2889.2L421,2889.2L422,2889.4L424,2889.4L425,2888.9L426,2887.6L427,2887.1L434,2887.1L435,2888.1L436,2889.4L454,2889.4L455,2888.5L456,2888.4L462,2888.4L463,2889.1L464,2889.2L465,2888.6L468,2888.6L469,2888L470,2887.3L471,2887L475,2887L476,2887.2L477,2887.3L478,2888.5L479,2889.4L484,2889.4L485,2888.4L486,2887.9L492,2887.9L493,2888.5L494,2889.3L495,2889.4L496,2889.2L499,2889.2L500,2888L501,2887.5L504,2887.5L505,2887.8L506,2888.9L509,2888.9L510,2889.4L511,2889.4L512,2888.9L513,2888.6L517,2888.6L518,2889L519,2888.7L523,2888.7L524,2888.8L525,2888.7L526,2888.6L527,2888.4L528,2888.2L529,2888L530,2887L531,2887L532,2887.4L533,2887.6L534,2887.4L535,2887.3L536,2886.7L537,2886.3L540,2886.3L541,2882.2L542,2875.5L542.2,2875.5L543,2877.4L544,2883.7L545,2881.1L551,2881.1L552,2883.9L554,2883.9L555,2884.3L556,2886.6L560,2886.6L561,2886.1L562,2883.9L568,2883.9L569,2885.7L573,2885.7L574,2886L575,2886.2L576,2882.5L576.9,2880.1L577,2880.1L578,2883.6L579,2881.9L580,2881.2L585,2881.2L586,2882.6L588,2882.6L589,2882.8L590,2885.6L591,2886.6L592,2886.6L593,2885.7L594,2884.5L596,2884.5L597,2885.7L598,2886.6L603,2886.6L604,2884.7L605,2881.4L606,2881.2L613,2881.2L614,2883.4L615,2883.4L616,2883.7L618,2883.7L619,2884.8L620,2886.6L627,2886.6L628,2884.5L629,2881.4L635,2881.4L636,2877.6L637,2872.1L638,2868.8L639,2868.5L642,2868.5L643,2868.9L644,2872.2L645,2877.7L646,2883.1L647,2884.1L648,2885.2L649,2885.4L650,2885.4L651,2886.1L652,2886.1L653,2885.1L654,2882.2L654.9,2862.8L655,2862.9L656,2884.7L657,2884.2L660,2884.2L661,2883.4L662,2879L663,2877.8L665,2877.8L666,2875.2L667,2873.3L673,2873.3L674,2878.7L675,2883L678,2883L679,2848.6L679.2,2844.3L680,2879.6L681,2883L682,2881.9L683,2876.9L684,2876.2L687,2876.2L688,2880.7L689,2883L690,2880.7L691,2875.4L692,2875.2L693,2875.2L694,2877.2L695,2882.5L696,2883L697,2879.7L698,2876.1L701,2876.1L702,2880.8L703,2883L704,2871.5L704.1,2871.4L705,2879.6L707,2879.6L708,2877.5L709,2873.6L716,2873.6L717,2874.8L720,2874.8L721,2876.1L722,2881.5L723,2883L732,2883L733,2871.4L733,2871.5L734,2883L736,2883L737,2881.3L738,2874.7L739,2871L745,2871L746,2872.8L747,2879.4L748,2874.8L749,2873.7L751,2873.7L752,2879.1L753,2880L754,2876.5L759,2876.5L760,2878.1L761,2874.5L763,2874.5L764,2876.1L765,2881.6L766,2882.7L767,2879.8L770,2879.8L771,2880.5L772,2882.3L774,2882.3L775,2883L777,2883L778,2877.9L779,2871.5L784,2871.5L785,2875.3L786,2877.4L787,2871.1L788,2866.6L789,2865.7L793,2865.7L794,2868.6L795,2874.3L796,2880.7L797,2883L804,2883L805,2882.5L806,2879L808,2879L809,2882.5L810,2883L811,2883L812,2880.1L813,2876L815,2876L816,2871.2L816.7,2850L817,2853.5L818,2873.4L823,2873.4L824,2874L825,2873.2L827,2873.2L828,2872.4L829,2871.8L830,2871.8L831,2873.9L832,2876.6L833,2876.6L834,2879.1L835,2878L837,2878L838,2878.1L839,2882.4L840,2877.1L841,2872.9L844,2872.9L845,2862.6L845.6,2842.5L846,2850.4L847,2880.3L848,2877.5L850,2877.5L851,2878.3L852,2882.3L853,2878.9L854,2877.4L855,2877.4L856,2877.8L857,2881.9L858,2881.7L859,2881.5L860,2873.7L861,2867.4L864,2867.4L865,2868L866,2875.9L867,2877.5L870,2877.5L871,2876.4L872,2867.8L873,2865.3L876,2865.3L877,2871.1L877.4,2867.4L878,2873.5L882,2873.5L883,2878.9L884,2879.8L890,2879.8L891,2877.6L892,2874.6L897,2874.6L898,2850.4L898.8,2796.3L899,2801.3L900,2877.1L901,2879.8L907,2879.8L908,2878.8L909,2878.8L910,2879.8L911,2879.8L912,2872L913,2865.7L918,2865.7L919,2869.9L920,2878.4L921,2879.8L922,2879.7L925,2879.7L926,2877.3L927,2871L931,2871L932,2871.9L933,2869.2L934,2863.4L935,2860.2L936,2859.9L940,2859.9L941,2860L942,2862.6L943,2868L944,2874.6L945,2874.8L951,2874.8L952,2877.7L953,2878.9L954,2875L955,2873.1L960,2873.1L961,2875.5L962,2874.3L963,2871.5L966,2871.5L967,2876.3L968,2879.7L974,2879.7L975,2832.9L975.6,2813.6L976,2818.3L977,2871.4L978,2874.1L979,2873.3L981,2873.3L982,2878.1L983,2878.2L985,2878.2L986,2874.7L987,2869.1L993,2869.1L994,2871.2L995,2877.7L997,2877.7L998,2877.6L999,2876.3L1001,2876.3L1002,2877.9L1003,2868.9L1004,2864L1008,2864L1009,2864.7L1010,2870.9L1011,2868.6L1012,2868.5L1015,2868.5L1016,2865.3L1017,2863.5L1022,2863.5L1023,2869L1025,2869L1026,2875.6L1027,2870.5L1028,2870.5L1029,2867.9L1030,2864.6L1037,2864.6L1038,2867.3L1039,2867.3L1040,2871.1L1041,2879L1042,2879.6L1043,2878L1044,2878L1045,2876.8L1046,2869.6L1047,2869.3L1050,2869.3L1051,2863.6L1052,2854.2L1053,2847.5L1054,2845.4L1059,2845.4L1060,2847L1061,2853.3L1062,2862.5L1063,2872L1064,2853.6L1065,2826.9L1065.2,2826.9L1066,2835.9L1067,2874L1068,2874.6L1069,2879.6L1072,2879.6L1073,2875.8L1078,2875.8L1079,2874.1L1084,2874.1L1085,2801.8L1085.5,2774.3L1086,2813L1087,2878L1088,2879.6L1092,2879.6L1093,2877.2L1094,2874.2L1097,2874.2L1098,2876.8L1099,2876.7L1104,2876.7L1105,2879.6L1107,2879.6L1108,2872.5L1108.6,2862.8L1109,2869.1L1110,2866L1114,2866L1115,2865.9L1119,2865.9L1120,2869.3L1121,2875.2L1122,2875.2L1123,2850.1L1123,2850L1124,2875.2L1126,2875.2L1127,2879.5L1129,2879.5L1130,2873.2L1131,2866.6L1137,2866.6L1138,2872.1L1139,2879.5L1142,2879.5L1143,2876.5L1144,2870.6L1148,2870.6L1149,2847.2L1149,2847.2L1150,2872.2L1153,2872.2L1154,2876.7L1156,2876.7L1157,2876.2L1158,2869.5L1161,2869.5L1162,2871.3L1163,2878.5L1164,2879.5L1167,2879.5L1168,2877L1169,2869.2L1170,2867.6L1175,2867.6L1176,2875.5L1177,2879.5L1183,2879.5L1184,2863.6L1184.8,2820.6L1185,2822.9L1186,2879.1L1187,2879.5L1188,2879.5L1189,2877.6L1191,2877.6L1192,2879.5L1202,2879.5L1203,2875.3L1203.9,2858.1L1204,2858.5L1205,2872.2L1206,2873.7L1207,2879.5L1208,2879.5L1209,2876.1L1212,2876.1L1213,2879.5L1214,2879.5L1215,2873.8L1216,2868.9L1219,2868.9L1220,2868.5L1224,2868.5L1225,2870.5L1226,2878L1227,2871.5L1228,2870.1L1229,2860.6L1230,2840.6L1231,2827.8L1232,2826.9L1234,2826.9L1235,2831.1L1236,2848.2L1237,2862.5L1240,2862.5L1241,2870.7L1242,2879.4L1247,2879.4L1248,2877L1250,2877L1251,2872L1252,2868.1L1254,2868.1L1255,2866.4L1262,2866.4L1263,2873L1264,2875.1L1265,2868.1L1266,2862.7L1270,2862.7L1271,2865L1272,2862.2L1277,2862.2L1278,2869.5L1279,2872.2L1280,2870.6L1281,2870.6L1281.9,2859.9L1282,2860.1L1283,2870.6L1284,2870.6L1285,2877.1L1286,2874.6L1287,2870.1L1290,2870.1L1291,2876.9L1292,2875.3L1293,2869.4L1297,2869.4L1298,2871.1L1299,2866.2L1302,2866.2L1303,2846.2L1303.1,2845.4L1304,2866.2L1305,2866.2L1306,2868.4L1310,2868.4L1311,2873.6L1312,2878.6L1313,2878.6L1314,2874.7L1315,2874.2L1318,2874.2L1319,2867.4L1320,2866.5L1322,2866.5L1323,2860.7L1324,2857L1328,2857L1329,2858.3L1330,2863.5L1335,2863.5L1336,2869.3L1337,2878.5L1338,2878.6L1342,2878.6L1343,2878.5L1344,2875L1345,2875L1346,2869.5L1347,2868.5L1348,2868.5L1349,2872.4L1350,2869.3L1353,2869.3L1354,2875.5L1355,2867.9L1356,2865.7L1360,2865.7L1361,2870.1L1362,2871.2L1364,2871.2L1365,2871.1L1366,2869.3L1371,2869.3L1372,2700.1L1372.5,2638.5L1373,2719.9L1374,2865.7L1375,2796.7L1375.3,2790.5L1376,2815.3L1377,2872L1378,2872L1379,2872.7L1380,2878.4L1382,2878.4L1383,2879.2L1384,2879.4L1385,2879.6L1386,2879.8L1387,2880L1388,2880.2L1389,2880.4L1390,2880.6L1391,2880.8L1392,2876.7L1393,2873.6L1394,2873.6L1395,2874.3L1396,2880.1L1397,2882L1398,2879.8L1399,2876.7L1400,2876.7L1401,2872.6L1405,2872.6L1406,2875.4L1410,2875.4L1411,2878.6L1412,2878.6L1412.9,2865.7L1413,2865.9L1414,2878.6L1415,2882.6L1424,2882.6L1425,2881.3L1428,2881.3L1429,2882.1L1430,2882.6L1443,2882.6L1444,2881.5L1445,2875.2L1446,2872.1L1448,2872.1L1449,2875.6L1450,2881.9L1451,2882.6L1452,2878.4L1453,2865.8L1453.4,2865.7L1454,2867.6L1455,2882.6L1456,2882.4L1457,2879.8L1459,2879.8L1460,2880.8L1461,2882.6L1473,2882.6L1474,2881.6L1475,2877.3L1477,2877.3L1478,2880.2L1479,2882.6L1480,2881.8L1481,2877.4L1482,2865.1L1482.2,2862.8L1483,2877.4L1486,2877.4L1487,2874.6L1490,2874.6L1491,2879.3L1492,2882.6L1496,2882.6L1497,2881.9L1498,2880.5L1499,2880.5L1500,2881.4L1501,2882.6L1502,2881.4L1503,2878.4L1506,2878.4L1507,2879.5L1508,2880.7L1509,2880.7L1510,2878.8L1511,2872.3L1512,2871.5L1516,2871.5L1517,2875.7L1518,2878.8L1519,2875.6L1520,2873.6L1522,2873.6L1523,2876.9L1524,2882.6L1538,2882.6L1539,2881L1540,2874.8L1541,2872.5L1543,2872.5L1544,2876.1L1545,2877.5L1546,2872.8L1547,2872.1L1549,2872.1L1550,2876.7L1551,2882.6L1554,2882.6L1555,2880.6L1556,2879.1L1562,2879.1L1563,2866.4L1563.2,2865.7L1564,2881.2L1565,2882.6L1567,2882.6L1568,2878.9L1569,2872.1L1570,2870.7L1576,2870.7L1577,2877.3L1578,2882.6L1579,2879.8L1580,2877.3L1582,2877.3L1583,2872.5L1583.4,2868.5L1584,2877.5L1585,2876.1L1586,2870.5L1590,2870.5L1591,2872.5L1592,2873.1L1595,2873.1L1596,2873.2L1599,2873.2L1600,2876.1L1602,2876.1L1603,2877.1L1604,2882.1L1605,2883.3L1606,2878.2L1607,2875.6L1612,2875.6L1613,2880.7L1614,2885.4L1615,2882.2L1616,2881.1L1618,2881.1L1619,2881.2L1620,2881.7L1626,2881.7L1627,2884.3L1628,2886.6L1637,2886.6L1638,2884.6L1639,2881.2L1640,2881L1644,2881L1645,2882L1646,2885.3L1647,2885.6L1650,2885.6L1651,2884.7L1652,2881.5L1653,2881.4L1655,2881.4L1656,2882L1657,2885.2L1658,2886.7L1664,2886.7L1665,2885.7L1666,2882.2L1667,2880.8L1671,2880.8L1672,2881.5L1673,2884.9L1674,2886.5L1677,2886.5L1678,2886.7L1680,2886.7L1681,2885.3L1682,2882.3L1683,2881.9L1684,2881.9L1685,2883.7L1686,2884.5L1690,2884.5L1691,2884.7L1692,2886.7L1696,2886.7L1697,2884.8L1698,2882.1L1700,2882.1L1701,2884.1L1702,2886.7L1703,2884.9L1704,2883.9L1705,2883.5L1706,2881.6L1709,2881.6L1710,2883L1711,2885.3L1712,2886.8L1718,2886.8L1719,2879.4L1719.2,2878.9L1720,2881.6L1721,2881.4L1725,2881.4L1726,2881.7L1727,2884.9L1728,2886.8L1738,2886.8L1739,2885.7L1740,2884.6L1741,2884.6L1742,2878.7L1742.3,2877.2L1743,2883.9L1744,2884.6L1745,2885.2L1746,2886.8L1748,2886.8L1749,2883.9L1750,2882.4L1753,2882.4L1754,2882.2L1761,2882.2L1762,2884.1L1766,2884.1L1767,2885L1768,2885.8L1771,2885.8L1772,2885.5L1773,2882.3L1774,2881.4L1777,2881.4L1778,2882.1L1779,2885.3L1780,2885.5L1781,2885.7L1782,2886.8L1783,2885L1786,2885L1787,2885.6L1788,2886.9L1799,2886.9L1800,2884.5L1801,2882.4L1808,2882.4L1809,2884.5L1810,2886.9L1818,2886.9L1819,2886.7L1820,2883.8L1821,2882.4L1825,2882.4L1826,2883.1L1827,2883.3L1832,2883.3L1833,2884.7L1834,2887L1837,2887L1838,2886.6L1839,2884.4L1841,2884.4L1842,2884.8L1843,2886.7L1846,2886.7L1847,2887L1850,2887L1851,2887.1L1852,2886.7L1853,2885.7L1859,2885.7L1860,2885.8L1861,2887.6L1862,2888.2L1863,2888.3L1864,2887.7L1865,2887L1870,2887L1871,2888.4L1872,2888.5L1876,2888.5L1877,2888.8L1878,2889L1891,2889L1892,2888.9L1893,2888.9L1894,2889L1895,2889L1896,2887.8L1897,2887.2L1902,2887.2L1903,2887.5L1904,2877.4L1904.1,2877.2L1905,2886.3L1906,2888.9L1909,2888.9L1910,2887.5L1911,2886.4L1916,2886.4L1917,2887.4L1918,2888.9L1919,2889L1923,2889L1924,2888.7L1925,2888L1928,2888L1929,2887.6L1931,2887.6L1932,2886.2L1933,2873.2L1933,2873.2L1934,2886.4L1935,2887.6L1936,2888.2L1937,2889L1949,2889L1950,2888.5L1951,2887.5L1952,2887.5L1953,2887.6L1954,2888.4L1955,2886.8L1956,2886.5L1958,2886.5L1959,2887.6L1960,2888.6L1961,2888.6L1962,2888.1L1963,2887.8L1965,2887.8L1966,2888L1967,2888.1L1968,2887.3L1970,2887.3L1971,2888.2L1972,2889L1973,2888.4L1974,2888L1978,2888L1979,2887.4L1985,2887.4L1986,2888.4L1987,2888L1988,2887.8L1993,2887.8L1994,2888.5L1995,2888L1996,2887.6L2001,2887.6L2002,2888.5L2003,2889L2008,2889L2009,2888.5L2010,2886.9L2011,2886.1L2015,2886.1L2016,2887.6L2017,2887.6L2018,2887.3L2022,2887.3L2023,2887.5L2024,2888.8L2025,2889L2027,2889L2028,2888.4L2029,2887.4L2036,2887.4L2037,2888.3L2038,2886.7L2039,2886.2L2043,2886.2L2044,2886.9L2045,2888.5L2046,2888.7L2047,2888.8L2048,2888.4L2050,2888.4L2051,2888.9L2053,2888.9L2054,2887.7L2055,2886.7L2058,2886.7L2059,2887.4L2060,2888.8L2061,2889L2062,2888.9L2063,2887.3L2064,2886.4L2066,2886.4L2067,2886.8L2068,2887.2L2072,2887.2L2073,2887.4L2074,2888.7L2075,2888.1L2076,2887.6L2082,2887.6L2083,2887.8L2086,2887.8L2087,2888.9L2088,2889L2090,2889L2091,2887.6L2092,2886.8L2093,2886.8L2094,2887.2L2095,2888.6L2096,2889L2103,2889L2104,2887.9L2105,2886.3L2106,2886.1L2112,2886.1L2113,2886.5L2114,2888.2L2116,2888.2L2117,2889L2119,2889L2120,2888.9L2124,2888.9L2125,2888.4L2126,2887.1L2133,2887.1L2134,2888.3L2135,2888.5L2136,2888.8L2137,2888.9L2138,2888.1L2142,2888.1L2143,2888.5L2144,2888.5L2145,2888.8L2146,2889L2148,2889L2149,2888.2L2150,2887.4L2152,2887.4L2153,2886.7L2160,2886.7L2161,2886.8L2162,2888.2L2163,2889L2171,2889L2172,2888.1L2173,2887L2176,2887L2177,2887.4L2178,2888.3L2179,2888.3L2180,2888.6L2181,2889L2182,2888.9L2183,2888.8L2185,2888.8L2186,2889L2191,2889L2192,2888.4L2193,2888.1L2194,2888.1L2195,2888.4L2196,2889L2198,2889L2199,2888.7L2203,2888.7L2204,2888.2L2205,2888.2L2206,2888L2207,2887L2213,2887L2214,2887.4L2215,2888.8L2216,2889L2220,2889L2221,2888.8L2224,2888.8L2225,2887.5L2226,2886.9L2226.0,2891.0Z" fill="#00c0c0" stroke="#00c0c0" stroke-width="7" stroke-linejoin="round" stroke-linecap="round"/>
<g fill="#000"><rect x="336.0" y="49.5" width="8.5" height="2857.2"/><rect x="336.0" y="332.25" width="1892.5" height="8.5"/><rect x="336.0" y="613.75" width="1892.5" height="8.5"/><rect x="336.0" y="899.25" width="1892.5" height="8.5"/><rect x="336.0" y="1186.25" width="1892.5" height="8.5"/><rect x="336.0" y="1471.55" width="1892.5" height="8.5"/><rect x="336.0" y="1758.25" width="1892.5" height="8.5"/><rect x="336.0" y="2042.25" width="1892.5" height="8.5"/><rect x="336.0" y="2327.35" width="1892.5" height="8.5"/><rect x="336.0" y="2614.25" width="1892.5" height="8.5"/><rect x="336.0" y="2898.30" width="1889.3" height="8.4"/><rect x="319.5" y="110.00" width="17.5" height="10.0"/><rect x="319.5" y="179.50" width="17.5" height="10.0"/><rect x="319.5" y="247.50" width="17.5" height="10.0"/><rect x="319.5" y="316.00" width="17.5" height="10.0"/><rect x="319.5" y="412.60" width="17.5" height="10.0"/><rect x="319.5" y="505.00" width="17.5" height="10.0"/><rect x="319.5" y="600.60" width="17.5" height="10.0"/><rect x="319.5" y="645.10" width="17.5" height="10.0"/><rect x="319.5" y="765.50" width="17.5" height="10.0"/><rect x="319.5" y="885.00" width="17.5" height="10.0"/><rect x="319.5" y="931.80" width="17.5" height="10.0"/><rect x="319.5" y="1053.40" width="17.5" height="10.0"/><rect x="319.5" y="1172.90" width="17.5" height="10.0"/><rect x="319.5" y="1265.00" width="17.5" height="10.0"/><rect x="319.5" y="1329.00" width="17.5" height="10.0"/><rect x="319.5" y="1395.00" width="17.5" height="10.0"/><rect x="319.5" y="1456.20" width="17.5" height="10.0"/><rect x="319.5" y="1572.00" width="17.5" height="10.0"/><rect x="319.5" y="1660.60" width="17.5" height="10.0"/><rect x="319.5" y="1743.60" width="17.5" height="10.0"/><rect x="319.5" y="1807.90" width="17.5" height="10.0"/><rect x="319.5" y="1882.70" width="17.5" height="10.0"/><rect x="319.5" y="1955.70" width="17.5" height="10.0"/><rect x="319.5" y="2027.80" width="17.5" height="10.0"/><rect x="319.5" y="2111.80" width="17.5" height="10.0"/><rect x="319.5" y="2180.60" width="17.5" height="10.0"/><rect x="319.5" y="2247.20" width="17.5" height="10.0"/><rect x="319.5" y="2313.80" width="17.5" height="10.0"/><rect x="319.5" y="2404.20" width="17.5" height="10.0"/><rect x="319.5" y="2501.30" width="17.5" height="10.0"/><rect x="319.5" y="2599.90" width="17.5" height="10.0"/><rect x="319.5" y="2681.00" width="17.5" height="10.0"/><rect x="319.5" y="2785.20" width="17.5" height="10.0"/><rect x="319.5" y="2885.40" width="17.5" height="10.0"/><rect x="550.40" y="2902.5" width="9.2" height="22.5"/><rect x="881.90" y="2902.5" width="9.2" height="22.5"/><rect x="1218.90" y="2902.5" width="9.2" height="22.5"/><rect x="1550.50" y="2902.5" width="9.2" height="22.5"/><rect x="1886.90" y="2902.5" width="9.2" height="22.5"/><rect x="2215.90" y="2902.5" width="9.2" height="22.5"/></g>
<text x="304.5" y="130.1" text-anchor="end" font-size="58">600</text><text x="304.5" y="200.8" text-anchor="end" font-size="58">400</text><text x="304.5" y="268.6" text-anchor="end" font-size="58">200</text><text x="304.5" y="336.9" text-anchor="end" font-size="58">0</text><text x="304.5" y="432.3" text-anchor="end" font-size="58">4.00</text><text x="304.5" y="528.0" text-anchor="end" font-size="58">2.00</text><text x="304.5" y="620.0" text-anchor="end" font-size="58">0</text><text x="304.5" y="667.5" text-anchor="end" font-size="58">8.00</text><text x="304.5" y="786.5" text-anchor="end" font-size="58">4.00</text><text x="304.5" y="905.8" text-anchor="end" font-size="58">0</text><text x="304.5" y="954.5" text-anchor="end" font-size="58">4.00</text><text x="304.5" y="1074.3" text-anchor="end" font-size="58">2.00</text><text x="304.5" y="1195.0" text-anchor="end" font-size="58">0</text><text x="304.5" y="1286.8" text-anchor="end" font-size="58">0.75</text><text x="304.5" y="1352.0" text-anchor="end" font-size="58">0.50</text><text x="304.5" y="1417.5" text-anchor="end" font-size="58">0.25</text><text x="304.5" y="1478.2" text-anchor="end" font-size="58">0</text><text x="304.5" y="1593.0" text-anchor="end" font-size="58">4.00</text><text x="304.5" y="1681.0" text-anchor="end" font-size="58">2.00</text><text x="304.5" y="1766.5" text-anchor="end" font-size="58">0</text><text x="304.5" y="1830.5" text-anchor="end" font-size="58">1.50</text><text x="304.5" y="1905.0" text-anchor="end" font-size="58">1.00</text><text x="304.5" y="1976.2" text-anchor="end" font-size="58">0.50</text><text x="304.5" y="2047.8" text-anchor="end" font-size="58">0</text><text x="304.5" y="2132.5" text-anchor="end" font-size="58">3.00</text><text x="304.5" y="2203.5" text-anchor="end" font-size="58">2.00</text><text x="304.5" y="2270.8" text-anchor="end" font-size="58">1.00</text><text x="304.5" y="2336.5" text-anchor="end" font-size="58">0</text><text x="304.5" y="2427.0" text-anchor="end" font-size="58">1.00</text><text x="304.5" y="2523.5" text-anchor="end" font-size="58">0.50</text><text x="304.5" y="2622.5" text-anchor="end" font-size="58">0</text><text x="304.5" y="2701.0" text-anchor="end" font-size="58">4.00</text><text x="304.5" y="2801.7" text-anchor="end" font-size="58">2.00</text><text x="304.5" y="2906.2" text-anchor="end" font-size="58">0</text>
<text x="551.9" y="2981.0" text-anchor="middle" font-size="73">10</text><text x="883.5" y="2981.0" text-anchor="middle" font-size="73">20</text><text x="1222.2" y="2981.0" text-anchor="middle" font-size="73">30</text><text x="1554.0" y="2981.0" text-anchor="middle" font-size="73">40</text><text x="1889.4" y="2981.0" text-anchor="middle" font-size="73">50</text><text x="2216.4" y="2981.0" text-anchor="middle" font-size="73">60</text>
<text transform="translate(2213.0,111.0) scale(0.977,1)" text-anchor="end" font-size="58.5">656.3 &gt; 181:666 Da</text><text transform="translate(2208.0,410.6) scale(0.979,1)" text-anchor="end" font-size="58">X<tspan font-size="38.5" dy="6">2</tspan><tspan font-size="43" font-weight="normal" dy="-30.8">+</tspan><tspan dy="24.8"> 305.2 Da</tspan></text><text transform="translate(2213.1,693.2) scale(0.977,1)" text-anchor="end" font-size="58">C<tspan font-size="38.5" dy="6">4</tspan><tspan font-size="43" font-weight="normal" dy="-30.8">+</tspan><tspan dy="24.8"> 542.2 Da</tspan></text><text transform="translate(2212.4,977.9) scale(0.968,1)" text-anchor="end" font-size="58">B<tspan font-size="38.5" dy="6">4</tspan><tspan font-size="43" font-weight="normal" dy="-30.8">+</tspan><tspan dy="24.8"> 525.2 Da</tspan></text><text transform="translate(2212.4,1266.2) scale(0.968,1)" text-anchor="end" font-size="58">B<tspan font-size="38.5" dy="6">3</tspan><tspan font-size="43" font-weight="normal" dy="-30.8">+</tspan><tspan dy="24.8"> 378.1 Da</tspan></text><text transform="translate(2211.5,1550.6) scale(0.968,1)" text-anchor="end" font-size="58">B<tspan font-size="38.5" dy="6">2</tspan><tspan font-size="43" font-weight="normal" dy="-30.8">+</tspan><tspan dy="24.8"> 231.1 Da</tspan></text><text transform="translate(2212.4,1836.4) scale(0.969,1)" text-anchor="end" font-size="58">A<tspan font-size="38.5" dy="6">3</tspan><tspan font-size="43" font-weight="normal" dy="-30.8">+</tspan><tspan dy="24.8"> 350.1 Da</tspan></text><text transform="translate(2212.4,2121.8) scale(0.974,1)" text-anchor="end" font-size="58">A<tspan font-size="38.5" dy="6">5</tspan><tspan font-size="43" font-weight="normal" dy="-30.8">+</tspan><tspan dy="24.8"> 610.3 Da</tspan></text><text transform="translate(2212.4,2406.4) scale(0.976,1)" text-anchor="end" font-size="58">Z<tspan font-size="38.5" dy="6">2</tspan><tspan font-size="43" font-weight="normal" dy="-30.8">+</tspan><tspan dy="24.8"> 262.1 Da</tspan></text><text transform="translate(2212.4,2696.1) scale(0.976,1)" text-anchor="end" font-size="58">Z<tspan font-size="38.5" dy="6">4</tspan><tspan font-size="43" font-weight="normal" dy="-30.8">+</tspan><tspan dy="24.8"> 524.2 Da</tspan></text>
<text x="862.8" y="3113" font-size="100">Retention time</text>
<text x="1530.3" y="3113" font-size="93" textLength="200.4" lengthAdjust="spacingAndGlyphs">(min)</text>
<text transform="translate(122.5,1949) rotate(-90)" x="0" y="0" font-size="100">Intensity</text>
<text transform="translate(122.5,1545.7) rotate(-90)" x="0" y="0" font-size="92">(kCounts)</text>
</svg></body></html>
